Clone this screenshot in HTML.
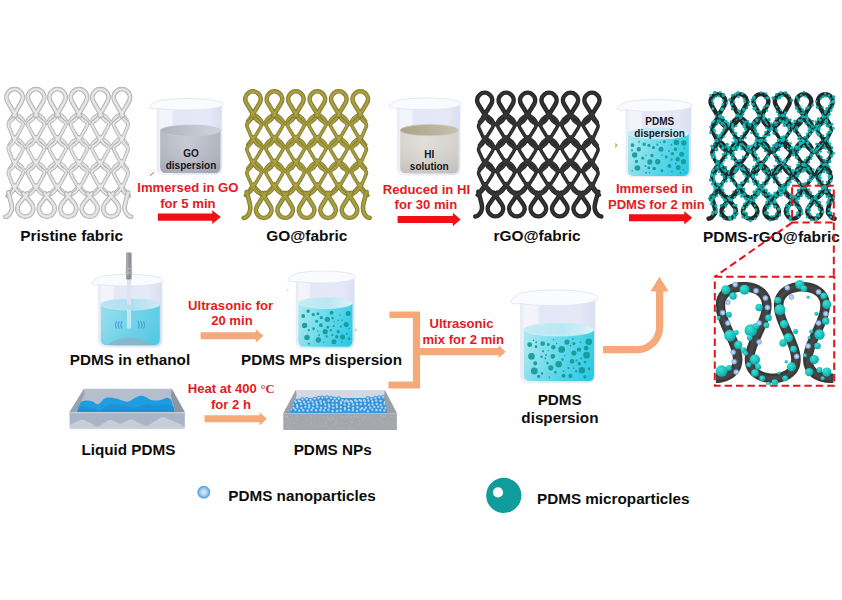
<!DOCTYPE html>
<html><head><meta charset="utf-8"><title>PDMS-rGO@fabric preparation</title>
<style>
html,body{margin:0;padding:0;background:#fff;}
body{width:842px;height:600px;overflow:hidden;font-family:"Liberation Sans",sans-serif;}
svg{display:block}
</style></head><body>
<svg width="842" height="600" viewBox="0 0 842 600">
<defs>
<linearGradient id="gl1" x1="0" x2="1" y1="0" y2="0"><stop offset="0" stop-color="#e6e9f6"/><stop offset="0.06" stop-color="#f4f5fb"/><stop offset="0.22" stop-color="#f3f4fb"/><stop offset="0.26" stop-color="#e3e7f6"/><stop offset="0.8" stop-color="#e4e8f7"/><stop offset="1" stop-color="#d9def2"/></linearGradient>
<linearGradient id="lq1" x1="0" x2="1" y1="0" y2="0"><stop offset="0" stop-color="#b4b8c2"/><stop offset="0.45" stop-color="#c6c9d3"/><stop offset="1" stop-color="#afb3be"/></linearGradient>
<linearGradient id="ls1" x1="0" x2="1" y1="0" y2="0"><stop offset="0" stop-color="#aeb2ba"/><stop offset="0.6" stop-color="#c4c7cf"/><stop offset="1" stop-color="#cfd2da"/></linearGradient>
<linearGradient id="lh1" x1="0" x2="0" y1="0" y2="1"><stop offset="0" stop-color="#ffffff" stop-opacity="0"/><stop offset="1" stop-color="#6c707c" stop-opacity="0.28"/></linearGradient>
<linearGradient id="gl2" x1="0" x2="1" y1="0" y2="0"><stop offset="0" stop-color="#e6e9f6"/><stop offset="0.06" stop-color="#f4f5fb"/><stop offset="0.22" stop-color="#f3f4fb"/><stop offset="0.26" stop-color="#e3e7f6"/><stop offset="0.8" stop-color="#e4e8f7"/><stop offset="1" stop-color="#d9def2"/></linearGradient>
<linearGradient id="lq2" x1="0" x2="1" y1="0" y2="0"><stop offset="0" stop-color="#d6d4cd"/><stop offset="0.4" stop-color="#e1dfd9"/><stop offset="1" stop-color="#d3d1ca"/></linearGradient>
<linearGradient id="ls2" x1="0" x2="1" y1="0" y2="0"><stop offset="0" stop-color="#a9a389"/><stop offset="0.5" stop-color="#b7b199"/><stop offset="1" stop-color="#c6c1ad"/></linearGradient>
<linearGradient id="lh2" x1="0" x2="0" y1="0" y2="1"><stop offset="0" stop-color="#ffffff" stop-opacity="0"/><stop offset="1" stop-color="#77766e" stop-opacity="0.22"/></linearGradient>
<linearGradient id="gl3" x1="0" x2="1" y1="0" y2="0"><stop offset="0" stop-color="#e6e9f6"/><stop offset="0.06" stop-color="#f4f5fb"/><stop offset="0.22" stop-color="#f3f4fb"/><stop offset="0.26" stop-color="#e3e7f6"/><stop offset="0.8" stop-color="#e4e8f7"/><stop offset="1" stop-color="#d9def2"/></linearGradient>
<linearGradient id="lq3" x1="0" x2="1" y1="0" y2="0"><stop offset="0" stop-color="#a6e8f2"/><stop offset="0.45" stop-color="#66daea"/><stop offset="1" stop-color="#27cbe7"/></linearGradient>
<linearGradient id="ls3" x1="0" x2="1" y1="0" y2="0"><stop offset="0" stop-color="#c6ecf6"/><stop offset="0.55" stop-color="#bae7f3"/><stop offset="1" stop-color="#dcf2f9"/></linearGradient>
<linearGradient id="lh3" x1="0" x2="0" y1="0" y2="1"><stop offset="0" stop-color="#ffffff" stop-opacity="0.1"/><stop offset="1" stop-color="#12b2da" stop-opacity="0.16"/></linearGradient>
<linearGradient id="gl4" x1="0" x2="1" y1="0" y2="0"><stop offset="0" stop-color="#e6e9f6"/><stop offset="0.06" stop-color="#f4f5fb"/><stop offset="0.22" stop-color="#f3f4fb"/><stop offset="0.26" stop-color="#e3e7f6"/><stop offset="0.8" stop-color="#e4e8f7"/><stop offset="1" stop-color="#d9def2"/></linearGradient>
<linearGradient id="lq4" x1="0" x2="1" y1="0" y2="0"><stop offset="0" stop-color="#8fdcec"/><stop offset="0.5" stop-color="#6fd4e8"/><stop offset="1" stop-color="#55cbe6"/></linearGradient>
<linearGradient id="ls4" x1="0" x2="1" y1="0" y2="0"><stop offset="0" stop-color="#b9e5f2"/><stop offset="0.55" stop-color="#b0e1f0"/><stop offset="1" stop-color="#cdeaf6"/></linearGradient>
<linearGradient id="lh4" x1="0" x2="0" y1="0" y2="1"><stop offset="0" stop-color="#ffffff" stop-opacity="0.05"/><stop offset="1" stop-color="#2aa6d2" stop-opacity="0.18"/></linearGradient>
<linearGradient id="gl5" x1="0" x2="1" y1="0" y2="0"><stop offset="0" stop-color="#e6e9f6"/><stop offset="0.06" stop-color="#f4f5fb"/><stop offset="0.22" stop-color="#f3f4fb"/><stop offset="0.26" stop-color="#e3e7f6"/><stop offset="0.8" stop-color="#e4e8f7"/><stop offset="1" stop-color="#d9def2"/></linearGradient>
<linearGradient id="lq5" x1="0" x2="1" y1="0" y2="0"><stop offset="0" stop-color="#a6e8f2"/><stop offset="0.45" stop-color="#66daea"/><stop offset="1" stop-color="#27cbe7"/></linearGradient>
<linearGradient id="ls5" x1="0" x2="1" y1="0" y2="0"><stop offset="0" stop-color="#c6ecf6"/><stop offset="0.55" stop-color="#bae7f3"/><stop offset="1" stop-color="#dcf2f9"/></linearGradient>
<linearGradient id="lh5" x1="0" x2="0" y1="0" y2="1"><stop offset="0" stop-color="#ffffff" stop-opacity="0.1"/><stop offset="1" stop-color="#12b2da" stop-opacity="0.16"/></linearGradient>
<linearGradient id="gl6" x1="0" x2="1" y1="0" y2="0"><stop offset="0" stop-color="#e6e9f6"/><stop offset="0.06" stop-color="#f4f5fb"/><stop offset="0.22" stop-color="#f3f4fb"/><stop offset="0.26" stop-color="#e3e7f6"/><stop offset="0.8" stop-color="#e4e8f7"/><stop offset="1" stop-color="#d9def2"/></linearGradient>
<linearGradient id="lq6" x1="0" x2="1" y1="0" y2="0"><stop offset="0" stop-color="#a6e8f2"/><stop offset="0.45" stop-color="#66daea"/><stop offset="1" stop-color="#27cbe7"/></linearGradient>
<linearGradient id="ls6" x1="0" x2="1" y1="0" y2="0"><stop offset="0" stop-color="#c6ecf6"/><stop offset="0.55" stop-color="#bae7f3"/><stop offset="1" stop-color="#dcf2f9"/></linearGradient>
<linearGradient id="lh6" x1="0" x2="0" y1="0" y2="1"><stop offset="0" stop-color="#ffffff" stop-opacity="0.1"/><stop offset="1" stop-color="#12b2da" stop-opacity="0.16"/></linearGradient>
<radialGradient id="leg1" cx="0.5" cy="0.5" r="0.5"><stop offset="0" stop-color="#d9ecfa"/><stop offset="0.45" stop-color="#b4d6f2"/><stop offset="0.8" stop-color="#6fb0e4"/><stop offset="1" stop-color="#4b9ad8"/></radialGradient>
<radialGradient id="tealg" cx="0.38" cy="0.32" r="0.75"><stop offset="0" stop-color="#3fe0d6"/><stop offset="0.55" stop-color="#19c2bc"/><stop offset="1" stop-color="#0fa09c"/></radialGradient>
<radialGradient id="npg" cx="0.5" cy="0.5" r="0.5"><stop offset="0" stop-color="#d4e6fa"/><stop offset="0.5" stop-color="#a9c8f0"/><stop offset="1" stop-color="#7ea8e4"/></radialGradient>
</defs>
<rect width="842" height="600" fill="#ffffff"/>
<!-- fabrics -->
<g fill="none" stroke-linecap="round" stroke-linejoin="round">
<path d="M9.31 120.52L15.2 113M14 113L18.62 115.66Q21.22 117.15 22.7 119.76L23.85 121.79Q25.32 124.4 26.8 121.79L27.95 119.76Q29.43 117.15 32.03 115.66L36.65 113M35.45 113L40.07 115.66Q42.67 117.15 44.15 119.76L45.3 121.79Q46.77 124.4 48.25 121.79L49.4 119.76Q50.88 117.15 53.48 115.66L58.1 113M56.9 113L61.52 115.66Q64.12 117.15 65.6 119.76L66.75 121.79Q68.22 124.4 69.7 121.79L70.85 119.76Q72.33 117.15 74.93 115.66L79.55 113M78.35 113L82.97 115.66Q85.57 117.15 87.05 119.76L88.2 121.79Q89.67 124.4 91.15 121.79L92.3 119.76Q93.78 117.15 96.38 115.66L101 113M99.8 113L104.42 115.66Q107.02 117.15 108.5 119.76L109.65 121.79Q111.12 124.4 112.6 121.79L113.75 119.76Q115.23 117.15 117.83 115.66L122.45 113M121.25 113L127.14 120.52M9.31 144.72L15.2 137.2M14 137.2L18.62 139.86Q21.22 141.35 22.7 143.96L23.85 145.99Q25.32 148.6 26.8 145.99L27.95 143.96Q29.43 141.35 32.03 139.86L36.65 137.2M35.45 137.2L40.07 139.86Q42.67 141.35 44.15 143.96L45.3 145.99Q46.77 148.6 48.25 145.99L49.4 143.96Q50.88 141.35 53.48 139.86L58.1 137.2M56.9 137.2L61.52 139.86Q64.12 141.35 65.6 143.96L66.75 145.99Q68.22 148.6 69.7 145.99L70.85 143.96Q72.33 141.35 74.93 139.86L79.55 137.2M78.35 137.2L82.97 139.86Q85.57 141.35 87.05 143.96L88.2 145.99Q89.67 148.6 91.15 145.99L92.3 143.96Q93.78 141.35 96.38 139.86L101 137.2M99.8 137.2L104.42 139.86Q107.02 141.35 108.5 143.96L109.65 145.99Q111.12 148.6 112.6 145.99L113.75 143.96Q115.23 141.35 117.83 139.86L122.45 137.2M121.25 137.2L127.14 144.72M9.31 168.92L15.2 161.4M14 161.4L18.62 164.06Q21.22 165.55 22.7 168.16L23.85 170.19Q25.32 172.8 26.8 170.19L27.95 168.16Q29.43 165.55 32.03 164.06L36.65 161.4M35.45 161.4L40.07 164.06Q42.67 165.55 44.15 168.16L45.3 170.19Q46.77 172.8 48.25 170.19L49.4 168.16Q50.88 165.55 53.48 164.06L58.1 161.4M56.9 161.4L61.52 164.06Q64.12 165.55 65.6 168.16L66.75 170.19Q68.22 172.8 69.7 170.19L70.85 168.16Q72.33 165.55 74.93 164.06L79.55 161.4M78.35 161.4L82.97 164.06Q85.57 165.55 87.05 168.16L88.2 170.19Q89.67 172.8 91.15 170.19L92.3 168.16Q93.78 165.55 96.38 164.06L101 161.4M99.8 161.4L104.42 164.06Q107.02 165.55 108.5 168.16L109.65 170.19Q111.12 172.8 112.6 170.19L113.75 168.16Q115.23 165.55 117.83 164.06L122.45 161.4M121.25 161.4L127.14 168.92M15.3 185.5L7.18 195.8M13.9 185.5L24.43 195.8M36.75 185.5L26.22 195.8M35.35 185.5L45.88 195.8M58.2 185.5L47.67 195.8M56.8 185.5L67.32 195.8M79.65 185.5L69.12 195.8M78.25 185.5L88.77 195.8M101.1 185.5L90.58 195.8M99.7 185.5L110.22 195.8M122.55 185.5L112.02 195.8M121.15 185.5L129.27 195.8" stroke="#adadad" stroke-width="3.7"/>
<path d="M9.31 120.52L15.2 113M14 113L18.62 115.66Q21.22 117.15 22.7 119.76L23.85 121.79Q25.32 124.4 26.8 121.79L27.95 119.76Q29.43 117.15 32.03 115.66L36.65 113M35.45 113L40.07 115.66Q42.67 117.15 44.15 119.76L45.3 121.79Q46.77 124.4 48.25 121.79L49.4 119.76Q50.88 117.15 53.48 115.66L58.1 113M56.9 113L61.52 115.66Q64.12 117.15 65.6 119.76L66.75 121.79Q68.22 124.4 69.7 121.79L70.85 119.76Q72.33 117.15 74.93 115.66L79.55 113M78.35 113L82.97 115.66Q85.57 117.15 87.05 119.76L88.2 121.79Q89.67 124.4 91.15 121.79L92.3 119.76Q93.78 117.15 96.38 115.66L101 113M99.8 113L104.42 115.66Q107.02 117.15 108.5 119.76L109.65 121.79Q111.12 124.4 112.6 121.79L113.75 119.76Q115.23 117.15 117.83 115.66L122.45 113M121.25 113L127.14 120.52M9.31 144.72L15.2 137.2M14 137.2L18.62 139.86Q21.22 141.35 22.7 143.96L23.85 145.99Q25.32 148.6 26.8 145.99L27.95 143.96Q29.43 141.35 32.03 139.86L36.65 137.2M35.45 137.2L40.07 139.86Q42.67 141.35 44.15 143.96L45.3 145.99Q46.77 148.6 48.25 145.99L49.4 143.96Q50.88 141.35 53.48 139.86L58.1 137.2M56.9 137.2L61.52 139.86Q64.12 141.35 65.6 143.96L66.75 145.99Q68.22 148.6 69.7 145.99L70.85 143.96Q72.33 141.35 74.93 139.86L79.55 137.2M78.35 137.2L82.97 139.86Q85.57 141.35 87.05 143.96L88.2 145.99Q89.67 148.6 91.15 145.99L92.3 143.96Q93.78 141.35 96.38 139.86L101 137.2M99.8 137.2L104.42 139.86Q107.02 141.35 108.5 143.96L109.65 145.99Q111.12 148.6 112.6 145.99L113.75 143.96Q115.23 141.35 117.83 139.86L122.45 137.2M121.25 137.2L127.14 144.72M9.31 168.92L15.2 161.4M14 161.4L18.62 164.06Q21.22 165.55 22.7 168.16L23.85 170.19Q25.32 172.8 26.8 170.19L27.95 168.16Q29.43 165.55 32.03 164.06L36.65 161.4M35.45 161.4L40.07 164.06Q42.67 165.55 44.15 168.16L45.3 170.19Q46.77 172.8 48.25 170.19L49.4 168.16Q50.88 165.55 53.48 164.06L58.1 161.4M56.9 161.4L61.52 164.06Q64.12 165.55 65.6 168.16L66.75 170.19Q68.22 172.8 69.7 170.19L70.85 168.16Q72.33 165.55 74.93 164.06L79.55 161.4M78.35 161.4L82.97 164.06Q85.57 165.55 87.05 168.16L88.2 170.19Q89.67 172.8 91.15 170.19L92.3 168.16Q93.78 165.55 96.38 164.06L101 161.4M99.8 161.4L104.42 164.06Q107.02 165.55 108.5 168.16L109.65 170.19Q111.12 172.8 112.6 170.19L113.75 168.16Q115.23 165.55 117.83 164.06L122.45 161.4M121.25 161.4L127.14 168.92M15.3 185.5L7.18 195.8M13.9 185.5L24.43 195.8M36.75 185.5L26.22 195.8M35.35 185.5L45.88 195.8M58.2 185.5L47.67 195.8M56.8 185.5L67.32 195.8M79.65 185.5L69.12 195.8M78.25 185.5L88.77 195.8M101.1 185.5L90.58 195.8M99.7 185.5L110.22 195.8M122.55 185.5L112.02 195.8M121.15 185.5L129.27 195.8" stroke="#d3d3d3" stroke-width="2.5"/>
<path d="M9.31 120.52L15.2 113M14 113L18.62 115.66Q21.22 117.15 22.7 119.76L23.85 121.79Q25.32 124.4 26.8 121.79L27.95 119.76Q29.43 117.15 32.03 115.66L36.65 113M35.45 113L40.07 115.66Q42.67 117.15 44.15 119.76L45.3 121.79Q46.77 124.4 48.25 121.79L49.4 119.76Q50.88 117.15 53.48 115.66L58.1 113M56.9 113L61.52 115.66Q64.12 117.15 65.6 119.76L66.75 121.79Q68.22 124.4 69.7 121.79L70.85 119.76Q72.33 117.15 74.93 115.66L79.55 113M78.35 113L82.97 115.66Q85.57 117.15 87.05 119.76L88.2 121.79Q89.67 124.4 91.15 121.79L92.3 119.76Q93.78 117.15 96.38 115.66L101 113M99.8 113L104.42 115.66Q107.02 117.15 108.5 119.76L109.65 121.79Q111.12 124.4 112.6 121.79L113.75 119.76Q115.23 117.15 117.83 115.66L122.45 113M121.25 113L127.14 120.52M9.31 144.72L15.2 137.2M14 137.2L18.62 139.86Q21.22 141.35 22.7 143.96L23.85 145.99Q25.32 148.6 26.8 145.99L27.95 143.96Q29.43 141.35 32.03 139.86L36.65 137.2M35.45 137.2L40.07 139.86Q42.67 141.35 44.15 143.96L45.3 145.99Q46.77 148.6 48.25 145.99L49.4 143.96Q50.88 141.35 53.48 139.86L58.1 137.2M56.9 137.2L61.52 139.86Q64.12 141.35 65.6 143.96L66.75 145.99Q68.22 148.6 69.7 145.99L70.85 143.96Q72.33 141.35 74.93 139.86L79.55 137.2M78.35 137.2L82.97 139.86Q85.57 141.35 87.05 143.96L88.2 145.99Q89.67 148.6 91.15 145.99L92.3 143.96Q93.78 141.35 96.38 139.86L101 137.2M99.8 137.2L104.42 139.86Q107.02 141.35 108.5 143.96L109.65 145.99Q111.12 148.6 112.6 145.99L113.75 143.96Q115.23 141.35 117.83 139.86L122.45 137.2M121.25 137.2L127.14 144.72M9.31 168.92L15.2 161.4M14 161.4L18.62 164.06Q21.22 165.55 22.7 168.16L23.85 170.19Q25.32 172.8 26.8 170.19L27.95 168.16Q29.43 165.55 32.03 164.06L36.65 161.4M35.45 161.4L40.07 164.06Q42.67 165.55 44.15 168.16L45.3 170.19Q46.77 172.8 48.25 170.19L49.4 168.16Q50.88 165.55 53.48 164.06L58.1 161.4M56.9 161.4L61.52 164.06Q64.12 165.55 65.6 168.16L66.75 170.19Q68.22 172.8 69.7 170.19L70.85 168.16Q72.33 165.55 74.93 164.06L79.55 161.4M78.35 161.4L82.97 164.06Q85.57 165.55 87.05 168.16L88.2 170.19Q89.67 172.8 91.15 170.19L92.3 168.16Q93.78 165.55 96.38 164.06L101 161.4M99.8 161.4L104.42 164.06Q107.02 165.55 108.5 168.16L109.65 170.19Q111.12 172.8 112.6 170.19L113.75 168.16Q115.23 165.55 117.83 164.06L122.45 161.4M121.25 161.4L127.14 168.92M15.3 185.5L7.18 195.8M13.9 185.5L24.43 195.8M36.75 185.5L26.22 195.8M35.35 185.5L45.88 195.8M58.2 185.5L47.67 195.8M56.8 185.5L67.32 195.8M79.65 185.5L69.12 195.8M78.25 185.5L88.77 195.8M101.1 185.5L90.58 195.8M99.7 185.5L110.22 195.8M122.55 185.5L112.02 195.8M121.15 185.5L129.27 195.8" stroke="#e8e8e8" stroke-width="1.2"/>
<path d="M15.4 112.8L14.29 116.07Q13.19 119.33 10.33 121.27L10.33 121.27Q7.48 123.2 8.76 126.4L13.8 139M13.8 112.8L15.71 116.37Q17.4 119.55 20.57 121.27L20.96 121.48Q24.12 123.2 22.38 126.35L15.4 139M36.85 112.8L34.94 116.37Q33.25 119.55 30.08 121.27L29.69 121.48Q26.52 123.2 28.27 126.35L35.25 139M35.25 112.8L37.16 116.37Q38.85 119.55 42.02 121.27L42.41 121.48Q45.57 123.2 43.83 126.35L36.85 139M58.3 112.8L56.39 116.37Q54.7 119.55 51.53 121.27L51.14 121.48Q47.98 123.2 49.72 126.35L56.7 139M56.7 112.8L58.61 116.37Q60.3 119.55 63.47 121.27L63.86 121.48Q67.02 123.2 65.28 126.35L58.3 139M79.75 112.8L77.84 116.37Q76.15 119.55 72.98 121.27L72.59 121.48Q69.42 123.2 71.17 126.35L78.15 139M78.15 112.8L80.06 116.37Q81.75 119.55 84.92 121.27L85.31 121.48Q88.47 123.2 86.73 126.35L79.75 139M101.2 112.8L99.29 116.37Q97.6 119.55 94.43 121.27L94.04 121.48Q90.88 123.2 92.62 126.35L99.6 139M99.6 112.8L101.51 116.37Q103.2 119.55 106.37 121.27L106.76 121.48Q109.92 123.2 108.18 126.35L101.2 139M122.65 112.8L120.74 116.37Q119.05 119.55 115.88 121.27L115.49 121.48Q112.32 123.2 114.07 126.35L121.05 139M121.05 112.8L122.16 116.07Q123.26 119.33 126.12 121.27L126.12 121.27Q128.97 123.2 127.69 126.4L122.65 139M15.4 137L14.29 140.27Q13.19 143.53 10.33 145.47L10.33 145.47Q7.48 147.4 8.76 150.6L13.8 163.2M13.8 137L15.71 140.57Q17.4 143.75 20.57 145.47L20.96 145.68Q24.12 147.4 22.38 150.55L15.4 163.2M36.85 137L34.94 140.57Q33.25 143.75 30.08 145.47L29.69 145.68Q26.52 147.4 28.27 150.55L35.25 163.2M35.25 137L37.16 140.57Q38.85 143.75 42.02 145.47L42.41 145.68Q45.57 147.4 43.83 150.55L36.85 163.2M58.3 137L56.39 140.57Q54.7 143.75 51.53 145.47L51.14 145.68Q47.98 147.4 49.72 150.55L56.7 163.2M56.7 137L58.61 140.57Q60.3 143.75 63.47 145.47L63.86 145.68Q67.02 147.4 65.28 150.55L58.3 163.2M79.75 137L77.84 140.57Q76.15 143.75 72.98 145.47L72.59 145.68Q69.42 147.4 71.17 150.55L78.15 163.2M78.15 137L80.06 140.57Q81.75 143.75 84.92 145.47L85.31 145.68Q88.47 147.4 86.73 150.55L79.75 163.2M101.2 137L99.29 140.57Q97.6 143.75 94.43 145.47L94.04 145.68Q90.88 147.4 92.62 150.55L99.6 163.2M99.6 137L101.51 140.57Q103.2 143.75 106.37 145.47L106.76 145.68Q109.92 147.4 108.18 150.55L101.2 163.2M122.65 137L120.74 140.57Q119.05 143.75 115.88 145.47L115.49 145.68Q112.32 147.4 114.07 150.55L121.05 163.2M121.05 137L122.16 140.27Q123.26 143.53 126.12 145.47L126.12 145.47Q128.97 147.4 127.69 150.6L122.65 163.2M15.4 161.2L14.29 164.47Q13.19 167.73 10.33 169.67L10.33 169.67Q7.48 171.6 8.76 174.8L13.8 187.4M13.8 161.2L15.71 164.77Q17.4 167.95 20.57 169.67L20.96 169.88Q24.12 171.6 22.38 174.75L15.4 187.4M36.85 161.2L34.94 164.77Q33.25 167.95 30.08 169.67L29.69 169.88Q26.52 171.6 28.27 174.75L35.25 187.4M35.25 161.2L37.16 164.77Q38.85 167.95 42.02 169.67L42.41 169.88Q45.57 171.6 43.83 174.75L36.85 187.4M58.3 161.2L56.39 164.77Q54.7 167.95 51.53 169.67L51.14 169.88Q47.98 171.6 49.72 174.75L56.7 187.4M56.7 161.2L58.61 164.77Q60.3 167.95 63.47 169.67L63.86 169.88Q67.02 171.6 65.28 174.75L58.3 187.4M79.75 161.2L77.84 164.77Q76.15 167.95 72.98 169.67L72.59 169.88Q69.42 171.6 71.17 174.75L78.15 187.4M78.15 161.2L80.06 164.77Q81.75 167.95 84.92 169.67L85.31 169.88Q88.47 171.6 86.73 174.75L79.75 187.4M101.2 161.2L99.29 164.77Q97.6 167.95 94.43 169.67L94.04 169.88Q90.88 171.6 92.62 174.75L99.6 187.4M99.6 161.2L101.51 164.77Q103.2 167.95 106.37 169.67L106.76 169.88Q109.92 171.6 108.18 174.75L101.2 187.4M122.65 161.2L120.74 164.77Q119.05 167.95 115.88 169.67L115.49 169.88Q112.32 171.6 114.07 174.75L121.05 187.4M121.05 161.2L122.16 164.47Q123.26 167.73 126.12 169.67L126.12 169.67Q128.97 171.6 127.69 174.8L122.65 187.4M15.4 185.4L14.29 188.67Q13.19 191.93 10.33 193.87L7.48 195.8M13.8 185.4L15.71 188.97Q17.4 192.15 20.57 193.87L24.12 195.8M36.85 185.4L34.94 188.97Q33.25 192.15 30.08 193.87L26.52 195.8M35.25 185.4L37.16 188.97Q38.85 192.15 42.02 193.87L45.57 195.8M58.3 185.4L56.39 188.97Q54.7 192.15 51.53 193.87L47.98 195.8M56.7 185.4L58.61 188.97Q60.3 192.15 63.47 193.87L67.02 195.8M79.75 185.4L77.84 188.97Q76.15 192.15 72.98 193.87L69.42 195.8M78.15 185.4L80.06 188.97Q81.75 192.15 84.92 193.87L88.47 195.8M101.2 185.4L99.29 188.97Q97.6 192.15 94.43 193.87L90.88 195.8M99.6 185.4L101.51 188.97Q103.2 192.15 106.37 193.87L109.92 195.8M122.65 185.4L120.74 188.97Q119.05 192.15 115.88 193.87L112.32 195.8M121.05 185.4L122.16 188.67Q123.26 191.93 126.12 193.87L128.97 195.8" stroke="#adadad" stroke-width="3.7"/>
<path d="M15.4 112.8L14.29 116.07Q13.19 119.33 10.33 121.27L10.33 121.27Q7.48 123.2 8.76 126.4L13.8 139M13.8 112.8L15.71 116.37Q17.4 119.55 20.57 121.27L20.96 121.48Q24.12 123.2 22.38 126.35L15.4 139M36.85 112.8L34.94 116.37Q33.25 119.55 30.08 121.27L29.69 121.48Q26.52 123.2 28.27 126.35L35.25 139M35.25 112.8L37.16 116.37Q38.85 119.55 42.02 121.27L42.41 121.48Q45.57 123.2 43.83 126.35L36.85 139M58.3 112.8L56.39 116.37Q54.7 119.55 51.53 121.27L51.14 121.48Q47.98 123.2 49.72 126.35L56.7 139M56.7 112.8L58.61 116.37Q60.3 119.55 63.47 121.27L63.86 121.48Q67.02 123.2 65.28 126.35L58.3 139M79.75 112.8L77.84 116.37Q76.15 119.55 72.98 121.27L72.59 121.48Q69.42 123.2 71.17 126.35L78.15 139M78.15 112.8L80.06 116.37Q81.75 119.55 84.92 121.27L85.31 121.48Q88.47 123.2 86.73 126.35L79.75 139M101.2 112.8L99.29 116.37Q97.6 119.55 94.43 121.27L94.04 121.48Q90.88 123.2 92.62 126.35L99.6 139M99.6 112.8L101.51 116.37Q103.2 119.55 106.37 121.27L106.76 121.48Q109.92 123.2 108.18 126.35L101.2 139M122.65 112.8L120.74 116.37Q119.05 119.55 115.88 121.27L115.49 121.48Q112.32 123.2 114.07 126.35L121.05 139M121.05 112.8L122.16 116.07Q123.26 119.33 126.12 121.27L126.12 121.27Q128.97 123.2 127.69 126.4L122.65 139M15.4 137L14.29 140.27Q13.19 143.53 10.33 145.47L10.33 145.47Q7.48 147.4 8.76 150.6L13.8 163.2M13.8 137L15.71 140.57Q17.4 143.75 20.57 145.47L20.96 145.68Q24.12 147.4 22.38 150.55L15.4 163.2M36.85 137L34.94 140.57Q33.25 143.75 30.08 145.47L29.69 145.68Q26.52 147.4 28.27 150.55L35.25 163.2M35.25 137L37.16 140.57Q38.85 143.75 42.02 145.47L42.41 145.68Q45.57 147.4 43.83 150.55L36.85 163.2M58.3 137L56.39 140.57Q54.7 143.75 51.53 145.47L51.14 145.68Q47.98 147.4 49.72 150.55L56.7 163.2M56.7 137L58.61 140.57Q60.3 143.75 63.47 145.47L63.86 145.68Q67.02 147.4 65.28 150.55L58.3 163.2M79.75 137L77.84 140.57Q76.15 143.75 72.98 145.47L72.59 145.68Q69.42 147.4 71.17 150.55L78.15 163.2M78.15 137L80.06 140.57Q81.75 143.75 84.92 145.47L85.31 145.68Q88.47 147.4 86.73 150.55L79.75 163.2M101.2 137L99.29 140.57Q97.6 143.75 94.43 145.47L94.04 145.68Q90.88 147.4 92.62 150.55L99.6 163.2M99.6 137L101.51 140.57Q103.2 143.75 106.37 145.47L106.76 145.68Q109.92 147.4 108.18 150.55L101.2 163.2M122.65 137L120.74 140.57Q119.05 143.75 115.88 145.47L115.49 145.68Q112.32 147.4 114.07 150.55L121.05 163.2M121.05 137L122.16 140.27Q123.26 143.53 126.12 145.47L126.12 145.47Q128.97 147.4 127.69 150.6L122.65 163.2M15.4 161.2L14.29 164.47Q13.19 167.73 10.33 169.67L10.33 169.67Q7.48 171.6 8.76 174.8L13.8 187.4M13.8 161.2L15.71 164.77Q17.4 167.95 20.57 169.67L20.96 169.88Q24.12 171.6 22.38 174.75L15.4 187.4M36.85 161.2L34.94 164.77Q33.25 167.95 30.08 169.67L29.69 169.88Q26.52 171.6 28.27 174.75L35.25 187.4M35.25 161.2L37.16 164.77Q38.85 167.95 42.02 169.67L42.41 169.88Q45.57 171.6 43.83 174.75L36.85 187.4M58.3 161.2L56.39 164.77Q54.7 167.95 51.53 169.67L51.14 169.88Q47.98 171.6 49.72 174.75L56.7 187.4M56.7 161.2L58.61 164.77Q60.3 167.95 63.47 169.67L63.86 169.88Q67.02 171.6 65.28 174.75L58.3 187.4M79.75 161.2L77.84 164.77Q76.15 167.95 72.98 169.67L72.59 169.88Q69.42 171.6 71.17 174.75L78.15 187.4M78.15 161.2L80.06 164.77Q81.75 167.95 84.92 169.67L85.31 169.88Q88.47 171.6 86.73 174.75L79.75 187.4M101.2 161.2L99.29 164.77Q97.6 167.95 94.43 169.67L94.04 169.88Q90.88 171.6 92.62 174.75L99.6 187.4M99.6 161.2L101.51 164.77Q103.2 167.95 106.37 169.67L106.76 169.88Q109.92 171.6 108.18 174.75L101.2 187.4M122.65 161.2L120.74 164.77Q119.05 167.95 115.88 169.67L115.49 169.88Q112.32 171.6 114.07 174.75L121.05 187.4M121.05 161.2L122.16 164.47Q123.26 167.73 126.12 169.67L126.12 169.67Q128.97 171.6 127.69 174.8L122.65 187.4M15.4 185.4L14.29 188.67Q13.19 191.93 10.33 193.87L7.48 195.8M13.8 185.4L15.71 188.97Q17.4 192.15 20.57 193.87L24.12 195.8M36.85 185.4L34.94 188.97Q33.25 192.15 30.08 193.87L26.52 195.8M35.25 185.4L37.16 188.97Q38.85 192.15 42.02 193.87L45.57 195.8M58.3 185.4L56.39 188.97Q54.7 192.15 51.53 193.87L47.98 195.8M56.7 185.4L58.61 188.97Q60.3 192.15 63.47 193.87L67.02 195.8M79.75 185.4L77.84 188.97Q76.15 192.15 72.98 193.87L69.42 195.8M78.15 185.4L80.06 188.97Q81.75 192.15 84.92 193.87L88.47 195.8M101.2 185.4L99.29 188.97Q97.6 192.15 94.43 193.87L90.88 195.8M99.6 185.4L101.51 188.97Q103.2 192.15 106.37 193.87L109.92 195.8M122.65 185.4L120.74 188.97Q119.05 192.15 115.88 193.87L112.32 195.8M121.05 185.4L122.16 188.67Q123.26 191.93 126.12 193.87L128.97 195.8" stroke="#d3d3d3" stroke-width="2.5"/>
<path d="M15.4 112.8L14.29 116.07Q13.19 119.33 10.33 121.27L10.33 121.27Q7.48 123.2 8.76 126.4L13.8 139M13.8 112.8L15.71 116.37Q17.4 119.55 20.57 121.27L20.96 121.48Q24.12 123.2 22.38 126.35L15.4 139M36.85 112.8L34.94 116.37Q33.25 119.55 30.08 121.27L29.69 121.48Q26.52 123.2 28.27 126.35L35.25 139M35.25 112.8L37.16 116.37Q38.85 119.55 42.02 121.27L42.41 121.48Q45.57 123.2 43.83 126.35L36.85 139M58.3 112.8L56.39 116.37Q54.7 119.55 51.53 121.27L51.14 121.48Q47.98 123.2 49.72 126.35L56.7 139M56.7 112.8L58.61 116.37Q60.3 119.55 63.47 121.27L63.86 121.48Q67.02 123.2 65.28 126.35L58.3 139M79.75 112.8L77.84 116.37Q76.15 119.55 72.98 121.27L72.59 121.48Q69.42 123.2 71.17 126.35L78.15 139M78.15 112.8L80.06 116.37Q81.75 119.55 84.92 121.27L85.31 121.48Q88.47 123.2 86.73 126.35L79.75 139M101.2 112.8L99.29 116.37Q97.6 119.55 94.43 121.27L94.04 121.48Q90.88 123.2 92.62 126.35L99.6 139M99.6 112.8L101.51 116.37Q103.2 119.55 106.37 121.27L106.76 121.48Q109.92 123.2 108.18 126.35L101.2 139M122.65 112.8L120.74 116.37Q119.05 119.55 115.88 121.27L115.49 121.48Q112.32 123.2 114.07 126.35L121.05 139M121.05 112.8L122.16 116.07Q123.26 119.33 126.12 121.27L126.12 121.27Q128.97 123.2 127.69 126.4L122.65 139M15.4 137L14.29 140.27Q13.19 143.53 10.33 145.47L10.33 145.47Q7.48 147.4 8.76 150.6L13.8 163.2M13.8 137L15.71 140.57Q17.4 143.75 20.57 145.47L20.96 145.68Q24.12 147.4 22.38 150.55L15.4 163.2M36.85 137L34.94 140.57Q33.25 143.75 30.08 145.47L29.69 145.68Q26.52 147.4 28.27 150.55L35.25 163.2M35.25 137L37.16 140.57Q38.85 143.75 42.02 145.47L42.41 145.68Q45.57 147.4 43.83 150.55L36.85 163.2M58.3 137L56.39 140.57Q54.7 143.75 51.53 145.47L51.14 145.68Q47.98 147.4 49.72 150.55L56.7 163.2M56.7 137L58.61 140.57Q60.3 143.75 63.47 145.47L63.86 145.68Q67.02 147.4 65.28 150.55L58.3 163.2M79.75 137L77.84 140.57Q76.15 143.75 72.98 145.47L72.59 145.68Q69.42 147.4 71.17 150.55L78.15 163.2M78.15 137L80.06 140.57Q81.75 143.75 84.92 145.47L85.31 145.68Q88.47 147.4 86.73 150.55L79.75 163.2M101.2 137L99.29 140.57Q97.6 143.75 94.43 145.47L94.04 145.68Q90.88 147.4 92.62 150.55L99.6 163.2M99.6 137L101.51 140.57Q103.2 143.75 106.37 145.47L106.76 145.68Q109.92 147.4 108.18 150.55L101.2 163.2M122.65 137L120.74 140.57Q119.05 143.75 115.88 145.47L115.49 145.68Q112.32 147.4 114.07 150.55L121.05 163.2M121.05 137L122.16 140.27Q123.26 143.53 126.12 145.47L126.12 145.47Q128.97 147.4 127.69 150.6L122.65 163.2M15.4 161.2L14.29 164.47Q13.19 167.73 10.33 169.67L10.33 169.67Q7.48 171.6 8.76 174.8L13.8 187.4M13.8 161.2L15.71 164.77Q17.4 167.95 20.57 169.67L20.96 169.88Q24.12 171.6 22.38 174.75L15.4 187.4M36.85 161.2L34.94 164.77Q33.25 167.95 30.08 169.67L29.69 169.88Q26.52 171.6 28.27 174.75L35.25 187.4M35.25 161.2L37.16 164.77Q38.85 167.95 42.02 169.67L42.41 169.88Q45.57 171.6 43.83 174.75L36.85 187.4M58.3 161.2L56.39 164.77Q54.7 167.95 51.53 169.67L51.14 169.88Q47.98 171.6 49.72 174.75L56.7 187.4M56.7 161.2L58.61 164.77Q60.3 167.95 63.47 169.67L63.86 169.88Q67.02 171.6 65.28 174.75L58.3 187.4M79.75 161.2L77.84 164.77Q76.15 167.95 72.98 169.67L72.59 169.88Q69.42 171.6 71.17 174.75L78.15 187.4M78.15 161.2L80.06 164.77Q81.75 167.95 84.92 169.67L85.31 169.88Q88.47 171.6 86.73 174.75L79.75 187.4M101.2 161.2L99.29 164.77Q97.6 167.95 94.43 169.67L94.04 169.88Q90.88 171.6 92.62 174.75L99.6 187.4M99.6 161.2L101.51 164.77Q103.2 167.95 106.37 169.67L106.76 169.88Q109.92 171.6 108.18 174.75L101.2 187.4M122.65 161.2L120.74 164.77Q119.05 167.95 115.88 169.67L115.49 169.88Q112.32 171.6 114.07 174.75L121.05 187.4M121.05 161.2L122.16 164.47Q123.26 167.73 126.12 169.67L126.12 169.67Q128.97 171.6 127.69 174.8L122.65 187.4M15.4 185.4L14.29 188.67Q13.19 191.93 10.33 193.87L7.48 195.8M13.8 185.4L15.71 188.97Q17.4 192.15 20.57 193.87L24.12 195.8M36.85 185.4L34.94 188.97Q33.25 192.15 30.08 193.87L26.52 195.8M35.25 185.4L37.16 188.97Q38.85 192.15 42.02 193.87L45.57 195.8M58.3 185.4L56.39 188.97Q54.7 192.15 51.53 193.87L47.98 195.8M56.7 185.4L58.61 188.97Q60.3 192.15 63.47 193.87L67.02 195.8M79.75 185.4L77.84 188.97Q76.15 192.15 72.98 193.87L69.42 195.8M78.15 185.4L80.06 188.97Q81.75 192.15 84.92 193.87L88.47 195.8M101.2 185.4L99.29 188.97Q97.6 192.15 94.43 193.87L90.88 195.8M99.6 185.4L101.51 188.97Q103.2 192.15 106.37 193.87L109.92 195.8M122.65 185.4L120.74 188.97Q119.05 192.15 115.88 193.87L112.32 195.8M121.05 185.4L122.16 188.67Q123.26 191.93 126.12 193.87L128.97 195.8" stroke="#e8e8e8" stroke-width="1.2"/>
<path d="M13.7 115.36L21.7 101.5A8.2 8.2 0 1 0 7.5 101.5L15.5 115.36M35.15 115.36L43.15 101.5A8.2 8.2 0 1 0 28.95 101.5L36.95 115.36M56.6 115.36L64.6 101.5A8.2 8.2 0 1 0 50.4 101.5L58.4 115.36M78.05 115.36L86.05 101.5A8.2 8.2 0 1 0 71.85 101.5L79.85 115.36M99.5 115.36L107.5 101.5A8.2 8.2 0 1 0 93.3 101.5L101.3 115.36M120.95 115.36L128.95 101.5A8.2 8.2 0 1 0 114.75 101.5L122.75 115.36M23.29 193.53L31.51 203.52A8 8 0 1 1 19.14 203.52L27.36 193.53M44.74 193.53L52.96 203.52A8 8 0 1 1 40.59 203.52L48.81 193.53M66.19 193.53L74.41 203.52A8 8 0 1 1 62.04 203.52L70.26 193.53M87.64 193.53L95.86 203.52A8 8 0 1 1 83.49 203.52L91.71 193.53M109.09 193.53L117.31 203.52A8 8 0 1 1 104.94 203.52L113.16 193.53M8.28 192.5C8.57 193.58 9.52 196.92 10.07 199C10.62 201.08 11.27 203.33 11.57 205C11.88 206.67 12.03 207.77 11.88 209C11.72 210.23 11.34 211.27 10.68 212.4C10.01 213.53 8.78 215.08 7.88 215.8C6.97 216.52 5.71 216.55 5.28 216.7M128.17 192.5C127.87 193.58 126.92 196.92 126.37 199C125.82 201.08 125.17 203.33 124.87 205C124.57 206.67 124.42 207.77 124.57 209C124.72 210.23 125.11 211.27 125.77 212.4C126.44 213.53 127.67 215.08 128.57 215.8C129.47 216.52 130.74 216.55 131.17 216.7" stroke="#adadad" stroke-width="4.7"/>
<path d="M13.7 115.36L21.7 101.5A8.2 8.2 0 1 0 7.5 101.5L15.5 115.36M35.15 115.36L43.15 101.5A8.2 8.2 0 1 0 28.95 101.5L36.95 115.36M56.6 115.36L64.6 101.5A8.2 8.2 0 1 0 50.4 101.5L58.4 115.36M78.05 115.36L86.05 101.5A8.2 8.2 0 1 0 71.85 101.5L79.85 115.36M99.5 115.36L107.5 101.5A8.2 8.2 0 1 0 93.3 101.5L101.3 115.36M120.95 115.36L128.95 101.5A8.2 8.2 0 1 0 114.75 101.5L122.75 115.36M23.29 193.53L31.51 203.52A8 8 0 1 1 19.14 203.52L27.36 193.53M44.74 193.53L52.96 203.52A8 8 0 1 1 40.59 203.52L48.81 193.53M66.19 193.53L74.41 203.52A8 8 0 1 1 62.04 203.52L70.26 193.53M87.64 193.53L95.86 203.52A8 8 0 1 1 83.49 203.52L91.71 193.53M109.09 193.53L117.31 203.52A8 8 0 1 1 104.94 203.52L113.16 193.53M8.28 192.5C8.57 193.58 9.52 196.92 10.07 199C10.62 201.08 11.27 203.33 11.57 205C11.88 206.67 12.03 207.77 11.88 209C11.72 210.23 11.34 211.27 10.68 212.4C10.01 213.53 8.78 215.08 7.88 215.8C6.97 216.52 5.71 216.55 5.28 216.7M128.17 192.5C127.87 193.58 126.92 196.92 126.37 199C125.82 201.08 125.17 203.33 124.87 205C124.57 206.67 124.42 207.77 124.57 209C124.72 210.23 125.11 211.27 125.77 212.4C126.44 213.53 127.67 215.08 128.57 215.8C129.47 216.52 130.74 216.55 131.17 216.7" stroke="#d3d3d3" stroke-width="3.3"/>
<path d="M13.7 115.36L21.7 101.5A8.2 8.2 0 1 0 7.5 101.5L15.5 115.36M35.15 115.36L43.15 101.5A8.2 8.2 0 1 0 28.95 101.5L36.95 115.36M56.6 115.36L64.6 101.5A8.2 8.2 0 1 0 50.4 101.5L58.4 115.36M78.05 115.36L86.05 101.5A8.2 8.2 0 1 0 71.85 101.5L79.85 115.36M99.5 115.36L107.5 101.5A8.2 8.2 0 1 0 93.3 101.5L101.3 115.36M120.95 115.36L128.95 101.5A8.2 8.2 0 1 0 114.75 101.5L122.75 115.36M23.29 193.53L31.51 203.52A8 8 0 1 1 19.14 203.52L27.36 193.53M44.74 193.53L52.96 203.52A8 8 0 1 1 40.59 203.52L48.81 193.53M66.19 193.53L74.41 203.52A8 8 0 1 1 62.04 203.52L70.26 193.53M87.64 193.53L95.86 203.52A8 8 0 1 1 83.49 203.52L91.71 193.53M109.09 193.53L117.31 203.52A8 8 0 1 1 104.94 203.52L113.16 193.53M8.28 192.5C8.57 193.58 9.52 196.92 10.07 199C10.62 201.08 11.27 203.33 11.57 205C11.88 206.67 12.03 207.77 11.88 209C11.72 210.23 11.34 211.27 10.68 212.4C10.01 213.53 8.78 215.08 7.88 215.8C6.97 216.52 5.71 216.55 5.28 216.7M128.17 192.5C127.87 193.58 126.92 196.92 126.37 199C125.82 201.08 125.17 203.33 124.87 205C124.57 206.67 124.42 207.77 124.57 209C124.72 210.23 125.11 211.27 125.77 212.4C126.44 213.53 127.67 215.08 128.57 215.8C129.47 216.52 130.74 216.55 131.17 216.7" stroke="#e8e8e8" stroke-width="1.6"/>
</g>
<g fill="none" stroke-linecap="round" stroke-linejoin="round">
<path d="M247.71 121.19L253.6 113.2M252.4 113.2L257.13 116.16Q259.67 117.75 261.09 120.39L262.31 122.66Q263.73 125.3 265.14 122.66L266.36 120.39Q267.78 117.75 270.32 116.16L275.05 113.2M273.85 113.2L278.58 116.16Q281.12 117.75 282.54 120.39L283.76 122.66Q285.18 125.3 286.59 122.66L287.81 120.39Q289.23 117.75 291.77 116.16L296.5 113.2M295.3 113.2L300.03 116.16Q302.57 117.75 303.99 120.39L305.21 122.66Q306.62 125.3 308.04 122.66L309.26 120.39Q310.68 117.75 313.22 116.16L317.95 113.2M316.75 113.2L321.48 116.16Q324.02 117.75 325.44 120.39L326.66 122.66Q328.07 125.3 329.49 122.66L330.71 120.39Q332.13 117.75 334.67 116.16L339.4 113.2M338.2 113.2L342.93 116.16Q345.47 117.75 346.89 120.39L348.11 122.66Q349.52 125.3 350.94 122.66L352.16 120.39Q353.58 117.75 356.12 116.16L360.85 113.2M359.65 113.2L365.54 121.19M247.71 144.94L253.6 136.95M252.4 136.95L257.13 139.91Q259.67 141.5 261.09 144.14L262.31 146.41Q263.73 149.05 265.14 146.41L266.36 144.14Q267.78 141.5 270.32 139.91L275.05 136.95M273.85 136.95L278.58 139.91Q281.12 141.5 282.54 144.14L283.76 146.41Q285.18 149.05 286.59 146.41L287.81 144.14Q289.23 141.5 291.77 139.91L296.5 136.95M295.3 136.95L300.03 139.91Q302.57 141.5 303.99 144.14L305.21 146.41Q306.62 149.05 308.04 146.41L309.26 144.14Q310.68 141.5 313.22 139.91L317.95 136.95M316.75 136.95L321.48 139.91Q324.02 141.5 325.44 144.14L326.66 146.41Q328.07 149.05 329.49 146.41L330.71 144.14Q332.13 141.5 334.67 139.91L339.4 136.95M338.2 136.95L342.93 139.91Q345.47 141.5 346.89 144.14L348.11 146.41Q349.52 149.05 350.94 146.41L352.16 144.14Q353.58 141.5 356.12 139.91L360.85 136.95M359.65 136.95L365.54 144.94M247.71 168.69L253.6 160.7M252.4 160.7L257.13 163.66Q259.67 165.25 261.09 167.89L262.31 170.16Q263.73 172.8 265.14 170.16L266.36 167.89Q267.78 165.25 270.32 163.66L275.05 160.7M273.85 160.7L278.58 163.66Q281.12 165.25 282.54 167.89L283.76 170.16Q285.18 172.8 286.59 170.16L287.81 167.89Q289.23 165.25 291.77 163.66L296.5 160.7M295.3 160.7L300.03 163.66Q302.57 165.25 303.99 167.89L305.21 170.16Q306.62 172.8 308.04 170.16L309.26 167.89Q310.68 165.25 313.22 163.66L317.95 160.7M316.75 160.7L321.48 163.66Q324.02 165.25 325.44 167.89L326.66 170.16Q328.07 172.8 329.49 170.16L330.71 167.89Q332.13 165.25 334.67 163.66L339.4 160.7M338.2 160.7L342.93 163.66Q345.47 165.25 346.89 167.89L348.11 170.16Q349.52 172.8 350.94 170.16L352.16 167.89Q353.58 165.25 356.12 163.66L360.85 160.7M359.65 160.7L365.54 168.69M253.7 184.35L245.58 195.35M252.3 184.35L262.83 195.35M275.15 184.35L264.62 195.35M273.75 184.35L284.28 195.35M296.6 184.35L286.07 195.35M295.2 184.35L305.73 195.35M318.05 184.35L307.52 195.35M316.65 184.35L327.18 195.35M339.5 184.35L328.97 195.35M338.1 184.35L348.62 195.35M360.95 184.35L350.42 195.35M359.55 184.35L367.68 195.35" stroke="#827c2e" stroke-width="3.6"/>
<path d="M247.71 121.19L253.6 113.2M252.4 113.2L257.13 116.16Q259.67 117.75 261.09 120.39L262.31 122.66Q263.73 125.3 265.14 122.66L266.36 120.39Q267.78 117.75 270.32 116.16L275.05 113.2M273.85 113.2L278.58 116.16Q281.12 117.75 282.54 120.39L283.76 122.66Q285.18 125.3 286.59 122.66L287.81 120.39Q289.23 117.75 291.77 116.16L296.5 113.2M295.3 113.2L300.03 116.16Q302.57 117.75 303.99 120.39L305.21 122.66Q306.62 125.3 308.04 122.66L309.26 120.39Q310.68 117.75 313.22 116.16L317.95 113.2M316.75 113.2L321.48 116.16Q324.02 117.75 325.44 120.39L326.66 122.66Q328.07 125.3 329.49 122.66L330.71 120.39Q332.13 117.75 334.67 116.16L339.4 113.2M338.2 113.2L342.93 116.16Q345.47 117.75 346.89 120.39L348.11 122.66Q349.52 125.3 350.94 122.66L352.16 120.39Q353.58 117.75 356.12 116.16L360.85 113.2M359.65 113.2L365.54 121.19M247.71 144.94L253.6 136.95M252.4 136.95L257.13 139.91Q259.67 141.5 261.09 144.14L262.31 146.41Q263.73 149.05 265.14 146.41L266.36 144.14Q267.78 141.5 270.32 139.91L275.05 136.95M273.85 136.95L278.58 139.91Q281.12 141.5 282.54 144.14L283.76 146.41Q285.18 149.05 286.59 146.41L287.81 144.14Q289.23 141.5 291.77 139.91L296.5 136.95M295.3 136.95L300.03 139.91Q302.57 141.5 303.99 144.14L305.21 146.41Q306.62 149.05 308.04 146.41L309.26 144.14Q310.68 141.5 313.22 139.91L317.95 136.95M316.75 136.95L321.48 139.91Q324.02 141.5 325.44 144.14L326.66 146.41Q328.07 149.05 329.49 146.41L330.71 144.14Q332.13 141.5 334.67 139.91L339.4 136.95M338.2 136.95L342.93 139.91Q345.47 141.5 346.89 144.14L348.11 146.41Q349.52 149.05 350.94 146.41L352.16 144.14Q353.58 141.5 356.12 139.91L360.85 136.95M359.65 136.95L365.54 144.94M247.71 168.69L253.6 160.7M252.4 160.7L257.13 163.66Q259.67 165.25 261.09 167.89L262.31 170.16Q263.73 172.8 265.14 170.16L266.36 167.89Q267.78 165.25 270.32 163.66L275.05 160.7M273.85 160.7L278.58 163.66Q281.12 165.25 282.54 167.89L283.76 170.16Q285.18 172.8 286.59 170.16L287.81 167.89Q289.23 165.25 291.77 163.66L296.5 160.7M295.3 160.7L300.03 163.66Q302.57 165.25 303.99 167.89L305.21 170.16Q306.62 172.8 308.04 170.16L309.26 167.89Q310.68 165.25 313.22 163.66L317.95 160.7M316.75 160.7L321.48 163.66Q324.02 165.25 325.44 167.89L326.66 170.16Q328.07 172.8 329.49 170.16L330.71 167.89Q332.13 165.25 334.67 163.66L339.4 160.7M338.2 160.7L342.93 163.66Q345.47 165.25 346.89 167.89L348.11 170.16Q349.52 172.8 350.94 170.16L352.16 167.89Q353.58 165.25 356.12 163.66L360.85 160.7M359.65 160.7L365.54 168.69M253.7 184.35L245.58 195.35M252.3 184.35L262.83 195.35M275.15 184.35L264.62 195.35M273.75 184.35L284.28 195.35M296.6 184.35L286.07 195.35M295.2 184.35L305.73 195.35M318.05 184.35L307.52 195.35M316.65 184.35L327.18 195.35M339.5 184.35L328.97 195.35M338.1 184.35L348.62 195.35M360.95 184.35L350.42 195.35M359.55 184.35L367.68 195.35" stroke="#9c9239" stroke-width="2.4"/>
<path d="M247.71 121.19L253.6 113.2M252.4 113.2L257.13 116.16Q259.67 117.75 261.09 120.39L262.31 122.66Q263.73 125.3 265.14 122.66L266.36 120.39Q267.78 117.75 270.32 116.16L275.05 113.2M273.85 113.2L278.58 116.16Q281.12 117.75 282.54 120.39L283.76 122.66Q285.18 125.3 286.59 122.66L287.81 120.39Q289.23 117.75 291.77 116.16L296.5 113.2M295.3 113.2L300.03 116.16Q302.57 117.75 303.99 120.39L305.21 122.66Q306.62 125.3 308.04 122.66L309.26 120.39Q310.68 117.75 313.22 116.16L317.95 113.2M316.75 113.2L321.48 116.16Q324.02 117.75 325.44 120.39L326.66 122.66Q328.07 125.3 329.49 122.66L330.71 120.39Q332.13 117.75 334.67 116.16L339.4 113.2M338.2 113.2L342.93 116.16Q345.47 117.75 346.89 120.39L348.11 122.66Q349.52 125.3 350.94 122.66L352.16 120.39Q353.58 117.75 356.12 116.16L360.85 113.2M359.65 113.2L365.54 121.19M247.71 144.94L253.6 136.95M252.4 136.95L257.13 139.91Q259.67 141.5 261.09 144.14L262.31 146.41Q263.73 149.05 265.14 146.41L266.36 144.14Q267.78 141.5 270.32 139.91L275.05 136.95M273.85 136.95L278.58 139.91Q281.12 141.5 282.54 144.14L283.76 146.41Q285.18 149.05 286.59 146.41L287.81 144.14Q289.23 141.5 291.77 139.91L296.5 136.95M295.3 136.95L300.03 139.91Q302.57 141.5 303.99 144.14L305.21 146.41Q306.62 149.05 308.04 146.41L309.26 144.14Q310.68 141.5 313.22 139.91L317.95 136.95M316.75 136.95L321.48 139.91Q324.02 141.5 325.44 144.14L326.66 146.41Q328.07 149.05 329.49 146.41L330.71 144.14Q332.13 141.5 334.67 139.91L339.4 136.95M338.2 136.95L342.93 139.91Q345.47 141.5 346.89 144.14L348.11 146.41Q349.52 149.05 350.94 146.41L352.16 144.14Q353.58 141.5 356.12 139.91L360.85 136.95M359.65 136.95L365.54 144.94M247.71 168.69L253.6 160.7M252.4 160.7L257.13 163.66Q259.67 165.25 261.09 167.89L262.31 170.16Q263.73 172.8 265.14 170.16L266.36 167.89Q267.78 165.25 270.32 163.66L275.05 160.7M273.85 160.7L278.58 163.66Q281.12 165.25 282.54 167.89L283.76 170.16Q285.18 172.8 286.59 170.16L287.81 167.89Q289.23 165.25 291.77 163.66L296.5 160.7M295.3 160.7L300.03 163.66Q302.57 165.25 303.99 167.89L305.21 170.16Q306.62 172.8 308.04 170.16L309.26 167.89Q310.68 165.25 313.22 163.66L317.95 160.7M316.75 160.7L321.48 163.66Q324.02 165.25 325.44 167.89L326.66 170.16Q328.07 172.8 329.49 170.16L330.71 167.89Q332.13 165.25 334.67 163.66L339.4 160.7M338.2 160.7L342.93 163.66Q345.47 165.25 346.89 167.89L348.11 170.16Q349.52 172.8 350.94 170.16L352.16 167.89Q353.58 165.25 356.12 163.66L360.85 160.7M359.65 160.7L365.54 168.69M253.7 184.35L245.58 195.35M252.3 184.35L262.83 195.35M275.15 184.35L264.62 195.35M273.75 184.35L284.28 195.35M296.6 184.35L286.07 195.35M295.2 184.35L305.73 195.35M318.05 184.35L307.52 195.35M316.65 184.35L327.18 195.35M339.5 184.35L328.97 195.35M338.1 184.35L348.62 195.35M360.95 184.35L350.42 195.35M359.55 184.35L367.68 195.35" stroke="#aca143" stroke-width="1.1"/>
<path d="M253.8 113L252.71 116.41Q251.63 119.83 248.75 121.96L248.75 121.96Q245.88 124.1 247.3 127.39L252.2 138.75M252.2 113L254.13 116.83Q255.75 120.05 258.84 121.9L259.44 122.25Q262.53 124.1 260.68 127.19L253.8 138.75M275.25 113L273.32 116.83Q271.7 120.05 268.61 121.9L268.01 122.25Q264.93 124.1 266.77 127.19L273.65 138.75M273.65 113L275.58 116.83Q277.2 120.05 280.29 121.9L280.89 122.25Q283.98 124.1 282.13 127.19L275.25 138.75M296.7 113L294.77 116.83Q293.15 120.05 290.06 121.9L289.46 122.25Q286.38 124.1 288.22 127.19L295.1 138.75M295.1 113L297.03 116.83Q298.65 120.05 301.74 121.9L302.34 122.25Q305.43 124.1 303.58 127.19L296.7 138.75M318.15 113L316.22 116.83Q314.6 120.05 311.51 121.9L310.91 122.25Q307.82 124.1 309.67 127.19L316.55 138.75M316.55 113L318.48 116.83Q320.1 120.05 323.19 121.9L323.79 122.25Q326.88 124.1 325.03 127.19L318.15 138.75M339.6 113L337.67 116.83Q336.05 120.05 332.96 121.9L332.36 122.25Q329.27 124.1 331.12 127.19L338 138.75M338 113L339.93 116.83Q341.55 120.05 344.64 121.9L345.24 122.25Q348.32 124.1 346.48 127.19L339.6 138.75M361.05 113L359.12 116.83Q357.5 120.05 354.41 121.9L353.81 122.25Q350.72 124.1 352.57 127.19L359.45 138.75M359.45 113L360.54 116.41Q361.62 119.83 364.5 121.96L364.5 121.96Q367.38 124.1 365.95 127.39L361.05 138.75M253.8 136.75L252.71 140.16Q251.63 143.58 248.75 145.71L248.75 145.71Q245.88 147.85 247.3 151.14L252.2 162.5M252.2 136.75L254.13 140.58Q255.75 143.8 258.84 145.65L259.44 146Q262.53 147.85 260.68 150.94L253.8 162.5M275.25 136.75L273.32 140.58Q271.7 143.8 268.61 145.65L268.01 146Q264.93 147.85 266.77 150.94L273.65 162.5M273.65 136.75L275.58 140.58Q277.2 143.8 280.29 145.65L280.89 146Q283.98 147.85 282.13 150.94L275.25 162.5M296.7 136.75L294.77 140.58Q293.15 143.8 290.06 145.65L289.46 146Q286.38 147.85 288.22 150.94L295.1 162.5M295.1 136.75L297.03 140.58Q298.65 143.8 301.74 145.65L302.34 146Q305.43 147.85 303.58 150.94L296.7 162.5M318.15 136.75L316.22 140.58Q314.6 143.8 311.51 145.65L310.91 146Q307.82 147.85 309.67 150.94L316.55 162.5M316.55 136.75L318.48 140.58Q320.1 143.8 323.19 145.65L323.79 146Q326.88 147.85 325.03 150.94L318.15 162.5M339.6 136.75L337.67 140.58Q336.05 143.8 332.96 145.65L332.36 146Q329.27 147.85 331.12 150.94L338 162.5M338 136.75L339.93 140.58Q341.55 143.8 344.64 145.65L345.24 146Q348.32 147.85 346.48 150.94L339.6 162.5M361.05 136.75L359.12 140.58Q357.5 143.8 354.41 145.65L353.81 146Q350.72 147.85 352.57 150.94L359.45 162.5M359.45 136.75L360.54 140.16Q361.62 143.58 364.5 145.71L364.5 145.71Q367.38 147.85 365.95 151.14L361.05 162.5M253.8 160.5L252.71 163.91Q251.63 167.33 248.75 169.46L248.75 169.46Q245.88 171.6 247.3 174.89L252.2 186.25M252.2 160.5L254.13 164.33Q255.75 167.55 258.84 169.4L259.44 169.75Q262.53 171.6 260.68 174.69L253.8 186.25M275.25 160.5L273.32 164.33Q271.7 167.55 268.61 169.4L268.01 169.75Q264.93 171.6 266.77 174.69L273.65 186.25M273.65 160.5L275.58 164.33Q277.2 167.55 280.29 169.4L280.89 169.75Q283.98 171.6 282.13 174.69L275.25 186.25M296.7 160.5L294.77 164.33Q293.15 167.55 290.06 169.4L289.46 169.75Q286.38 171.6 288.22 174.69L295.1 186.25M295.1 160.5L297.03 164.33Q298.65 167.55 301.74 169.4L302.34 169.75Q305.43 171.6 303.58 174.69L296.7 186.25M318.15 160.5L316.22 164.33Q314.6 167.55 311.51 169.4L310.91 169.75Q307.82 171.6 309.67 174.69L316.55 186.25M316.55 160.5L318.48 164.33Q320.1 167.55 323.19 169.4L323.79 169.75Q326.88 171.6 325.03 174.69L318.15 186.25M339.6 160.5L337.67 164.33Q336.05 167.55 332.96 169.4L332.36 169.75Q329.27 171.6 331.12 174.69L338 186.25M338 160.5L339.93 164.33Q341.55 167.55 344.64 169.4L345.24 169.75Q348.32 171.6 346.48 174.69L339.6 186.25M361.05 160.5L359.12 164.33Q357.5 167.55 354.41 169.4L353.81 169.75Q350.72 171.6 352.57 174.69L359.45 186.25M359.45 160.5L360.54 163.91Q361.62 167.33 364.5 169.46L364.5 169.46Q367.38 171.6 365.95 174.89L361.05 186.25M253.8 184.25L252.71 187.66Q251.63 191.08 248.75 193.21L245.88 195.35M252.2 184.25L254.13 188.08Q255.75 191.3 258.84 193.15L262.53 195.35M275.25 184.25L273.32 188.08Q271.7 191.3 268.61 193.15L264.93 195.35M273.65 184.25L275.58 188.08Q277.2 191.3 280.29 193.15L283.98 195.35M296.7 184.25L294.77 188.08Q293.15 191.3 290.06 193.15L286.38 195.35M295.1 184.25L297.03 188.08Q298.65 191.3 301.74 193.15L305.43 195.35M318.15 184.25L316.22 188.08Q314.6 191.3 311.51 193.15L307.82 195.35M316.55 184.25L318.48 188.08Q320.1 191.3 323.19 193.15L326.88 195.35M339.6 184.25L337.67 188.08Q336.05 191.3 332.96 193.15L329.27 195.35M338 184.25L339.93 188.08Q341.55 191.3 344.64 193.15L348.32 195.35M361.05 184.25L359.12 188.08Q357.5 191.3 354.41 193.15L350.72 195.35M359.45 184.25L360.54 187.66Q361.62 191.08 364.5 193.21L367.38 195.35" stroke="#827c2e" stroke-width="3.6"/>
<path d="M253.8 113L252.71 116.41Q251.63 119.83 248.75 121.96L248.75 121.96Q245.88 124.1 247.3 127.39L252.2 138.75M252.2 113L254.13 116.83Q255.75 120.05 258.84 121.9L259.44 122.25Q262.53 124.1 260.68 127.19L253.8 138.75M275.25 113L273.32 116.83Q271.7 120.05 268.61 121.9L268.01 122.25Q264.93 124.1 266.77 127.19L273.65 138.75M273.65 113L275.58 116.83Q277.2 120.05 280.29 121.9L280.89 122.25Q283.98 124.1 282.13 127.19L275.25 138.75M296.7 113L294.77 116.83Q293.15 120.05 290.06 121.9L289.46 122.25Q286.38 124.1 288.22 127.19L295.1 138.75M295.1 113L297.03 116.83Q298.65 120.05 301.74 121.9L302.34 122.25Q305.43 124.1 303.58 127.19L296.7 138.75M318.15 113L316.22 116.83Q314.6 120.05 311.51 121.9L310.91 122.25Q307.82 124.1 309.67 127.19L316.55 138.75M316.55 113L318.48 116.83Q320.1 120.05 323.19 121.9L323.79 122.25Q326.88 124.1 325.03 127.19L318.15 138.75M339.6 113L337.67 116.83Q336.05 120.05 332.96 121.9L332.36 122.25Q329.27 124.1 331.12 127.19L338 138.75M338 113L339.93 116.83Q341.55 120.05 344.64 121.9L345.24 122.25Q348.32 124.1 346.48 127.19L339.6 138.75M361.05 113L359.12 116.83Q357.5 120.05 354.41 121.9L353.81 122.25Q350.72 124.1 352.57 127.19L359.45 138.75M359.45 113L360.54 116.41Q361.62 119.83 364.5 121.96L364.5 121.96Q367.38 124.1 365.95 127.39L361.05 138.75M253.8 136.75L252.71 140.16Q251.63 143.58 248.75 145.71L248.75 145.71Q245.88 147.85 247.3 151.14L252.2 162.5M252.2 136.75L254.13 140.58Q255.75 143.8 258.84 145.65L259.44 146Q262.53 147.85 260.68 150.94L253.8 162.5M275.25 136.75L273.32 140.58Q271.7 143.8 268.61 145.65L268.01 146Q264.93 147.85 266.77 150.94L273.65 162.5M273.65 136.75L275.58 140.58Q277.2 143.8 280.29 145.65L280.89 146Q283.98 147.85 282.13 150.94L275.25 162.5M296.7 136.75L294.77 140.58Q293.15 143.8 290.06 145.65L289.46 146Q286.38 147.85 288.22 150.94L295.1 162.5M295.1 136.75L297.03 140.58Q298.65 143.8 301.74 145.65L302.34 146Q305.43 147.85 303.58 150.94L296.7 162.5M318.15 136.75L316.22 140.58Q314.6 143.8 311.51 145.65L310.91 146Q307.82 147.85 309.67 150.94L316.55 162.5M316.55 136.75L318.48 140.58Q320.1 143.8 323.19 145.65L323.79 146Q326.88 147.85 325.03 150.94L318.15 162.5M339.6 136.75L337.67 140.58Q336.05 143.8 332.96 145.65L332.36 146Q329.27 147.85 331.12 150.94L338 162.5M338 136.75L339.93 140.58Q341.55 143.8 344.64 145.65L345.24 146Q348.32 147.85 346.48 150.94L339.6 162.5M361.05 136.75L359.12 140.58Q357.5 143.8 354.41 145.65L353.81 146Q350.72 147.85 352.57 150.94L359.45 162.5M359.45 136.75L360.54 140.16Q361.62 143.58 364.5 145.71L364.5 145.71Q367.38 147.85 365.95 151.14L361.05 162.5M253.8 160.5L252.71 163.91Q251.63 167.33 248.75 169.46L248.75 169.46Q245.88 171.6 247.3 174.89L252.2 186.25M252.2 160.5L254.13 164.33Q255.75 167.55 258.84 169.4L259.44 169.75Q262.53 171.6 260.68 174.69L253.8 186.25M275.25 160.5L273.32 164.33Q271.7 167.55 268.61 169.4L268.01 169.75Q264.93 171.6 266.77 174.69L273.65 186.25M273.65 160.5L275.58 164.33Q277.2 167.55 280.29 169.4L280.89 169.75Q283.98 171.6 282.13 174.69L275.25 186.25M296.7 160.5L294.77 164.33Q293.15 167.55 290.06 169.4L289.46 169.75Q286.38 171.6 288.22 174.69L295.1 186.25M295.1 160.5L297.03 164.33Q298.65 167.55 301.74 169.4L302.34 169.75Q305.43 171.6 303.58 174.69L296.7 186.25M318.15 160.5L316.22 164.33Q314.6 167.55 311.51 169.4L310.91 169.75Q307.82 171.6 309.67 174.69L316.55 186.25M316.55 160.5L318.48 164.33Q320.1 167.55 323.19 169.4L323.79 169.75Q326.88 171.6 325.03 174.69L318.15 186.25M339.6 160.5L337.67 164.33Q336.05 167.55 332.96 169.4L332.36 169.75Q329.27 171.6 331.12 174.69L338 186.25M338 160.5L339.93 164.33Q341.55 167.55 344.64 169.4L345.24 169.75Q348.32 171.6 346.48 174.69L339.6 186.25M361.05 160.5L359.12 164.33Q357.5 167.55 354.41 169.4L353.81 169.75Q350.72 171.6 352.57 174.69L359.45 186.25M359.45 160.5L360.54 163.91Q361.62 167.33 364.5 169.46L364.5 169.46Q367.38 171.6 365.95 174.89L361.05 186.25M253.8 184.25L252.71 187.66Q251.63 191.08 248.75 193.21L245.88 195.35M252.2 184.25L254.13 188.08Q255.75 191.3 258.84 193.15L262.53 195.35M275.25 184.25L273.32 188.08Q271.7 191.3 268.61 193.15L264.93 195.35M273.65 184.25L275.58 188.08Q277.2 191.3 280.29 193.15L283.98 195.35M296.7 184.25L294.77 188.08Q293.15 191.3 290.06 193.15L286.38 195.35M295.1 184.25L297.03 188.08Q298.65 191.3 301.74 193.15L305.43 195.35M318.15 184.25L316.22 188.08Q314.6 191.3 311.51 193.15L307.82 195.35M316.55 184.25L318.48 188.08Q320.1 191.3 323.19 193.15L326.88 195.35M339.6 184.25L337.67 188.08Q336.05 191.3 332.96 193.15L329.27 195.35M338 184.25L339.93 188.08Q341.55 191.3 344.64 193.15L348.32 195.35M361.05 184.25L359.12 188.08Q357.5 191.3 354.41 193.15L350.72 195.35M359.45 184.25L360.54 187.66Q361.62 191.08 364.5 193.21L367.38 195.35" stroke="#9c9239" stroke-width="2.4"/>
<path d="M253.8 113L252.71 116.41Q251.63 119.83 248.75 121.96L248.75 121.96Q245.88 124.1 247.3 127.39L252.2 138.75M252.2 113L254.13 116.83Q255.75 120.05 258.84 121.9L259.44 122.25Q262.53 124.1 260.68 127.19L253.8 138.75M275.25 113L273.32 116.83Q271.7 120.05 268.61 121.9L268.01 122.25Q264.93 124.1 266.77 127.19L273.65 138.75M273.65 113L275.58 116.83Q277.2 120.05 280.29 121.9L280.89 122.25Q283.98 124.1 282.13 127.19L275.25 138.75M296.7 113L294.77 116.83Q293.15 120.05 290.06 121.9L289.46 122.25Q286.38 124.1 288.22 127.19L295.1 138.75M295.1 113L297.03 116.83Q298.65 120.05 301.74 121.9L302.34 122.25Q305.43 124.1 303.58 127.19L296.7 138.75M318.15 113L316.22 116.83Q314.6 120.05 311.51 121.9L310.91 122.25Q307.82 124.1 309.67 127.19L316.55 138.75M316.55 113L318.48 116.83Q320.1 120.05 323.19 121.9L323.79 122.25Q326.88 124.1 325.03 127.19L318.15 138.75M339.6 113L337.67 116.83Q336.05 120.05 332.96 121.9L332.36 122.25Q329.27 124.1 331.12 127.19L338 138.75M338 113L339.93 116.83Q341.55 120.05 344.64 121.9L345.24 122.25Q348.32 124.1 346.48 127.19L339.6 138.75M361.05 113L359.12 116.83Q357.5 120.05 354.41 121.9L353.81 122.25Q350.72 124.1 352.57 127.19L359.45 138.75M359.45 113L360.54 116.41Q361.62 119.83 364.5 121.96L364.5 121.96Q367.38 124.1 365.95 127.39L361.05 138.75M253.8 136.75L252.71 140.16Q251.63 143.58 248.75 145.71L248.75 145.71Q245.88 147.85 247.3 151.14L252.2 162.5M252.2 136.75L254.13 140.58Q255.75 143.8 258.84 145.65L259.44 146Q262.53 147.85 260.68 150.94L253.8 162.5M275.25 136.75L273.32 140.58Q271.7 143.8 268.61 145.65L268.01 146Q264.93 147.85 266.77 150.94L273.65 162.5M273.65 136.75L275.58 140.58Q277.2 143.8 280.29 145.65L280.89 146Q283.98 147.85 282.13 150.94L275.25 162.5M296.7 136.75L294.77 140.58Q293.15 143.8 290.06 145.65L289.46 146Q286.38 147.85 288.22 150.94L295.1 162.5M295.1 136.75L297.03 140.58Q298.65 143.8 301.74 145.65L302.34 146Q305.43 147.85 303.58 150.94L296.7 162.5M318.15 136.75L316.22 140.58Q314.6 143.8 311.51 145.65L310.91 146Q307.82 147.85 309.67 150.94L316.55 162.5M316.55 136.75L318.48 140.58Q320.1 143.8 323.19 145.65L323.79 146Q326.88 147.85 325.03 150.94L318.15 162.5M339.6 136.75L337.67 140.58Q336.05 143.8 332.96 145.65L332.36 146Q329.27 147.85 331.12 150.94L338 162.5M338 136.75L339.93 140.58Q341.55 143.8 344.64 145.65L345.24 146Q348.32 147.85 346.48 150.94L339.6 162.5M361.05 136.75L359.12 140.58Q357.5 143.8 354.41 145.65L353.81 146Q350.72 147.85 352.57 150.94L359.45 162.5M359.45 136.75L360.54 140.16Q361.62 143.58 364.5 145.71L364.5 145.71Q367.38 147.85 365.95 151.14L361.05 162.5M253.8 160.5L252.71 163.91Q251.63 167.33 248.75 169.46L248.75 169.46Q245.88 171.6 247.3 174.89L252.2 186.25M252.2 160.5L254.13 164.33Q255.75 167.55 258.84 169.4L259.44 169.75Q262.53 171.6 260.68 174.69L253.8 186.25M275.25 160.5L273.32 164.33Q271.7 167.55 268.61 169.4L268.01 169.75Q264.93 171.6 266.77 174.69L273.65 186.25M273.65 160.5L275.58 164.33Q277.2 167.55 280.29 169.4L280.89 169.75Q283.98 171.6 282.13 174.69L275.25 186.25M296.7 160.5L294.77 164.33Q293.15 167.55 290.06 169.4L289.46 169.75Q286.38 171.6 288.22 174.69L295.1 186.25M295.1 160.5L297.03 164.33Q298.65 167.55 301.74 169.4L302.34 169.75Q305.43 171.6 303.58 174.69L296.7 186.25M318.15 160.5L316.22 164.33Q314.6 167.55 311.51 169.4L310.91 169.75Q307.82 171.6 309.67 174.69L316.55 186.25M316.55 160.5L318.48 164.33Q320.1 167.55 323.19 169.4L323.79 169.75Q326.88 171.6 325.03 174.69L318.15 186.25M339.6 160.5L337.67 164.33Q336.05 167.55 332.96 169.4L332.36 169.75Q329.27 171.6 331.12 174.69L338 186.25M338 160.5L339.93 164.33Q341.55 167.55 344.64 169.4L345.24 169.75Q348.32 171.6 346.48 174.69L339.6 186.25M361.05 160.5L359.12 164.33Q357.5 167.55 354.41 169.4L353.81 169.75Q350.72 171.6 352.57 174.69L359.45 186.25M359.45 160.5L360.54 163.91Q361.62 167.33 364.5 169.46L364.5 169.46Q367.38 171.6 365.95 174.89L361.05 186.25M253.8 184.25L252.71 187.66Q251.63 191.08 248.75 193.21L245.88 195.35M252.2 184.25L254.13 188.08Q255.75 191.3 258.84 193.15L262.53 195.35M275.25 184.25L273.32 188.08Q271.7 191.3 268.61 193.15L264.93 195.35M273.65 184.25L275.58 188.08Q277.2 191.3 280.29 193.15L283.98 195.35M296.7 184.25L294.77 188.08Q293.15 191.3 290.06 193.15L286.38 195.35M295.1 184.25L297.03 188.08Q298.65 191.3 301.74 193.15L305.43 195.35M318.15 184.25L316.22 188.08Q314.6 191.3 311.51 193.15L307.82 195.35M316.55 184.25L318.48 188.08Q320.1 191.3 323.19 193.15L326.88 195.35M339.6 184.25L337.67 188.08Q336.05 191.3 332.96 193.15L329.27 195.35M338 184.25L339.93 188.08Q341.55 191.3 344.64 193.15L348.32 195.35M361.05 184.25L359.12 188.08Q357.5 191.3 354.41 193.15L350.72 195.35M359.45 184.25L360.54 187.66Q361.62 191.08 364.5 193.21L367.38 195.35" stroke="#aca143" stroke-width="1.1"/>
<path d="M252.07 115.54L259.59 103.08A7.7 7.7 0 1 0 246.41 103.08L253.93 115.54M273.52 115.54L281.04 103.08A7.7 7.7 0 1 0 267.86 103.08L275.38 115.54M294.97 115.54L302.49 103.08A7.7 7.7 0 1 0 289.31 103.08L296.83 115.54M316.42 115.54L323.94 103.08A7.7 7.7 0 1 0 310.76 103.08L318.28 115.54M337.87 115.54L345.39 103.08A7.7 7.7 0 1 0 332.21 103.08L339.73 115.54M359.32 115.54L366.84 103.08A7.7 7.7 0 1 0 353.66 103.08L361.18 115.54M262.03 192.84L270.25 205.96A7.7 7.7 0 1 1 257.2 205.96L265.42 192.84M283.48 192.84L291.7 205.96A7.7 7.7 0 1 1 278.65 205.96L286.87 192.84M304.93 192.84L313.15 205.96A7.7 7.7 0 1 1 300.1 205.96L308.32 192.84M326.38 192.84L334.6 205.96A7.7 7.7 0 1 1 321.55 205.96L329.77 192.84M347.83 192.84L356.05 205.96A7.7 7.7 0 1 1 343 205.96L351.22 192.84M246.68 192.05C246.98 193.13 247.93 196.47 248.48 198.55C249.03 200.63 249.68 202.88 249.98 204.55C250.28 206.22 250.43 207.05 250.28 208.55C250.12 210.05 249.74 212.15 249.08 213.55C248.41 214.95 247.18 216.23 246.28 216.95C245.38 217.67 244.11 217.7 243.68 217.85M366.58 192.05C366.28 193.13 365.33 196.47 364.78 198.55C364.23 200.63 363.58 202.88 363.28 204.55C362.98 206.22 362.83 207.05 362.98 208.55C363.12 210.05 363.51 212.15 364.18 213.55C364.84 214.95 366.08 216.23 366.98 216.95C367.88 217.67 369.14 217.7 369.58 217.85" stroke="#827c2e" stroke-width="4.6"/>
<path d="M252.07 115.54L259.59 103.08A7.7 7.7 0 1 0 246.41 103.08L253.93 115.54M273.52 115.54L281.04 103.08A7.7 7.7 0 1 0 267.86 103.08L275.38 115.54M294.97 115.54L302.49 103.08A7.7 7.7 0 1 0 289.31 103.08L296.83 115.54M316.42 115.54L323.94 103.08A7.7 7.7 0 1 0 310.76 103.08L318.28 115.54M337.87 115.54L345.39 103.08A7.7 7.7 0 1 0 332.21 103.08L339.73 115.54M359.32 115.54L366.84 103.08A7.7 7.7 0 1 0 353.66 103.08L361.18 115.54M262.03 192.84L270.25 205.96A7.7 7.7 0 1 1 257.2 205.96L265.42 192.84M283.48 192.84L291.7 205.96A7.7 7.7 0 1 1 278.65 205.96L286.87 192.84M304.93 192.84L313.15 205.96A7.7 7.7 0 1 1 300.1 205.96L308.32 192.84M326.38 192.84L334.6 205.96A7.7 7.7 0 1 1 321.55 205.96L329.77 192.84M347.83 192.84L356.05 205.96A7.7 7.7 0 1 1 343 205.96L351.22 192.84M246.68 192.05C246.98 193.13 247.93 196.47 248.48 198.55C249.03 200.63 249.68 202.88 249.98 204.55C250.28 206.22 250.43 207.05 250.28 208.55C250.12 210.05 249.74 212.15 249.08 213.55C248.41 214.95 247.18 216.23 246.28 216.95C245.38 217.67 244.11 217.7 243.68 217.85M366.58 192.05C366.28 193.13 365.33 196.47 364.78 198.55C364.23 200.63 363.58 202.88 363.28 204.55C362.98 206.22 362.83 207.05 362.98 208.55C363.12 210.05 363.51 212.15 364.18 213.55C364.84 214.95 366.08 216.23 366.98 216.95C367.88 217.67 369.14 217.7 369.58 217.85" stroke="#9c9239" stroke-width="3.2"/>
<path d="M252.07 115.54L259.59 103.08A7.7 7.7 0 1 0 246.41 103.08L253.93 115.54M273.52 115.54L281.04 103.08A7.7 7.7 0 1 0 267.86 103.08L275.38 115.54M294.97 115.54L302.49 103.08A7.7 7.7 0 1 0 289.31 103.08L296.83 115.54M316.42 115.54L323.94 103.08A7.7 7.7 0 1 0 310.76 103.08L318.28 115.54M337.87 115.54L345.39 103.08A7.7 7.7 0 1 0 332.21 103.08L339.73 115.54M359.32 115.54L366.84 103.08A7.7 7.7 0 1 0 353.66 103.08L361.18 115.54M262.03 192.84L270.25 205.96A7.7 7.7 0 1 1 257.2 205.96L265.42 192.84M283.48 192.84L291.7 205.96A7.7 7.7 0 1 1 278.65 205.96L286.87 192.84M304.93 192.84L313.15 205.96A7.7 7.7 0 1 1 300.1 205.96L308.32 192.84M326.38 192.84L334.6 205.96A7.7 7.7 0 1 1 321.55 205.96L329.77 192.84M347.83 192.84L356.05 205.96A7.7 7.7 0 1 1 343 205.96L351.22 192.84M246.68 192.05C246.98 193.13 247.93 196.47 248.48 198.55C249.03 200.63 249.68 202.88 249.98 204.55C250.28 206.22 250.43 207.05 250.28 208.55C250.12 210.05 249.74 212.15 249.08 213.55C248.41 214.95 247.18 216.23 246.28 216.95C245.38 217.67 244.11 217.7 243.68 217.85M366.58 192.05C366.28 193.13 365.33 196.47 364.78 198.55C364.23 200.63 363.58 202.88 363.28 204.55C362.98 206.22 362.83 207.05 362.98 208.55C363.12 210.05 363.51 212.15 364.18 213.55C364.84 214.95 366.08 216.23 366.98 216.95C367.88 217.67 369.14 217.7 369.58 217.85" stroke="#aca143" stroke-width="1.5"/>
</g>
<g fill="none" stroke-linecap="round" stroke-linejoin="round">
<path d="M479.41 121.98L485.3 113.8M484.1 113.8L488.87 116.89Q491.39 118.52 492.78 121.17L494.03 123.54Q495.43 126.2 496.82 123.54L498.07 121.17Q499.46 118.52 501.98 116.89L506.75 113.8M505.55 113.8L510.32 116.89Q512.84 118.52 514.23 121.17L515.48 123.54Q516.88 126.2 518.27 123.54L519.52 121.17Q520.91 118.52 523.43 116.89L528.2 113.8M527 113.8L531.77 116.89Q534.29 118.52 535.68 121.17L536.93 123.54Q538.33 126.2 539.72 123.54L540.97 121.17Q542.36 118.52 544.88 116.89L549.65 113.8M548.45 113.8L553.22 116.89Q555.74 118.52 557.13 121.17L558.38 123.54Q559.77 126.2 561.17 123.54L562.42 121.17Q563.81 118.52 566.33 116.89L571.1 113.8M569.9 113.8L574.67 116.89Q577.19 118.52 578.58 121.17L579.83 123.54Q581.23 126.2 582.62 123.54L583.87 121.17Q585.26 118.52 587.78 116.89L592.55 113.8M591.35 113.8L597.24 121.98M479.41 145.33L485.3 137.15M484.1 137.15L488.87 140.24Q491.39 141.87 492.78 144.52L494.03 146.89Q495.43 149.55 496.82 146.89L498.07 144.52Q499.46 141.87 501.98 140.24L506.75 137.15M505.55 137.15L510.32 140.24Q512.84 141.87 514.23 144.52L515.48 146.89Q516.88 149.55 518.27 146.89L519.52 144.52Q520.91 141.87 523.43 140.24L528.2 137.15M527 137.15L531.77 140.24Q534.29 141.87 535.68 144.52L536.93 146.89Q538.33 149.55 539.72 146.89L540.97 144.52Q542.36 141.87 544.88 140.24L549.65 137.15M548.45 137.15L553.22 140.24Q555.74 141.87 557.13 144.52L558.38 146.89Q559.77 149.55 561.17 146.89L562.42 144.52Q563.81 141.87 566.33 140.24L571.1 137.15M569.9 137.15L574.67 140.24Q577.19 141.87 578.58 144.52L579.83 146.89Q581.23 149.55 582.62 146.89L583.87 144.52Q585.26 141.87 587.78 140.24L592.55 137.15M591.35 137.15L597.24 145.33M479.41 168.68L485.3 160.5M484.1 160.5L488.87 163.59Q491.39 165.22 492.78 167.87L494.03 170.24Q495.43 172.9 496.82 170.24L498.07 167.87Q499.46 165.22 501.98 163.59L506.75 160.5M505.55 160.5L510.32 163.59Q512.84 165.22 514.23 167.87L515.48 170.24Q516.88 172.9 518.27 170.24L519.52 167.87Q520.91 165.22 523.43 163.59L528.2 160.5M527 160.5L531.77 163.59Q534.29 165.22 535.68 167.87L536.93 170.24Q538.33 172.9 539.72 170.24L540.97 167.87Q542.36 165.22 544.88 163.59L549.65 160.5M548.45 160.5L553.22 163.59Q555.74 165.22 557.13 167.87L558.38 170.24Q559.77 172.9 561.17 170.24L562.42 167.87Q563.81 165.22 566.33 163.59L571.1 160.5M569.9 160.5L574.67 163.59Q577.19 165.22 578.58 167.87L579.83 170.24Q581.23 172.9 582.62 170.24L583.87 167.87Q585.26 165.22 587.78 163.59L592.55 160.5M591.35 160.5L597.24 168.68M485.4 183.75L477.27 195.05M484 183.75L494.53 195.05M506.85 183.75L496.32 195.05M505.45 183.75L515.98 195.05M528.3 183.75L517.77 195.05M526.9 183.75L537.43 195.05M549.75 183.75L539.23 195.05M548.35 183.75L558.88 195.05M571.2 183.75L560.67 195.05M569.8 183.75L580.33 195.05M592.65 183.75L582.12 195.05M591.25 183.75L599.38 195.05M485.5 113.6L484.41 117.12Q483.34 120.56 480.49 122.75L480.43 122.8Q477.57 125 479.06 128.28L483.9 138.95M483.9 113.6L485.84 117.55Q487.43 120.78 490.49 122.68L491.17 123.1Q494.23 125 492.32 128.05L485.5 138.95M506.95 113.6L505.01 117.55Q503.42 120.78 500.36 122.68L499.68 123.1Q496.62 125 498.53 128.05L505.35 138.95M505.35 113.6L507.29 117.55Q508.88 120.78 511.94 122.68L512.62 123.1Q515.67 125 513.77 128.05L506.95 138.95M528.4 113.6L526.46 117.55Q524.87 120.78 521.81 122.68L521.13 123.1Q518.08 125 519.98 128.05L526.8 138.95M526.8 113.6L528.74 117.55Q530.33 120.78 533.39 122.68L534.07 123.1Q537.12 125 535.22 128.05L528.4 138.95M549.85 113.6L547.91 117.55Q546.32 120.78 543.26 122.68L542.58 123.1Q539.53 125 541.43 128.05L548.25 138.95M548.25 113.6L550.19 117.55Q551.78 120.78 554.84 122.68L555.52 123.1Q558.57 125 556.67 128.05L549.85 138.95M571.3 113.6L569.36 117.55Q567.77 120.78 564.71 122.68L564.03 123.1Q560.98 125 562.88 128.05L569.7 138.95M569.7 113.6L571.64 117.55Q573.23 120.78 576.29 122.68L576.97 123.1Q580.02 125 578.12 128.05L571.3 138.95M592.75 113.6L590.81 117.55Q589.22 120.78 586.16 122.68L585.48 123.1Q582.43 125 584.33 128.05L591.15 138.95M591.15 113.6L592.24 117.12Q593.31 120.56 596.16 122.75L596.22 122.8Q599.07 125 597.59 128.28L592.75 138.95M485.5 136.95L484.41 140.47Q483.34 143.91 480.49 146.1L480.43 146.15Q477.57 148.35 479.06 151.63L483.9 162.3M483.9 136.95L485.84 140.9Q487.43 144.13 490.49 146.03L491.17 146.45Q494.23 148.35 492.32 151.4L485.5 162.3M506.95 136.95L505.01 140.9Q503.42 144.13 500.36 146.03L499.68 146.45Q496.62 148.35 498.53 151.4L505.35 162.3M505.35 136.95L507.29 140.9Q508.88 144.13 511.94 146.03L512.62 146.45Q515.67 148.35 513.77 151.4L506.95 162.3M528.4 136.95L526.46 140.9Q524.87 144.13 521.81 146.03L521.13 146.45Q518.08 148.35 519.98 151.4L526.8 162.3M526.8 136.95L528.74 140.9Q530.33 144.13 533.39 146.03L534.07 146.45Q537.12 148.35 535.22 151.4L528.4 162.3M549.85 136.95L547.91 140.9Q546.32 144.13 543.26 146.03L542.58 146.45Q539.53 148.35 541.43 151.4L548.25 162.3M548.25 136.95L550.19 140.9Q551.78 144.13 554.84 146.03L555.52 146.45Q558.57 148.35 556.67 151.4L549.85 162.3M571.3 136.95L569.36 140.9Q567.77 144.13 564.71 146.03L564.03 146.45Q560.98 148.35 562.88 151.4L569.7 162.3M569.7 136.95L571.64 140.9Q573.23 144.13 576.29 146.03L576.97 146.45Q580.02 148.35 578.12 151.4L571.3 162.3M592.75 136.95L590.81 140.9Q589.22 144.13 586.16 146.03L585.48 146.45Q582.43 148.35 584.33 151.4L591.15 162.3M591.15 136.95L592.24 140.47Q593.31 143.91 596.16 146.1L596.22 146.15Q599.07 148.35 597.59 151.63L592.75 162.3M485.5 160.3L484.41 163.82Q483.34 167.26 480.49 169.45L480.43 169.5Q477.57 171.7 479.06 174.98L483.9 185.65M483.9 160.3L485.84 164.25Q487.43 167.48 490.49 169.38L491.17 169.8Q494.23 171.7 492.32 174.75L485.5 185.65M506.95 160.3L505.01 164.25Q503.42 167.48 500.36 169.38L499.68 169.8Q496.62 171.7 498.53 174.75L505.35 185.65M505.35 160.3L507.29 164.25Q508.88 167.48 511.94 169.38L512.62 169.8Q515.67 171.7 513.77 174.75L506.95 185.65M528.4 160.3L526.46 164.25Q524.87 167.48 521.81 169.38L521.13 169.8Q518.08 171.7 519.98 174.75L526.8 185.65M526.8 160.3L528.74 164.25Q530.33 167.48 533.39 169.38L534.07 169.8Q537.12 171.7 535.22 174.75L528.4 185.65M549.85 160.3L547.91 164.25Q546.32 167.48 543.26 169.38L542.58 169.8Q539.53 171.7 541.43 174.75L548.25 185.65M548.25 160.3L550.19 164.25Q551.78 167.48 554.84 169.38L555.52 169.8Q558.57 171.7 556.67 174.75L549.85 185.65M571.3 160.3L569.36 164.25Q567.77 167.48 564.71 169.38L564.03 169.8Q560.98 171.7 562.88 174.75L569.7 185.65M569.7 160.3L571.64 164.25Q573.23 167.48 576.29 169.38L576.97 169.8Q580.02 171.7 578.12 174.75L571.3 185.65M592.75 160.3L590.81 164.25Q589.22 167.48 586.16 169.38L585.48 169.8Q582.43 171.7 584.33 174.75L591.15 185.65M591.15 160.3L592.24 163.82Q593.31 167.26 596.16 169.45L596.22 169.5Q599.07 171.7 597.59 174.98L592.75 185.65M485.5 183.65L484.41 187.17Q483.34 190.61 480.49 192.8L477.57 195.05M483.9 183.65L485.84 187.6Q487.43 190.83 490.49 192.73L494.23 195.05M506.95 183.65L505.01 187.6Q503.42 190.83 500.36 192.73L496.62 195.05M505.35 183.65L507.29 187.6Q508.88 190.83 511.94 192.73L515.67 195.05M528.4 183.65L526.46 187.6Q524.87 190.83 521.81 192.73L518.08 195.05M526.8 183.65L528.74 187.6Q530.33 190.83 533.39 192.73L537.12 195.05M549.85 183.65L547.91 187.6Q546.32 190.83 543.26 192.73L539.53 195.05M548.25 183.65L550.19 187.6Q551.78 190.83 554.84 192.73L558.57 195.05M571.3 183.65L569.36 187.6Q567.77 190.83 564.71 192.73L560.98 195.05M569.7 183.65L571.64 187.6Q573.23 190.83 576.29 192.73L580.02 195.05M592.75 183.65L590.81 187.6Q589.22 190.83 586.16 192.73L582.43 195.05M591.15 183.65L592.24 187.17Q593.31 190.61 596.16 192.8L599.07 195.05" stroke="#272727" stroke-width="3.5"/>
<path d="M483.76 116.13L491.09 104.23A7.5 7.5 0 1 0 478.31 104.23L485.64 116.13M505.21 116.13L512.54 104.23A7.5 7.5 0 1 0 499.76 104.23L507.09 116.13M526.66 116.13L533.99 104.23A7.5 7.5 0 1 0 521.21 104.23L528.54 116.13M548.11 116.13L555.44 104.23A7.5 7.5 0 1 0 542.66 104.23L549.99 116.13M569.56 116.13L576.89 104.23A7.5 7.5 0 1 0 564.11 104.23L571.44 116.13M591.01 116.13L598.34 104.23A7.5 7.5 0 1 0 585.56 104.23L592.89 116.13M493.59 192.63L501.73 204.23A7.7 7.7 0 1 1 489.12 204.23L497.26 192.63M515.04 192.63L523.18 204.23A7.7 7.7 0 1 1 510.57 204.23L518.71 192.63M536.49 192.63L544.63 204.23A7.7 7.7 0 1 1 532.02 204.23L540.16 192.63M557.94 192.63L566.08 204.23A7.7 7.7 0 1 1 553.47 204.23L561.61 192.63M579.39 192.63L587.53 204.23A7.7 7.7 0 1 1 574.92 204.23L583.06 192.63M478.37 191.75C478.67 192.83 479.62 196.17 480.17 198.25C480.72 200.33 481.37 202.58 481.67 204.25C481.97 205.92 482.12 206.93 481.97 208.25C481.82 209.57 481.44 210.93 480.77 212.15C480.11 213.37 478.87 214.83 477.97 215.55C477.07 216.27 475.81 216.3 475.37 216.45M598.27 191.75C597.98 192.83 597.02 196.17 596.48 198.25C595.93 200.33 595.28 202.58 594.98 204.25C594.67 205.92 594.52 206.93 594.67 208.25C594.82 209.57 595.21 210.93 595.88 212.15C596.54 213.37 597.77 214.83 598.67 215.55C599.57 216.27 600.84 216.3 601.27 216.45" stroke="#272727" stroke-width="4.5"/>
<path d="M479.41 121.98L485.3 113.8M484.1 113.8L488.87 116.89Q491.39 118.52 492.78 121.17L494.03 123.54Q495.43 126.2 496.82 123.54L498.07 121.17Q499.46 118.52 501.98 116.89L506.75 113.8M505.55 113.8L510.32 116.89Q512.84 118.52 514.23 121.17L515.48 123.54Q516.88 126.2 518.27 123.54L519.52 121.17Q520.91 118.52 523.43 116.89L528.2 113.8M527 113.8L531.77 116.89Q534.29 118.52 535.68 121.17L536.93 123.54Q538.33 126.2 539.72 123.54L540.97 121.17Q542.36 118.52 544.88 116.89L549.65 113.8M548.45 113.8L553.22 116.89Q555.74 118.52 557.13 121.17L558.38 123.54Q559.77 126.2 561.17 123.54L562.42 121.17Q563.81 118.52 566.33 116.89L571.1 113.8M569.9 113.8L574.67 116.89Q577.19 118.52 578.58 121.17L579.83 123.54Q581.23 126.2 582.62 123.54L583.87 121.17Q585.26 118.52 587.78 116.89L592.55 113.8M591.35 113.8L597.24 121.98M479.41 145.33L485.3 137.15M484.1 137.15L488.87 140.24Q491.39 141.87 492.78 144.52L494.03 146.89Q495.43 149.55 496.82 146.89L498.07 144.52Q499.46 141.87 501.98 140.24L506.75 137.15M505.55 137.15L510.32 140.24Q512.84 141.87 514.23 144.52L515.48 146.89Q516.88 149.55 518.27 146.89L519.52 144.52Q520.91 141.87 523.43 140.24L528.2 137.15M527 137.15L531.77 140.24Q534.29 141.87 535.68 144.52L536.93 146.89Q538.33 149.55 539.72 146.89L540.97 144.52Q542.36 141.87 544.88 140.24L549.65 137.15M548.45 137.15L553.22 140.24Q555.74 141.87 557.13 144.52L558.38 146.89Q559.77 149.55 561.17 146.89L562.42 144.52Q563.81 141.87 566.33 140.24L571.1 137.15M569.9 137.15L574.67 140.24Q577.19 141.87 578.58 144.52L579.83 146.89Q581.23 149.55 582.62 146.89L583.87 144.52Q585.26 141.87 587.78 140.24L592.55 137.15M591.35 137.15L597.24 145.33M479.41 168.68L485.3 160.5M484.1 160.5L488.87 163.59Q491.39 165.22 492.78 167.87L494.03 170.24Q495.43 172.9 496.82 170.24L498.07 167.87Q499.46 165.22 501.98 163.59L506.75 160.5M505.55 160.5L510.32 163.59Q512.84 165.22 514.23 167.87L515.48 170.24Q516.88 172.9 518.27 170.24L519.52 167.87Q520.91 165.22 523.43 163.59L528.2 160.5M527 160.5L531.77 163.59Q534.29 165.22 535.68 167.87L536.93 170.24Q538.33 172.9 539.72 170.24L540.97 167.87Q542.36 165.22 544.88 163.59L549.65 160.5M548.45 160.5L553.22 163.59Q555.74 165.22 557.13 167.87L558.38 170.24Q559.77 172.9 561.17 170.24L562.42 167.87Q563.81 165.22 566.33 163.59L571.1 160.5M569.9 160.5L574.67 163.59Q577.19 165.22 578.58 167.87L579.83 170.24Q581.23 172.9 582.62 170.24L583.87 167.87Q585.26 165.22 587.78 163.59L592.55 160.5M591.35 160.5L597.24 168.68M485.4 183.75L477.27 195.05M484 183.75L494.53 195.05M506.85 183.75L496.32 195.05M505.45 183.75L515.98 195.05M528.3 183.75L517.77 195.05M526.9 183.75L537.43 195.05M549.75 183.75L539.23 195.05M548.35 183.75L558.88 195.05M571.2 183.75L560.67 195.05M569.8 183.75L580.33 195.05M592.65 183.75L582.12 195.05M591.25 183.75L599.38 195.05M485.5 113.6L484.41 117.12Q483.34 120.56 480.49 122.75L480.43 122.8Q477.57 125 479.06 128.28L483.9 138.95M483.9 113.6L485.84 117.55Q487.43 120.78 490.49 122.68L491.17 123.1Q494.23 125 492.32 128.05L485.5 138.95M506.95 113.6L505.01 117.55Q503.42 120.78 500.36 122.68L499.68 123.1Q496.62 125 498.53 128.05L505.35 138.95M505.35 113.6L507.29 117.55Q508.88 120.78 511.94 122.68L512.62 123.1Q515.67 125 513.77 128.05L506.95 138.95M528.4 113.6L526.46 117.55Q524.87 120.78 521.81 122.68L521.13 123.1Q518.08 125 519.98 128.05L526.8 138.95M526.8 113.6L528.74 117.55Q530.33 120.78 533.39 122.68L534.07 123.1Q537.12 125 535.22 128.05L528.4 138.95M549.85 113.6L547.91 117.55Q546.32 120.78 543.26 122.68L542.58 123.1Q539.53 125 541.43 128.05L548.25 138.95M548.25 113.6L550.19 117.55Q551.78 120.78 554.84 122.68L555.52 123.1Q558.57 125 556.67 128.05L549.85 138.95M571.3 113.6L569.36 117.55Q567.77 120.78 564.71 122.68L564.03 123.1Q560.98 125 562.88 128.05L569.7 138.95M569.7 113.6L571.64 117.55Q573.23 120.78 576.29 122.68L576.97 123.1Q580.02 125 578.12 128.05L571.3 138.95M592.75 113.6L590.81 117.55Q589.22 120.78 586.16 122.68L585.48 123.1Q582.43 125 584.33 128.05L591.15 138.95M591.15 113.6L592.24 117.12Q593.31 120.56 596.16 122.75L596.22 122.8Q599.07 125 597.59 128.28L592.75 138.95M485.5 136.95L484.41 140.47Q483.34 143.91 480.49 146.1L480.43 146.15Q477.57 148.35 479.06 151.63L483.9 162.3M483.9 136.95L485.84 140.9Q487.43 144.13 490.49 146.03L491.17 146.45Q494.23 148.35 492.32 151.4L485.5 162.3M506.95 136.95L505.01 140.9Q503.42 144.13 500.36 146.03L499.68 146.45Q496.62 148.35 498.53 151.4L505.35 162.3M505.35 136.95L507.29 140.9Q508.88 144.13 511.94 146.03L512.62 146.45Q515.67 148.35 513.77 151.4L506.95 162.3M528.4 136.95L526.46 140.9Q524.87 144.13 521.81 146.03L521.13 146.45Q518.08 148.35 519.98 151.4L526.8 162.3M526.8 136.95L528.74 140.9Q530.33 144.13 533.39 146.03L534.07 146.45Q537.12 148.35 535.22 151.4L528.4 162.3M549.85 136.95L547.91 140.9Q546.32 144.13 543.26 146.03L542.58 146.45Q539.53 148.35 541.43 151.4L548.25 162.3M548.25 136.95L550.19 140.9Q551.78 144.13 554.84 146.03L555.52 146.45Q558.57 148.35 556.67 151.4L549.85 162.3M571.3 136.95L569.36 140.9Q567.77 144.13 564.71 146.03L564.03 146.45Q560.98 148.35 562.88 151.4L569.7 162.3M569.7 136.95L571.64 140.9Q573.23 144.13 576.29 146.03L576.97 146.45Q580.02 148.35 578.12 151.4L571.3 162.3M592.75 136.95L590.81 140.9Q589.22 144.13 586.16 146.03L585.48 146.45Q582.43 148.35 584.33 151.4L591.15 162.3M591.15 136.95L592.24 140.47Q593.31 143.91 596.16 146.1L596.22 146.15Q599.07 148.35 597.59 151.63L592.75 162.3M485.5 160.3L484.41 163.82Q483.34 167.26 480.49 169.45L480.43 169.5Q477.57 171.7 479.06 174.98L483.9 185.65M483.9 160.3L485.84 164.25Q487.43 167.48 490.49 169.38L491.17 169.8Q494.23 171.7 492.32 174.75L485.5 185.65M506.95 160.3L505.01 164.25Q503.42 167.48 500.36 169.38L499.68 169.8Q496.62 171.7 498.53 174.75L505.35 185.65M505.35 160.3L507.29 164.25Q508.88 167.48 511.94 169.38L512.62 169.8Q515.67 171.7 513.77 174.75L506.95 185.65M528.4 160.3L526.46 164.25Q524.87 167.48 521.81 169.38L521.13 169.8Q518.08 171.7 519.98 174.75L526.8 185.65M526.8 160.3L528.74 164.25Q530.33 167.48 533.39 169.38L534.07 169.8Q537.12 171.7 535.22 174.75L528.4 185.65M549.85 160.3L547.91 164.25Q546.32 167.48 543.26 169.38L542.58 169.8Q539.53 171.7 541.43 174.75L548.25 185.65M548.25 160.3L550.19 164.25Q551.78 167.48 554.84 169.38L555.52 169.8Q558.57 171.7 556.67 174.75L549.85 185.65M571.3 160.3L569.36 164.25Q567.77 167.48 564.71 169.38L564.03 169.8Q560.98 171.7 562.88 174.75L569.7 185.65M569.7 160.3L571.64 164.25Q573.23 167.48 576.29 169.38L576.97 169.8Q580.02 171.7 578.12 174.75L571.3 185.65M592.75 160.3L590.81 164.25Q589.22 167.48 586.16 169.38L585.48 169.8Q582.43 171.7 584.33 174.75L591.15 185.65M591.15 160.3L592.24 163.82Q593.31 167.26 596.16 169.45L596.22 169.5Q599.07 171.7 597.59 174.98L592.75 185.65M485.5 183.65L484.41 187.17Q483.34 190.61 480.49 192.8L477.57 195.05M483.9 183.65L485.84 187.6Q487.43 190.83 490.49 192.73L494.23 195.05M506.95 183.65L505.01 187.6Q503.42 190.83 500.36 192.73L496.62 195.05M505.35 183.65L507.29 187.6Q508.88 190.83 511.94 192.73L515.67 195.05M528.4 183.65L526.46 187.6Q524.87 190.83 521.81 192.73L518.08 195.05M526.8 183.65L528.74 187.6Q530.33 190.83 533.39 192.73L537.12 195.05M549.85 183.65L547.91 187.6Q546.32 190.83 543.26 192.73L539.53 195.05M548.25 183.65L550.19 187.6Q551.78 190.83 554.84 192.73L558.57 195.05M571.3 183.65L569.36 187.6Q567.77 190.83 564.71 192.73L560.98 195.05M569.7 183.65L571.64 187.6Q573.23 190.83 576.29 192.73L580.02 195.05M592.75 183.65L590.81 187.6Q589.22 190.83 586.16 192.73L582.43 195.05M591.15 183.65L592.24 187.17Q593.31 190.61 596.16 192.8L599.07 195.05M483.76 116.13L491.09 104.23A7.5 7.5 0 1 0 478.31 104.23L485.64 116.13M505.21 116.13L512.54 104.23A7.5 7.5 0 1 0 499.76 104.23L507.09 116.13M526.66 116.13L533.99 104.23A7.5 7.5 0 1 0 521.21 104.23L528.54 116.13M548.11 116.13L555.44 104.23A7.5 7.5 0 1 0 542.66 104.23L549.99 116.13M569.56 116.13L576.89 104.23A7.5 7.5 0 1 0 564.11 104.23L571.44 116.13M591.01 116.13L598.34 104.23A7.5 7.5 0 1 0 585.56 104.23L592.89 116.13M493.59 192.63L501.73 204.23A7.7 7.7 0 1 1 489.12 204.23L497.26 192.63M515.04 192.63L523.18 204.23A7.7 7.7 0 1 1 510.57 204.23L518.71 192.63M536.49 192.63L544.63 204.23A7.7 7.7 0 1 1 532.02 204.23L540.16 192.63M557.94 192.63L566.08 204.23A7.7 7.7 0 1 1 553.47 204.23L561.61 192.63M579.39 192.63L587.53 204.23A7.7 7.7 0 1 1 574.92 204.23L583.06 192.63M478.37 191.75C478.67 192.83 479.62 196.17 480.17 198.25C480.72 200.33 481.37 202.58 481.67 204.25C481.97 205.92 482.12 206.93 481.97 208.25C481.82 209.57 481.44 210.93 480.77 212.15C480.11 213.37 478.87 214.83 477.97 215.55C477.07 216.27 475.81 216.3 475.37 216.45M598.27 191.75C597.98 192.83 597.02 196.17 596.48 198.25C595.93 200.33 595.28 202.58 594.98 204.25C594.67 205.92 594.52 206.93 594.67 208.25C594.82 209.57 595.21 210.93 595.88 212.15C596.54 213.37 597.77 214.83 598.67 215.55C599.57 216.27 600.84 216.3 601.27 216.45" stroke="#353535" stroke-width="1.8"/>
</g>
<g fill="none" stroke-linecap="round" stroke-linejoin="round">
<path d="M712.71 125L718.6 115.5M717.4 115.5L722.44 119.48Q724.79 121.34 726.04 124.07L727.47 127.17Q728.73 129.9 729.98 127.17L731.41 124.07Q732.66 121.34 735.01 119.48L740.05 115.5M738.85 115.5L743.89 119.48Q746.24 121.34 747.49 124.07L748.92 127.17Q750.17 129.9 751.43 127.17L752.86 124.07Q754.11 121.34 756.46 119.48L761.5 115.5M760.3 115.5L765.34 119.48Q767.69 121.34 768.94 124.07L770.37 127.17Q771.62 129.9 772.88 127.17L774.31 124.07Q775.56 121.34 777.91 119.48L782.95 115.5M781.75 115.5L786.79 119.48Q789.14 121.34 790.39 124.07L791.82 127.17Q793.08 129.9 794.33 127.17L795.76 124.07Q797.01 121.34 799.36 119.48L804.4 115.5M803.2 115.5L808.24 119.48Q810.59 121.34 811.84 124.07L813.27 127.17Q814.52 129.9 815.78 127.17L817.21 124.07Q818.46 121.34 820.81 119.48L825.85 115.5M824.65 115.5L830.54 125M712.71 148.6L718.6 139.1M717.4 139.1L722.44 143.08Q724.79 144.94 726.04 147.67L727.47 150.77Q728.73 153.5 729.98 150.77L731.41 147.67Q732.66 144.94 735.01 143.08L740.05 139.1M738.85 139.1L743.89 143.08Q746.24 144.94 747.49 147.67L748.92 150.77Q750.17 153.5 751.43 150.77L752.86 147.67Q754.11 144.94 756.46 143.08L761.5 139.1M760.3 139.1L765.34 143.08Q767.69 144.94 768.94 147.67L770.37 150.77Q771.62 153.5 772.88 150.77L774.31 147.67Q775.56 144.94 777.91 143.08L782.95 139.1M781.75 139.1L786.79 143.08Q789.14 144.94 790.39 147.67L791.82 150.77Q793.08 153.5 794.33 150.77L795.76 147.67Q797.01 144.94 799.36 143.08L804.4 139.1M803.2 139.1L808.24 143.08Q810.59 144.94 811.84 147.67L813.27 150.77Q814.52 153.5 815.78 150.77L817.21 147.67Q818.46 144.94 820.81 143.08L825.85 139.1M824.65 139.1L830.54 148.6M712.71 172.2L718.6 162.7M717.4 162.7L722.44 166.68Q724.79 168.54 726.04 171.27L727.47 174.37Q728.73 177.1 729.98 174.37L731.41 171.27Q732.66 168.54 735.01 166.68L740.05 162.7M738.85 162.7L743.89 166.68Q746.24 168.54 747.49 171.27L748.92 174.37Q750.17 177.1 751.43 174.37L752.86 171.27Q754.11 168.54 756.46 166.68L761.5 162.7M760.3 162.7L765.34 166.68Q767.69 168.54 768.94 171.27L770.37 174.37Q771.62 177.1 772.88 174.37L774.31 171.27Q775.56 168.54 777.91 166.68L782.95 162.7M781.75 162.7L786.79 166.68Q789.14 168.54 790.39 171.27L791.82 174.37Q793.08 177.1 794.33 174.37L795.76 171.27Q797.01 168.54 799.36 166.68L804.4 162.7M803.2 162.7L808.24 166.68Q810.59 168.54 811.84 171.27L813.27 174.37Q814.52 177.1 815.78 174.37L817.21 171.27Q818.46 168.54 820.81 166.68L825.85 162.7M824.65 162.7L830.54 172.2M718.7 186.2L710.57 199.5M717.3 186.2L727.83 199.5M740.15 186.2L729.62 199.5M738.75 186.2L749.27 199.5M761.6 186.2L751.07 199.5M760.2 186.2L770.73 199.5M783.05 186.2L772.52 199.5M781.65 186.2L792.18 199.5M804.5 186.2L793.98 199.5M803.1 186.2L813.62 199.5M825.95 186.2L815.42 199.5M824.55 186.2L832.68 199.5M718.8 115.3L717.65 119.64Q716.73 123.12 714.12 125.6L713.48 126.22Q710.88 128.7 712.53 131.9L717.2 140.9M717.2 115.3L719.21 120.03Q720.62 123.34 723.46 125.55L724.68 126.49Q727.52 128.7 725.43 131.63L718.8 140.9M740.25 115.3L738.24 120.03Q736.83 123.34 733.99 125.55L732.77 126.49Q729.93 128.7 732.02 131.63L738.65 140.9M738.65 115.3L740.66 120.03Q742.07 123.34 744.91 125.55L746.13 126.49Q748.97 128.7 746.88 131.63L740.25 140.9M761.7 115.3L759.69 120.03Q758.28 123.34 755.44 125.55L754.22 126.49Q751.38 128.7 753.47 131.63L760.1 140.9M760.1 115.3L762.11 120.03Q763.52 123.34 766.36 125.55L767.58 126.49Q770.42 128.7 768.33 131.63L761.7 140.9M783.15 115.3L781.14 120.03Q779.73 123.34 776.89 125.55L775.67 126.49Q772.83 128.7 774.92 131.63L781.55 140.9M781.55 115.3L783.56 120.03Q784.97 123.34 787.81 125.55L789.03 126.49Q791.88 128.7 789.78 131.63L783.15 140.9M804.6 115.3L802.59 120.03Q801.18 123.34 798.34 125.55L797.12 126.49Q794.28 128.7 796.37 131.63L803 140.9M803 115.3L805.01 120.03Q806.42 123.34 809.26 125.55L810.48 126.49Q813.32 128.7 811.23 131.63L804.6 140.9M826.05 115.3L824.04 120.03Q822.63 123.34 819.79 125.55L818.57 126.49Q815.73 128.7 817.82 131.63L824.45 140.9M824.45 115.3L825.6 119.64Q826.52 123.12 829.13 125.6L829.77 126.22Q832.38 128.7 830.72 131.9L826.05 140.9M718.8 138.9L717.65 143.24Q716.73 146.72 714.12 149.2L713.48 149.82Q710.88 152.3 712.53 155.5L717.2 164.5M717.2 138.9L719.21 143.63Q720.62 146.94 723.46 149.15L724.68 150.09Q727.52 152.3 725.43 155.23L718.8 164.5M740.25 138.9L738.24 143.63Q736.83 146.94 733.99 149.15L732.77 150.09Q729.93 152.3 732.02 155.23L738.65 164.5M738.65 138.9L740.66 143.63Q742.07 146.94 744.91 149.15L746.13 150.09Q748.97 152.3 746.88 155.23L740.25 164.5M761.7 138.9L759.69 143.63Q758.28 146.94 755.44 149.15L754.22 150.09Q751.38 152.3 753.47 155.23L760.1 164.5M760.1 138.9L762.11 143.63Q763.52 146.94 766.36 149.15L767.58 150.09Q770.42 152.3 768.33 155.23L761.7 164.5M783.15 138.9L781.14 143.63Q779.73 146.94 776.89 149.15L775.67 150.09Q772.83 152.3 774.92 155.23L781.55 164.5M781.55 138.9L783.56 143.63Q784.97 146.94 787.81 149.15L789.03 150.09Q791.88 152.3 789.78 155.23L783.15 164.5M804.6 138.9L802.59 143.63Q801.18 146.94 798.34 149.15L797.12 150.09Q794.28 152.3 796.37 155.23L803 164.5M803 138.9L805.01 143.63Q806.42 146.94 809.26 149.15L810.48 150.09Q813.32 152.3 811.23 155.23L804.6 164.5M826.05 138.9L824.04 143.63Q822.63 146.94 819.79 149.15L818.57 150.09Q815.73 152.3 817.82 155.23L824.45 164.5M824.45 138.9L825.6 143.24Q826.52 146.72 829.13 149.2L829.77 149.82Q832.38 152.3 830.72 155.5L826.05 164.5M718.8 162.5L717.65 166.84Q716.73 170.32 714.12 172.8L713.48 173.42Q710.88 175.9 712.53 179.1L717.2 188.1M717.2 162.5L719.21 167.23Q720.62 170.54 723.46 172.75L724.68 173.69Q727.52 175.9 725.43 178.83L718.8 188.1M740.25 162.5L738.24 167.23Q736.83 170.54 733.99 172.75L732.77 173.69Q729.93 175.9 732.02 178.83L738.65 188.1M738.65 162.5L740.66 167.23Q742.07 170.54 744.91 172.75L746.13 173.69Q748.97 175.9 746.88 178.83L740.25 188.1M761.7 162.5L759.69 167.23Q758.28 170.54 755.44 172.75L754.22 173.69Q751.38 175.9 753.47 178.83L760.1 188.1M760.1 162.5L762.11 167.23Q763.52 170.54 766.36 172.75L767.58 173.69Q770.42 175.9 768.33 178.83L761.7 188.1M783.15 162.5L781.14 167.23Q779.73 170.54 776.89 172.75L775.67 173.69Q772.83 175.9 774.92 178.83L781.55 188.1M781.55 162.5L783.56 167.23Q784.97 170.54 787.81 172.75L789.03 173.69Q791.88 175.9 789.78 178.83L783.15 188.1M804.6 162.5L802.59 167.23Q801.18 170.54 798.34 172.75L797.12 173.69Q794.28 175.9 796.37 178.83L803 188.1M803 162.5L805.01 167.23Q806.42 170.54 809.26 172.75L810.48 173.69Q813.32 175.9 811.23 178.83L804.6 188.1M826.05 162.5L824.04 167.23Q822.63 170.54 819.79 172.75L818.57 173.69Q815.73 175.9 817.82 178.83L824.45 188.1M824.45 162.5L825.6 166.84Q826.52 170.32 829.13 172.8L829.77 173.42Q832.38 175.9 830.72 179.1L826.05 188.1M718.8 186.1L717.65 190.44Q716.73 193.92 714.12 196.4L710.88 199.5M717.2 186.1L719.21 190.83Q720.62 194.14 723.46 196.35L727.52 199.5M740.25 186.1L738.24 190.83Q736.83 194.14 733.99 196.35L729.93 199.5M738.65 186.1L740.66 190.83Q742.07 194.14 744.91 196.35L748.97 199.5M761.7 186.1L759.69 190.83Q758.28 194.14 755.44 196.35L751.38 199.5M760.1 186.1L762.11 190.83Q763.52 194.14 766.36 196.35L770.42 199.5M783.15 186.1L781.14 190.83Q779.73 194.14 776.89 196.35L772.83 199.5M781.55 186.1L783.56 190.83Q784.97 194.14 787.81 196.35L791.88 199.5M804.6 186.1L802.59 190.83Q801.18 194.14 798.34 196.35L794.28 199.5M803 186.1L805.01 190.83Q806.42 194.14 809.26 196.35L813.32 199.5M826.05 186.1L824.04 190.83Q822.63 194.14 819.79 196.35L815.73 199.5M824.45 186.1L825.6 190.44Q826.52 193.92 829.13 196.4L832.38 199.5" stroke="#232727" stroke-width="3.5"/>
<path d="M717.09 117.86L724.39 105.33A7.4 7.4 0 1 0 711.61 105.33L718.91 117.86M738.54 117.86L745.84 105.33A7.4 7.4 0 1 0 733.06 105.33L740.36 117.86M759.99 117.86L767.29 105.33A7.4 7.4 0 1 0 754.51 105.33L761.81 117.86M781.44 117.86L788.74 105.33A7.4 7.4 0 1 0 775.96 105.33L783.26 117.86M802.89 117.86L810.19 105.33A7.4 7.4 0 1 0 797.41 105.33L804.71 117.86M824.34 117.86L831.64 105.33A7.4 7.4 0 1 0 818.86 105.33L826.16 117.86M726.74 197.19L734.37 206.83A7.2 7.2 0 1 1 723.08 206.83L730.71 197.19M748.19 197.19L755.82 206.83A7.2 7.2 0 1 1 744.53 206.83L752.16 197.19M769.64 197.19L777.27 206.83A7.2 7.2 0 1 1 765.98 206.83L773.61 197.19M791.09 197.19L798.72 206.83A7.2 7.2 0 1 1 787.43 206.83L795.06 197.19M812.54 197.19L820.17 206.83A7.2 7.2 0 1 1 808.88 206.83L816.51 197.19M711.67 196.2C711.97 197.28 712.92 200.62 713.47 202.7C714.02 204.78 714.67 207.03 714.97 208.7C715.27 210.37 715.42 211.77 715.27 212.7C715.12 213.63 714.74 213.47 714.07 214.3C713.41 215.13 712.17 216.98 711.27 217.7C710.38 218.42 709.11 218.45 708.67 218.6M831.58 196.2C831.28 197.28 830.33 200.62 829.78 202.7C829.23 204.78 828.58 207.03 828.28 208.7C827.98 210.37 827.83 211.77 827.98 212.7C828.12 213.63 828.51 213.47 829.18 214.3C829.84 215.13 831.08 216.98 831.98 217.7C832.88 218.42 834.14 218.45 834.58 218.6" stroke="#232727" stroke-width="4.5"/>
<path d="M712.71 125L718.6 115.5M717.4 115.5L722.44 119.48Q724.79 121.34 726.04 124.07L727.47 127.17Q728.73 129.9 729.98 127.17L731.41 124.07Q732.66 121.34 735.01 119.48L740.05 115.5M738.85 115.5L743.89 119.48Q746.24 121.34 747.49 124.07L748.92 127.17Q750.17 129.9 751.43 127.17L752.86 124.07Q754.11 121.34 756.46 119.48L761.5 115.5M760.3 115.5L765.34 119.48Q767.69 121.34 768.94 124.07L770.37 127.17Q771.62 129.9 772.88 127.17L774.31 124.07Q775.56 121.34 777.91 119.48L782.95 115.5M781.75 115.5L786.79 119.48Q789.14 121.34 790.39 124.07L791.82 127.17Q793.08 129.9 794.33 127.17L795.76 124.07Q797.01 121.34 799.36 119.48L804.4 115.5M803.2 115.5L808.24 119.48Q810.59 121.34 811.84 124.07L813.27 127.17Q814.52 129.9 815.78 127.17L817.21 124.07Q818.46 121.34 820.81 119.48L825.85 115.5M824.65 115.5L830.54 125M712.71 148.6L718.6 139.1M717.4 139.1L722.44 143.08Q724.79 144.94 726.04 147.67L727.47 150.77Q728.73 153.5 729.98 150.77L731.41 147.67Q732.66 144.94 735.01 143.08L740.05 139.1M738.85 139.1L743.89 143.08Q746.24 144.94 747.49 147.67L748.92 150.77Q750.17 153.5 751.43 150.77L752.86 147.67Q754.11 144.94 756.46 143.08L761.5 139.1M760.3 139.1L765.34 143.08Q767.69 144.94 768.94 147.67L770.37 150.77Q771.62 153.5 772.88 150.77L774.31 147.67Q775.56 144.94 777.91 143.08L782.95 139.1M781.75 139.1L786.79 143.08Q789.14 144.94 790.39 147.67L791.82 150.77Q793.08 153.5 794.33 150.77L795.76 147.67Q797.01 144.94 799.36 143.08L804.4 139.1M803.2 139.1L808.24 143.08Q810.59 144.94 811.84 147.67L813.27 150.77Q814.52 153.5 815.78 150.77L817.21 147.67Q818.46 144.94 820.81 143.08L825.85 139.1M824.65 139.1L830.54 148.6M712.71 172.2L718.6 162.7M717.4 162.7L722.44 166.68Q724.79 168.54 726.04 171.27L727.47 174.37Q728.73 177.1 729.98 174.37L731.41 171.27Q732.66 168.54 735.01 166.68L740.05 162.7M738.85 162.7L743.89 166.68Q746.24 168.54 747.49 171.27L748.92 174.37Q750.17 177.1 751.43 174.37L752.86 171.27Q754.11 168.54 756.46 166.68L761.5 162.7M760.3 162.7L765.34 166.68Q767.69 168.54 768.94 171.27L770.37 174.37Q771.62 177.1 772.88 174.37L774.31 171.27Q775.56 168.54 777.91 166.68L782.95 162.7M781.75 162.7L786.79 166.68Q789.14 168.54 790.39 171.27L791.82 174.37Q793.08 177.1 794.33 174.37L795.76 171.27Q797.01 168.54 799.36 166.68L804.4 162.7M803.2 162.7L808.24 166.68Q810.59 168.54 811.84 171.27L813.27 174.37Q814.52 177.1 815.78 174.37L817.21 171.27Q818.46 168.54 820.81 166.68L825.85 162.7M824.65 162.7L830.54 172.2M718.7 186.2L710.57 199.5M717.3 186.2L727.83 199.5M740.15 186.2L729.62 199.5M738.75 186.2L749.27 199.5M761.6 186.2L751.07 199.5M760.2 186.2L770.73 199.5M783.05 186.2L772.52 199.5M781.65 186.2L792.18 199.5M804.5 186.2L793.98 199.5M803.1 186.2L813.62 199.5M825.95 186.2L815.42 199.5M824.55 186.2L832.68 199.5M718.8 115.3L717.65 119.64Q716.73 123.12 714.12 125.6L713.48 126.22Q710.88 128.7 712.53 131.9L717.2 140.9M717.2 115.3L719.21 120.03Q720.62 123.34 723.46 125.55L724.68 126.49Q727.52 128.7 725.43 131.63L718.8 140.9M740.25 115.3L738.24 120.03Q736.83 123.34 733.99 125.55L732.77 126.49Q729.93 128.7 732.02 131.63L738.65 140.9M738.65 115.3L740.66 120.03Q742.07 123.34 744.91 125.55L746.13 126.49Q748.97 128.7 746.88 131.63L740.25 140.9M761.7 115.3L759.69 120.03Q758.28 123.34 755.44 125.55L754.22 126.49Q751.38 128.7 753.47 131.63L760.1 140.9M760.1 115.3L762.11 120.03Q763.52 123.34 766.36 125.55L767.58 126.49Q770.42 128.7 768.33 131.63L761.7 140.9M783.15 115.3L781.14 120.03Q779.73 123.34 776.89 125.55L775.67 126.49Q772.83 128.7 774.92 131.63L781.55 140.9M781.55 115.3L783.56 120.03Q784.97 123.34 787.81 125.55L789.03 126.49Q791.88 128.7 789.78 131.63L783.15 140.9M804.6 115.3L802.59 120.03Q801.18 123.34 798.34 125.55L797.12 126.49Q794.28 128.7 796.37 131.63L803 140.9M803 115.3L805.01 120.03Q806.42 123.34 809.26 125.55L810.48 126.49Q813.32 128.7 811.23 131.63L804.6 140.9M826.05 115.3L824.04 120.03Q822.63 123.34 819.79 125.55L818.57 126.49Q815.73 128.7 817.82 131.63L824.45 140.9M824.45 115.3L825.6 119.64Q826.52 123.12 829.13 125.6L829.77 126.22Q832.38 128.7 830.72 131.9L826.05 140.9M718.8 138.9L717.65 143.24Q716.73 146.72 714.12 149.2L713.48 149.82Q710.88 152.3 712.53 155.5L717.2 164.5M717.2 138.9L719.21 143.63Q720.62 146.94 723.46 149.15L724.68 150.09Q727.52 152.3 725.43 155.23L718.8 164.5M740.25 138.9L738.24 143.63Q736.83 146.94 733.99 149.15L732.77 150.09Q729.93 152.3 732.02 155.23L738.65 164.5M738.65 138.9L740.66 143.63Q742.07 146.94 744.91 149.15L746.13 150.09Q748.97 152.3 746.88 155.23L740.25 164.5M761.7 138.9L759.69 143.63Q758.28 146.94 755.44 149.15L754.22 150.09Q751.38 152.3 753.47 155.23L760.1 164.5M760.1 138.9L762.11 143.63Q763.52 146.94 766.36 149.15L767.58 150.09Q770.42 152.3 768.33 155.23L761.7 164.5M783.15 138.9L781.14 143.63Q779.73 146.94 776.89 149.15L775.67 150.09Q772.83 152.3 774.92 155.23L781.55 164.5M781.55 138.9L783.56 143.63Q784.97 146.94 787.81 149.15L789.03 150.09Q791.88 152.3 789.78 155.23L783.15 164.5M804.6 138.9L802.59 143.63Q801.18 146.94 798.34 149.15L797.12 150.09Q794.28 152.3 796.37 155.23L803 164.5M803 138.9L805.01 143.63Q806.42 146.94 809.26 149.15L810.48 150.09Q813.32 152.3 811.23 155.23L804.6 164.5M826.05 138.9L824.04 143.63Q822.63 146.94 819.79 149.15L818.57 150.09Q815.73 152.3 817.82 155.23L824.45 164.5M824.45 138.9L825.6 143.24Q826.52 146.72 829.13 149.2L829.77 149.82Q832.38 152.3 830.72 155.5L826.05 164.5M718.8 162.5L717.65 166.84Q716.73 170.32 714.12 172.8L713.48 173.42Q710.88 175.9 712.53 179.1L717.2 188.1M717.2 162.5L719.21 167.23Q720.62 170.54 723.46 172.75L724.68 173.69Q727.52 175.9 725.43 178.83L718.8 188.1M740.25 162.5L738.24 167.23Q736.83 170.54 733.99 172.75L732.77 173.69Q729.93 175.9 732.02 178.83L738.65 188.1M738.65 162.5L740.66 167.23Q742.07 170.54 744.91 172.75L746.13 173.69Q748.97 175.9 746.88 178.83L740.25 188.1M761.7 162.5L759.69 167.23Q758.28 170.54 755.44 172.75L754.22 173.69Q751.38 175.9 753.47 178.83L760.1 188.1M760.1 162.5L762.11 167.23Q763.52 170.54 766.36 172.75L767.58 173.69Q770.42 175.9 768.33 178.83L761.7 188.1M783.15 162.5L781.14 167.23Q779.73 170.54 776.89 172.75L775.67 173.69Q772.83 175.9 774.92 178.83L781.55 188.1M781.55 162.5L783.56 167.23Q784.97 170.54 787.81 172.75L789.03 173.69Q791.88 175.9 789.78 178.83L783.15 188.1M804.6 162.5L802.59 167.23Q801.18 170.54 798.34 172.75L797.12 173.69Q794.28 175.9 796.37 178.83L803 188.1M803 162.5L805.01 167.23Q806.42 170.54 809.26 172.75L810.48 173.69Q813.32 175.9 811.23 178.83L804.6 188.1M826.05 162.5L824.04 167.23Q822.63 170.54 819.79 172.75L818.57 173.69Q815.73 175.9 817.82 178.83L824.45 188.1M824.45 162.5L825.6 166.84Q826.52 170.32 829.13 172.8L829.77 173.42Q832.38 175.9 830.72 179.1L826.05 188.1M718.8 186.1L717.65 190.44Q716.73 193.92 714.12 196.4L710.88 199.5M717.2 186.1L719.21 190.83Q720.62 194.14 723.46 196.35L727.52 199.5M740.25 186.1L738.24 190.83Q736.83 194.14 733.99 196.35L729.93 199.5M738.65 186.1L740.66 190.83Q742.07 194.14 744.91 196.35L748.97 199.5M761.7 186.1L759.69 190.83Q758.28 194.14 755.44 196.35L751.38 199.5M760.1 186.1L762.11 190.83Q763.52 194.14 766.36 196.35L770.42 199.5M783.15 186.1L781.14 190.83Q779.73 194.14 776.89 196.35L772.83 199.5M781.55 186.1L783.56 190.83Q784.97 194.14 787.81 196.35L791.88 199.5M804.6 186.1L802.59 190.83Q801.18 194.14 798.34 196.35L794.28 199.5M803 186.1L805.01 190.83Q806.42 194.14 809.26 196.35L813.32 199.5M826.05 186.1L824.04 190.83Q822.63 194.14 819.79 196.35L815.73 199.5M824.45 186.1L825.6 190.44Q826.52 193.92 829.13 196.4L832.38 199.5M717.09 117.86L724.39 105.33A7.4 7.4 0 1 0 711.61 105.33L718.91 117.86M738.54 117.86L745.84 105.33A7.4 7.4 0 1 0 733.06 105.33L740.36 117.86M759.99 117.86L767.29 105.33A7.4 7.4 0 1 0 754.51 105.33L761.81 117.86M781.44 117.86L788.74 105.33A7.4 7.4 0 1 0 775.96 105.33L783.26 117.86M802.89 117.86L810.19 105.33A7.4 7.4 0 1 0 797.41 105.33L804.71 117.86M824.34 117.86L831.64 105.33A7.4 7.4 0 1 0 818.86 105.33L826.16 117.86M726.74 197.19L734.37 206.83A7.2 7.2 0 1 1 723.08 206.83L730.71 197.19M748.19 197.19L755.82 206.83A7.2 7.2 0 1 1 744.53 206.83L752.16 197.19M769.64 197.19L777.27 206.83A7.2 7.2 0 1 1 765.98 206.83L773.61 197.19M791.09 197.19L798.72 206.83A7.2 7.2 0 1 1 787.43 206.83L795.06 197.19M812.54 197.19L820.17 206.83A7.2 7.2 0 1 1 808.88 206.83L816.51 197.19M711.67 196.2C711.97 197.28 712.92 200.62 713.47 202.7C714.02 204.78 714.67 207.03 714.97 208.7C715.27 210.37 715.42 211.77 715.27 212.7C715.12 213.63 714.74 213.47 714.07 214.3C713.41 215.13 712.17 216.98 711.27 217.7C710.38 218.42 709.11 218.45 708.67 218.6M831.58 196.2C831.28 197.28 830.33 200.62 829.78 202.7C829.23 204.78 828.58 207.03 828.28 208.7C827.98 210.37 827.83 211.77 827.98 212.7C828.12 213.63 828.51 213.47 829.18 214.3C829.84 215.13 831.08 216.98 831.98 217.7C832.88 218.42 834.14 218.45 834.58 218.6" stroke="#2e3333" stroke-width="1.8"/>
</g>
<path d="M710.92 123.01a1.41 1.41 0 1 0 2.81 0a1.41 1.41 0 1 0 -2.81 0M714.9 116.58a1.19 1.19 0 1 0 2.38 0a1.19 1.19 0 1 0 -2.38 0M716.41 120.36a1.53 1.53 0 1 0 3.07 0a1.53 1.53 0 1 0 -3.07 0M719.13 115.14a1.32 1.32 0 1 0 2.64 0a1.32 1.32 0 1 0 -2.64 0M721.41 117.78a1.58 1.58 0 1 0 3.15 0a1.58 1.58 0 1 0 -3.15 0M729.88 121.45a1.27 1.27 0 1 0 2.54 0a1.27 1.27 0 1 0 -2.54 0M746.73 121.33a1.26 1.26 0 1 0 2.53 0a1.26 1.26 0 1 0 -2.53 0M747.51 123.92a1.79 1.79 0 1 0 3.58 0a1.79 1.79 0 1 0 -3.58 0M761.64 115.12a1.73 1.73 0 1 0 3.46 0a1.73 1.73 0 1 0 -3.46 0M769.73 123.76a1.38 1.38 0 1 0 2.76 0a1.38 1.38 0 1 0 -2.76 0M768.56 128.47a1.68 1.68 0 1 0 3.36 0a1.68 1.68 0 1 0 -3.36 0M782.48 115.22a1.34 1.34 0 1 0 2.68 0a1.34 1.34 0 1 0 -2.68 0M785.4 117.55a1.2 1.2 0 1 0 2.39 0a1.2 1.2 0 1 0 -2.39 0M792 126.58a1.35 1.35 0 1 0 2.71 0a1.35 1.35 0 1 0 -2.71 0M793.88 128.99a1.18 1.18 0 1 0 2.35 0a1.18 1.18 0 1 0 -2.35 0M791.72 125.32a1.8 1.8 0 1 0 3.61 0a1.8 1.8 0 1 0 -3.61 0M793.1 121.15a1.77 1.77 0 1 0 3.54 0a1.77 1.77 0 1 0 -3.54 0M793.18 129.79a1.38 1.38 0 1 0 2.76 0a1.38 1.38 0 1 0 -2.76 0M811.56 121.12a1.25 1.25 0 1 0 2.5 0a1.25 1.25 0 1 0 -2.5 0M808.35 123.99a1.69 1.69 0 1 0 3.37 0a1.69 1.69 0 1 0 -3.37 0M810.92 130.21a1.2 1.2 0 1 0 2.4 0a1.2 1.2 0 1 0 -2.4 0M821.52 117.33a1.59 1.59 0 1 0 3.18 0a1.59 1.59 0 1 0 -3.18 0M714.16 140.76a1.45 1.45 0 1 0 2.9 0a1.45 1.45 0 1 0 -2.9 0M717.04 142.65a1.63 1.63 0 1 0 3.26 0a1.63 1.63 0 1 0 -3.26 0M725.47 144.62a1.76 1.76 0 1 0 3.52 0a1.76 1.76 0 1 0 -3.52 0M733.41 144.66a1.8 1.8 0 1 0 3.59 0a1.8 1.8 0 1 0 -3.59 0M754.5 140.71a1.81 1.81 0 1 0 3.63 0a1.81 1.81 0 1 0 -3.63 0M740.4 144.35a1.69 1.69 0 1 0 3.38 0a1.69 1.69 0 1 0 -3.38 0M742.99 145.91a1.57 1.57 0 1 0 3.13 0a1.57 1.57 0 1 0 -3.13 0M772.03 145.62a1.53 1.53 0 1 0 3.07 0a1.53 1.53 0 1 0 -3.07 0M765.87 148.41a1.21 1.21 0 1 0 2.42 0a1.21 1.21 0 1 0 -2.42 0M788.93 143.38a1.44 1.44 0 1 0 2.89 0a1.44 1.44 0 1 0 -2.89 0M790.93 147.52a1.28 1.28 0 1 0 2.55 0a1.28 1.28 0 1 0 -2.55 0M794.95 150.38a1.76 1.76 0 1 0 3.52 0a1.76 1.76 0 1 0 -3.52 0M798.22 145.92a1.4 1.4 0 1 0 2.8 0a1.4 1.4 0 1 0 -2.8 0M826.47 140.56a1.48 1.48 0 1 0 2.96 0a1.48 1.48 0 1 0 -2.96 0M830.92 147.58a1.27 1.27 0 1 0 2.54 0a1.27 1.27 0 1 0 -2.54 0M747.56 175.03a1.59 1.59 0 1 0 3.18 0a1.59 1.59 0 1 0 -3.18 0M752.28 166.94a1.49 1.49 0 1 0 2.98 0a1.49 1.49 0 1 0 -2.98 0M744.94 173.93a1.73 1.73 0 1 0 3.46 0a1.73 1.73 0 1 0 -3.46 0M746.96 177.19a1.28 1.28 0 1 0 2.56 0a1.28 1.28 0 1 0 -2.56 0M771.17 175.12a1.28 1.28 0 1 0 2.56 0a1.28 1.28 0 1 0 -2.56 0M758.4 164.35a1.52 1.52 0 1 0 3.05 0a1.52 1.52 0 1 0 -3.05 0M765.51 172.72a1.77 1.77 0 1 0 3.54 0a1.77 1.77 0 1 0 -3.54 0M777.16 167.92a1.6 1.6 0 1 0 3.21 0a1.6 1.6 0 1 0 -3.21 0M781.42 165.42a1.84 1.84 0 1 0 3.67 0a1.84 1.84 0 1 0 -3.67 0M788.25 166.83a1.33 1.33 0 1 0 2.65 0a1.33 1.33 0 1 0 -2.65 0M790.52 174.31a1.7 1.7 0 1 0 3.4 0a1.7 1.7 0 1 0 -3.4 0M792.48 171.1a1.43 1.43 0 1 0 2.86 0a1.43 1.43 0 1 0 -2.86 0M796.24 165.16a1.79 1.79 0 1 0 3.57 0a1.79 1.79 0 1 0 -3.57 0M788.91 175.93a1.5 1.5 0 1 0 3 0a1.5 1.5 0 1 0 -3 0M804.08 163.83a1.21 1.21 0 1 0 2.42 0a1.21 1.21 0 1 0 -2.42 0M803.46 161.92a1.28 1.28 0 1 0 2.56 0a1.28 1.28 0 1 0 -2.56 0M821.47 162.36a1.34 1.34 0 1 0 2.68 0a1.34 1.34 0 1 0 -2.68 0M801.52 165.18a1.57 1.57 0 1 0 3.14 0a1.57 1.57 0 1 0 -3.14 0M808.38 172.13a1.35 1.35 0 1 0 2.7 0a1.35 1.35 0 1 0 -2.7 0M810.59 175.74a1.68 1.68 0 1 0 3.37 0a1.68 1.68 0 1 0 -3.37 0M816.26 173.1a1.71 1.71 0 1 0 3.42 0a1.71 1.71 0 1 0 -3.42 0M827.76 166.93a1.37 1.37 0 1 0 2.75 0a1.37 1.37 0 1 0 -2.75 0M822.17 164.23a1.43 1.43 0 1 0 2.86 0a1.43 1.43 0 1 0 -2.86 0M825.58 170.86a1.47 1.47 0 1 0 2.95 0a1.47 1.47 0 1 0 -2.95 0M712.23 129.93a1.74 1.74 0 1 0 3.48 0a1.74 1.74 0 1 0 -3.48 0M715.42 117.85a1.33 1.33 0 1 0 2.66 0a1.33 1.33 0 1 0 -2.66 0M718.8 135.18a1.79 1.79 0 1 0 3.58 0a1.79 1.79 0 1 0 -3.58 0M717.15 137.29a1.5 1.5 0 1 0 2.99 0a1.5 1.5 0 1 0 -2.99 0M734.29 125.73a1.55 1.55 0 1 0 3.1 0a1.55 1.55 0 1 0 -3.1 0M731.95 130.09a1.35 1.35 0 1 0 2.71 0a1.35 1.35 0 1 0 -2.71 0M734.08 133.44a1.53 1.53 0 1 0 3.05 0a1.53 1.53 0 1 0 -3.05 0M732.41 138.2a1.44 1.44 0 1 0 2.89 0a1.44 1.44 0 1 0 -2.89 0M744.33 137.66a1.18 1.18 0 1 0 2.37 0a1.18 1.18 0 1 0 -2.37 0M741.45 140.09a1.34 1.34 0 1 0 2.68 0a1.34 1.34 0 1 0 -2.68 0M739.68 136.47a1.72 1.72 0 1 0 3.45 0a1.72 1.72 0 1 0 -3.45 0M759.86 120.65a1.3 1.3 0 1 0 2.6 0a1.3 1.3 0 1 0 -2.6 0M753.8 131.02a1.74 1.74 0 1 0 3.49 0a1.74 1.74 0 1 0 -3.49 0M757.63 136.59a1.15 1.15 0 1 0 2.31 0a1.15 1.15 0 1 0 -2.31 0M754.82 138.38a1.46 1.46 0 1 0 2.91 0a1.46 1.46 0 1 0 -2.91 0M764.76 122.68a1.39 1.39 0 1 0 2.78 0a1.39 1.39 0 1 0 -2.78 0M761.89 141.3a1.6 1.6 0 1 0 3.19 0a1.6 1.6 0 1 0 -3.19 0M758.77 120.93a1.22 1.22 0 1 0 2.44 0a1.22 1.22 0 1 0 -2.44 0M764.14 132.3a1.45 1.45 0 1 0 2.9 0a1.45 1.45 0 1 0 -2.9 0M780.26 123.01a1.32 1.32 0 1 0 2.65 0a1.32 1.32 0 1 0 -2.65 0M774.78 130.74a1.65 1.65 0 1 0 3.3 0a1.65 1.65 0 1 0 -3.3 0M779.76 137.71a1.35 1.35 0 1 0 2.71 0a1.35 1.35 0 1 0 -2.71 0M781.78 139.59a1.61 1.61 0 1 0 3.21 0a1.61 1.61 0 1 0 -3.21 0M782.49 115.81a1.61 1.61 0 1 0 3.22 0a1.61 1.61 0 1 0 -3.22 0M782.71 125.27a1.8 1.8 0 1 0 3.61 0a1.8 1.8 0 1 0 -3.61 0M782.15 136.77a1.35 1.35 0 1 0 2.69 0a1.35 1.35 0 1 0 -2.69 0M798.71 120.33a1.73 1.73 0 1 0 3.46 0a1.73 1.73 0 1 0 -3.46 0M799.01 141a1.4 1.4 0 1 0 2.8 0a1.4 1.4 0 1 0 -2.8 0M805.02 120.48a1.82 1.82 0 1 0 3.65 0a1.82 1.82 0 1 0 -3.65 0M807.48 130.44a1.72 1.72 0 1 0 3.44 0a1.72 1.72 0 1 0 -3.44 0M803.16 137.63a1.77 1.77 0 1 0 3.54 0a1.77 1.77 0 1 0 -3.54 0M817.39 128.64a1.66 1.66 0 1 0 3.33 0a1.66 1.66 0 1 0 -3.33 0M817.97 130.06a1.24 1.24 0 1 0 2.49 0a1.24 1.24 0 1 0 -2.49 0M826.57 141.85a1.31 1.31 0 1 0 2.62 0a1.31 1.31 0 1 0 -2.62 0M825.43 125.57a1.84 1.84 0 1 0 3.68 0a1.84 1.84 0 1 0 -3.68 0M717.6 144.88a1.32 1.32 0 1 0 2.64 0a1.32 1.32 0 1 0 -2.64 0M713.83 157.4a1.33 1.33 0 1 0 2.65 0a1.33 1.33 0 1 0 -2.65 0M715.79 161.16a1.56 1.56 0 1 0 3.12 0a1.56 1.56 0 1 0 -3.12 0M717.99 139.57a1.39 1.39 0 1 0 2.77 0a1.39 1.39 0 1 0 -2.77 0M719.29 144.1a1.69 1.69 0 1 0 3.39 0a1.69 1.69 0 1 0 -3.39 0M721.04 163.56a1.34 1.34 0 1 0 2.69 0a1.34 1.34 0 1 0 -2.69 0M730.49 158.56a1.78 1.78 0 1 0 3.55 0a1.78 1.78 0 1 0 -3.55 0M735.94 164.71a1.2 1.2 0 1 0 2.39 0a1.2 1.2 0 1 0 -2.39 0M744.9 148.5a1.5 1.5 0 1 0 2.99 0a1.5 1.5 0 1 0 -2.99 0M741.8 156.96a1.37 1.37 0 1 0 2.74 0a1.37 1.37 0 1 0 -2.74 0M759.8 145.66a1.39 1.39 0 1 0 2.79 0a1.39 1.39 0 1 0 -2.79 0M754.15 155.22a1.78 1.78 0 1 0 3.55 0a1.78 1.78 0 1 0 -3.55 0M764.37 146.42a1.6 1.6 0 1 0 3.2 0a1.6 1.6 0 1 0 -3.2 0M766.28 152.92a1.51 1.51 0 1 0 3.03 0a1.51 1.51 0 1 0 -3.03 0M780.27 162.48a1.65 1.65 0 1 0 3.3 0a1.65 1.65 0 1 0 -3.3 0M774.81 160.12a1.85 1.85 0 1 0 3.69 0a1.85 1.85 0 1 0 -3.69 0M776.61 162.58a1.5 1.5 0 1 0 3 0a1.5 1.5 0 1 0 -3 0M798.15 144.83a1.83 1.83 0 1 0 3.66 0a1.83 1.83 0 1 0 -3.66 0M794.11 148.42a1.71 1.71 0 1 0 3.42 0a1.71 1.71 0 1 0 -3.42 0M806.28 144.83a1.36 1.36 0 1 0 2.72 0a1.36 1.36 0 1 0 -2.72 0M800.73 142.28a1.82 1.82 0 1 0 3.64 0a1.82 1.82 0 1 0 -3.64 0M802.75 146.84a1.42 1.42 0 1 0 2.85 0a1.42 1.42 0 1 0 -2.85 0M819.32 151.5a1.32 1.32 0 1 0 2.64 0a1.32 1.32 0 1 0 -2.64 0M822.14 145.01a1.78 1.78 0 1 0 3.56 0a1.78 1.78 0 1 0 -3.56 0M827.12 152.18a1.69 1.69 0 1 0 3.38 0a1.69 1.69 0 1 0 -3.38 0M826.12 158.72a1.38 1.38 0 1 0 2.76 0a1.38 1.38 0 1 0 -2.76 0M823.63 161.75a1.83 1.83 0 1 0 3.67 0a1.83 1.83 0 1 0 -3.67 0M712.31 178.59a1.45 1.45 0 1 0 2.89 0a1.45 1.45 0 1 0 -2.89 0M708.74 179.98a1.65 1.65 0 1 0 3.31 0a1.65 1.65 0 1 0 -3.31 0M710.89 183.98a1.67 1.67 0 1 0 3.35 0a1.67 1.67 0 1 0 -3.35 0M725.95 176.97a1.65 1.65 0 1 0 3.29 0a1.65 1.65 0 1 0 -3.29 0M720.12 185.98a1.83 1.83 0 1 0 3.66 0a1.83 1.83 0 1 0 -3.66 0M722.61 178.09a1.57 1.57 0 1 0 3.14 0a1.57 1.57 0 1 0 -3.14 0M740.66 164.77a1.18 1.18 0 1 0 2.36 0a1.18 1.18 0 1 0 -2.36 0M732.36 176.12a1.15 1.15 0 1 0 2.3 0a1.15 1.15 0 1 0 -2.3 0M731.46 176.93a1.57 1.57 0 1 0 3.13 0a1.57 1.57 0 1 0 -3.13 0M729.51 180.3a1.68 1.68 0 1 0 3.35 0a1.68 1.68 0 1 0 -3.35 0M739.1 163.96a1.74 1.74 0 1 0 3.48 0a1.74 1.74 0 1 0 -3.48 0M737.13 167.17a1.8 1.8 0 1 0 3.6 0a1.8 1.8 0 1 0 -3.6 0M742.41 173.84a1.58 1.58 0 1 0 3.15 0a1.58 1.58 0 1 0 -3.15 0M737.79 186.32a1.19 1.19 0 1 0 2.39 0a1.19 1.19 0 1 0 -2.39 0M755.1 174.32a1.66 1.66 0 1 0 3.32 0a1.66 1.66 0 1 0 -3.32 0M751.9 181.4a1.65 1.65 0 1 0 3.3 0a1.65 1.65 0 1 0 -3.3 0M753.04 184.23a1.45 1.45 0 1 0 2.9 0a1.45 1.45 0 1 0 -2.9 0M761.47 162.91a1.41 1.41 0 1 0 2.83 0a1.41 1.41 0 1 0 -2.83 0M765.26 183.08a1.67 1.67 0 1 0 3.34 0a1.67 1.67 0 1 0 -3.34 0M761.72 182.92a1.32 1.32 0 1 0 2.63 0a1.32 1.32 0 1 0 -2.63 0M776.05 178.05a1.19 1.19 0 1 0 2.37 0a1.19 1.19 0 1 0 -2.37 0M781.35 186.22a1.61 1.61 0 1 0 3.21 0a1.61 1.61 0 1 0 -3.21 0M779.15 163.79a1.41 1.41 0 1 0 2.82 0a1.41 1.41 0 1 0 -2.82 0M773.06 172.44a1.64 1.64 0 1 0 3.28 0a1.64 1.64 0 1 0 -3.28 0M783.59 167.69a1.77 1.77 0 1 0 3.54 0a1.77 1.77 0 1 0 -3.54 0M784.23 187.5a1.76 1.76 0 1 0 3.53 0a1.76 1.76 0 1 0 -3.53 0M779.05 163.86a1.17 1.17 0 1 0 2.34 0a1.17 1.17 0 1 0 -2.34 0M782.62 184.24a1.25 1.25 0 1 0 2.5 0a1.25 1.25 0 1 0 -2.5 0M800.57 171.3a1.72 1.72 0 1 0 3.44 0a1.72 1.72 0 1 0 -3.44 0M801.68 169.29a1.76 1.76 0 1 0 3.51 0a1.76 1.76 0 1 0 -3.51 0M808.64 177.26a1.19 1.19 0 1 0 2.38 0a1.19 1.19 0 1 0 -2.38 0M806.93 180.38a1.57 1.57 0 1 0 3.15 0a1.57 1.57 0 1 0 -3.15 0M818.28 178.09a1.79 1.79 0 1 0 3.58 0a1.79 1.79 0 1 0 -3.58 0M813.88 175.66a1.73 1.73 0 1 0 3.46 0a1.73 1.73 0 1 0 -3.46 0M817.15 183.67a1.24 1.24 0 1 0 2.47 0a1.24 1.24 0 1 0 -2.47 0M819.48 186.24a1.45 1.45 0 1 0 2.9 0a1.45 1.45 0 1 0 -2.9 0M827.85 178.38a1.15 1.15 0 1 0 2.3 0a1.15 1.15 0 1 0 -2.3 0M715.47 195.46a1.46 1.46 0 1 0 2.92 0a1.46 1.46 0 1 0 -2.92 0M715.45 187.17a1.55 1.55 0 1 0 3.1 0a1.55 1.55 0 1 0 -3.1 0M722.69 199.8a1.81 1.81 0 1 0 3.63 0a1.81 1.81 0 1 0 -3.63 0M736.67 193.62a1.68 1.68 0 1 0 3.35 0a1.68 1.68 0 1 0 -3.35 0M729.2 197.07a1.63 1.63 0 1 0 3.25 0a1.63 1.63 0 1 0 -3.25 0M741.49 190.9a1.79 1.79 0 1 0 3.58 0a1.79 1.79 0 1 0 -3.58 0M739.96 196.16a1.55 1.55 0 1 0 3.1 0a1.55 1.55 0 1 0 -3.1 0M757.75 187.45a1.48 1.48 0 1 0 2.96 0a1.48 1.48 0 1 0 -2.96 0M766.31 195.58a1.58 1.58 0 1 0 3.16 0a1.58 1.58 0 1 0 -3.16 0M783.78 187.7a1.25 1.25 0 1 0 2.5 0a1.25 1.25 0 1 0 -2.5 0M773.08 200.34a1.32 1.32 0 1 0 2.64 0a1.32 1.32 0 1 0 -2.64 0M773.68 194.6a1.73 1.73 0 1 0 3.45 0a1.73 1.73 0 1 0 -3.45 0M783.24 187.88a1.64 1.64 0 1 0 3.28 0a1.64 1.64 0 1 0 -3.28 0M784.41 192.03a1.77 1.77 0 1 0 3.55 0a1.77 1.77 0 1 0 -3.55 0M780.89 192.73a1.44 1.44 0 1 0 2.88 0a1.44 1.44 0 1 0 -2.88 0M797.76 198.44a1.27 1.27 0 1 0 2.53 0a1.27 1.27 0 1 0 -2.53 0M794.42 200.72a1.72 1.72 0 1 0 3.45 0a1.72 1.72 0 1 0 -3.45 0M804.5 187.32a1.26 1.26 0 1 0 2.52 0a1.26 1.26 0 1 0 -2.52 0M806.86 192.88a1.33 1.33 0 1 0 2.65 0a1.33 1.33 0 1 0 -2.65 0M801.93 192.8a1.7 1.7 0 1 0 3.41 0a1.7 1.7 0 1 0 -3.41 0M815.55 201.26a1.54 1.54 0 1 0 3.08 0a1.54 1.54 0 1 0 -3.08 0M815.61 195.55a1.7 1.7 0 1 0 3.39 0a1.7 1.7 0 1 0 -3.39 0M721.43 104.57a1.67 1.67 0 1 0 3.33 0a1.67 1.67 0 1 0 -3.33 0M721.97 100.51a1.28 1.28 0 1 0 2.56 0a1.28 1.28 0 1 0 -2.56 0M710.81 100.74a1.41 1.41 0 1 0 2.83 0a1.41 1.41 0 1 0 -2.83 0M717.58 113.6a1.42 1.42 0 1 0 2.84 0a1.42 1.42 0 1 0 -2.84 0M718.45 92.4a1.35 1.35 0 1 0 2.7 0a1.35 1.35 0 1 0 -2.7 0M714.93 116.34a1.18 1.18 0 1 0 2.36 0a1.18 1.18 0 1 0 -2.36 0M738.67 112.36a1.25 1.25 0 1 0 2.49 0a1.25 1.25 0 1 0 -2.49 0M743.26 101.45a1.7 1.7 0 1 0 3.39 0a1.7 1.7 0 1 0 -3.39 0M737.03 96.67a1.34 1.34 0 1 0 2.67 0a1.34 1.34 0 1 0 -2.67 0M763.59 98.11a1.19 1.19 0 1 0 2.38 0a1.19 1.19 0 1 0 -2.38 0M764.5 93.48a1.31 1.31 0 1 0 2.62 0a1.31 1.31 0 1 0 -2.62 0M759.68 92.59a1.36 1.36 0 1 0 2.73 0a1.36 1.36 0 1 0 -2.73 0M750.58 99.86a1.24 1.24 0 1 0 2.47 0a1.24 1.24 0 1 0 -2.47 0M777.81 97.33a1.83 1.83 0 1 0 3.67 0a1.83 1.83 0 1 0 -3.67 0M776.32 99.03a1.22 1.22 0 1 0 2.44 0a1.22 1.22 0 1 0 -2.44 0M779.32 110a1.21 1.21 0 1 0 2.42 0a1.21 1.21 0 1 0 -2.42 0M775.8 111.96a1.38 1.38 0 1 0 2.77 0a1.38 1.38 0 1 0 -2.77 0M779.42 118.02a1.76 1.76 0 1 0 3.51 0a1.76 1.76 0 1 0 -3.51 0M799.08 106.76a1.26 1.26 0 1 0 2.53 0a1.26 1.26 0 1 0 -2.53 0M802.9 113.89a1.41 1.41 0 1 0 2.82 0a1.41 1.41 0 1 0 -2.82 0M805.79 115.01a1.23 1.23 0 1 0 2.45 0a1.23 1.23 0 1 0 -2.45 0M794.8 107.93a1.74 1.74 0 1 0 3.47 0a1.74 1.74 0 1 0 -3.47 0M796.67 111.21a1.44 1.44 0 1 0 2.87 0a1.44 1.44 0 1 0 -2.87 0M824.29 112.44a1.57 1.57 0 1 0 3.14 0a1.57 1.57 0 1 0 -3.14 0M825.11 108.86a1.79 1.79 0 1 0 3.58 0a1.79 1.79 0 1 0 -3.58 0M827.6 106a1.59 1.59 0 1 0 3.19 0a1.59 1.59 0 1 0 -3.19 0M824.73 96.39a1.25 1.25 0 1 0 2.5 0a1.25 1.25 0 1 0 -2.5 0M832.05 96.94a1.71 1.71 0 1 0 3.43 0a1.71 1.71 0 1 0 -3.43 0M815.14 101.5a1.29 1.29 0 1 0 2.58 0a1.29 1.29 0 1 0 -2.58 0M822.32 117.99a1.8 1.8 0 1 0 3.59 0a1.8 1.8 0 1 0 -3.59 0M734.82 205.39a1.37 1.37 0 1 0 2.73 0a1.37 1.37 0 1 0 -2.73 0M735.51 213.42a1.6 1.6 0 1 0 3.2 0a1.6 1.6 0 1 0 -3.2 0M756.74 214.94a1.25 1.25 0 1 0 2.51 0a1.25 1.25 0 1 0 -2.51 0M743.08 203.82a1.36 1.36 0 1 0 2.73 0a1.36 1.36 0 1 0 -2.73 0M747.46 204.34a1.36 1.36 0 1 0 2.72 0a1.36 1.36 0 1 0 -2.72 0M778.35 215.08a1.5 1.5 0 1 0 3 0a1.5 1.5 0 1 0 -3 0M770.05 195.82a1.83 1.83 0 1 0 3.67 0a1.83 1.83 0 1 0 -3.67 0M772.39 200.41a1.58 1.58 0 1 0 3.16 0a1.58 1.58 0 1 0 -3.16 0M792.12 197.85a1.85 1.85 0 1 0 3.7 0a1.85 1.85 0 1 0 -3.7 0M796.99 202.35a1.2 1.2 0 1 0 2.39 0a1.2 1.2 0 1 0 -2.39 0M800.11 210.21a1.58 1.58 0 1 0 3.17 0a1.58 1.58 0 1 0 -3.17 0M784.93 205.33a1.84 1.84 0 1 0 3.68 0a1.84 1.84 0 1 0 -3.68 0M795.25 206.51a1.4 1.4 0 1 0 2.8 0a1.4 1.4 0 1 0 -2.8 0M786.25 208.49a1.74 1.74 0 1 0 3.47 0a1.74 1.74 0 1 0 -3.47 0M813.55 197.21a1.43 1.43 0 1 0 2.87 0a1.43 1.43 0 1 0 -2.87 0M815.6 199.69a1.22 1.22 0 1 0 2.43 0a1.22 1.22 0 1 0 -2.43 0M809.79 219.98a1.54 1.54 0 1 0 3.08 0a1.54 1.54 0 1 0 -3.08 0M805.68 217.1a1.36 1.36 0 1 0 2.73 0a1.36 1.36 0 1 0 -2.73 0M814.66 204.93a1.71 1.71 0 1 0 3.43 0a1.71 1.71 0 1 0 -3.43 0M817.51 209.09a1.64 1.64 0 1 0 3.29 0a1.64 1.64 0 1 0 -3.29 0M808.8 214.31a1.37 1.37 0 1 0 2.73 0a1.37 1.37 0 1 0 -2.73 0M711.99 198.71a1.38 1.38 0 1 0 2.76 0a1.38 1.38 0 1 0 -2.76 0M713.28 189.65a1.56 1.56 0 1 0 3.13 0a1.56 1.56 0 1 0 -3.13 0M720.81 190.12a1.79 1.79 0 1 0 3.57 0a1.79 1.79 0 1 0 -3.57 0M737.02 191.84a1.15 1.15 0 1 0 2.3 0a1.15 1.15 0 1 0 -2.3 0M726.93 198.33a1.22 1.22 0 1 0 2.44 0a1.22 1.22 0 1 0 -2.44 0M740.86 187.15a1.24 1.24 0 1 0 2.48 0a1.24 1.24 0 1 0 -2.48 0M740.77 193.5a1.28 1.28 0 1 0 2.56 0a1.28 1.28 0 1 0 -2.56 0M760.82 188.77a1.74 1.74 0 1 0 3.48 0a1.74 1.74 0 1 0 -3.48 0M756.26 194.17a1.74 1.74 0 1 0 3.47 0a1.74 1.74 0 1 0 -3.47 0M755.23 189.78a1.78 1.78 0 1 0 3.56 0a1.78 1.78 0 1 0 -3.56 0M752.46 192.06a1.74 1.74 0 1 0 3.47 0a1.74 1.74 0 1 0 -3.47 0M764.23 190.58a1.83 1.83 0 1 0 3.65 0a1.83 1.83 0 1 0 -3.65 0M767.08 193.73a1.82 1.82 0 1 0 3.65 0a1.82 1.82 0 1 0 -3.65 0M757.26 188.15a1.62 1.62 0 1 0 3.23 0a1.62 1.62 0 1 0 -3.23 0M773.18 193.25a1.7 1.7 0 1 0 3.41 0a1.7 1.7 0 1 0 -3.41 0M788.53 199.56a1.29 1.29 0 1 0 2.57 0a1.29 1.29 0 1 0 -2.57 0M800.94 186.33a1.45 1.45 0 1 0 2.89 0a1.45 1.45 0 1 0 -2.89 0M807.44 189.73a1.45 1.45 0 1 0 2.89 0a1.45 1.45 0 1 0 -2.89 0M802.68 190.63a1.66 1.66 0 1 0 3.33 0a1.66 1.66 0 1 0 -3.33 0M822.37 186.1a1.18 1.18 0 1 0 2.36 0a1.18 1.18 0 1 0 -2.36 0M812.89 197.77a1.48 1.48 0 1 0 2.96 0a1.48 1.48 0 1 0 -2.96 0M823.77 191.52a1.58 1.58 0 1 0 3.15 0a1.58 1.58 0 1 0 -3.15 0M828.36 198.89a1.24 1.24 0 1 0 2.49 0a1.24 1.24 0 1 0 -2.49 0M709.89 200.28a1.17 1.17 0 1 0 2.35 0a1.17 1.17 0 1 0 -2.35 0M710.15 203.8a1.74 1.74 0 1 0 3.47 0a1.74 1.74 0 1 0 -3.47 0M829.99 202.41a1.32 1.32 0 1 0 2.63 0a1.32 1.32 0 1 0 -2.63 0M828.79 213.06a1.82 1.82 0 1 0 3.65 0a1.82 1.82 0 1 0 -3.65 0M827.11 200.14a1.65 1.65 0 1 0 3.3 0a1.65 1.65 0 1 0 -3.3 0" fill="#12b3ae"/>
<path d="M713.67 125.6a1.43 1.43 0 1 0 2.86 0a1.43 1.43 0 1 0 -2.86 0M735.2 115.93a1.5 1.5 0 1 0 3 0a1.5 1.5 0 1 0 -3 0M737.59 117.89a1.58 1.58 0 1 0 3.16 0a1.58 1.58 0 1 0 -3.16 0M748.72 126.68a1.51 1.51 0 1 0 3.03 0a1.51 1.51 0 1 0 -3.03 0M748.47 125.11a1.7 1.7 0 1 0 3.4 0a1.7 1.7 0 1 0 -3.4 0M751.69 128.11a1.53 1.53 0 1 0 3.07 0a1.53 1.53 0 1 0 -3.07 0M767.33 119.65a1.69 1.69 0 1 0 3.39 0a1.69 1.69 0 1 0 -3.39 0M771.18 126.37a1.19 1.19 0 1 0 2.38 0a1.19 1.19 0 1 0 -2.38 0M788.99 119.84a1.34 1.34 0 1 0 2.68 0a1.34 1.34 0 1 0 -2.68 0M791.44 123.66a1.33 1.33 0 1 0 2.67 0a1.33 1.33 0 1 0 -2.67 0M816.72 119.01a1.74 1.74 0 1 0 3.48 0a1.74 1.74 0 1 0 -3.48 0M824.39 120.02a1.47 1.47 0 1 0 2.93 0a1.47 1.47 0 1 0 -2.93 0M710.26 146.22a1.43 1.43 0 1 0 2.87 0a1.43 1.43 0 1 0 -2.87 0M729.03 146.99a1.15 1.15 0 1 0 2.3 0a1.15 1.15 0 1 0 -2.3 0M716.38 141.87a1.6 1.6 0 1 0 3.2 0a1.6 1.6 0 1 0 -3.2 0M725.97 154.14a1.37 1.37 0 1 0 2.74 0a1.37 1.37 0 1 0 -2.74 0M732.6 147.9a1.28 1.28 0 1 0 2.56 0a1.28 1.28 0 1 0 -2.56 0M739.59 141.43a1.38 1.38 0 1 0 2.76 0a1.38 1.38 0 1 0 -2.76 0M752.56 149.6a1.29 1.29 0 1 0 2.58 0a1.29 1.29 0 1 0 -2.58 0M769.66 148.25a1.25 1.25 0 1 0 2.5 0a1.25 1.25 0 1 0 -2.5 0M767.5 150.83a1.26 1.26 0 1 0 2.53 0a1.26 1.26 0 1 0 -2.53 0M815.18 144.12a1.49 1.49 0 1 0 2.99 0a1.49 1.49 0 1 0 -2.99 0M718.05 162.28a1.53 1.53 0 1 0 3.05 0a1.53 1.53 0 1 0 -3.05 0M724.11 167.52a1.49 1.49 0 1 0 2.99 0a1.49 1.49 0 1 0 -2.99 0M727.19 171.51a1.55 1.55 0 1 0 3.11 0a1.55 1.55 0 1 0 -3.11 0M747.46 169.71a1.44 1.44 0 1 0 2.89 0a1.44 1.44 0 1 0 -2.89 0M749.46 173.52a1.56 1.56 0 1 0 3.12 0a1.56 1.56 0 1 0 -3.12 0M792.32 174.49a1.23 1.23 0 1 0 2.47 0a1.23 1.23 0 1 0 -2.47 0M786.3 170.35a1.41 1.41 0 1 0 2.82 0a1.41 1.41 0 1 0 -2.82 0M709.28 127.09a1.46 1.46 0 1 0 2.92 0a1.46 1.46 0 1 0 -2.92 0M709.15 132.59a1.71 1.71 0 1 0 3.42 0a1.71 1.71 0 1 0 -3.42 0M724.97 126.21a1.49 1.49 0 1 0 2.98 0a1.49 1.49 0 1 0 -2.98 0M722.13 129.99a1.68 1.68 0 1 0 3.37 0a1.68 1.68 0 1 0 -3.37 0M720.52 132.74a1.56 1.56 0 1 0 3.12 0a1.56 1.56 0 1 0 -3.12 0M734.72 119.16a1.47 1.47 0 1 0 2.95 0a1.47 1.47 0 1 0 -2.95 0M734.12 140.52a1.39 1.39 0 1 0 2.77 0a1.39 1.39 0 1 0 -2.77 0M760.58 117.17a1.75 1.75 0 1 0 3.51 0a1.75 1.75 0 1 0 -3.51 0M765.08 127.75a1.52 1.52 0 1 0 3.04 0a1.52 1.52 0 1 0 -3.04 0M775.45 122.72a1.71 1.71 0 1 0 3.41 0a1.71 1.71 0 1 0 -3.41 0M772.56 124.84a1.82 1.82 0 1 0 3.64 0a1.82 1.82 0 1 0 -3.64 0M792.63 131.1a1.82 1.82 0 1 0 3.65 0a1.82 1.82 0 1 0 -3.65 0M811.35 125.78a1.31 1.31 0 1 0 2.62 0a1.31 1.31 0 1 0 -2.62 0M805.88 141.12a1.49 1.49 0 1 0 2.97 0a1.49 1.49 0 1 0 -2.97 0M807.38 127.43a1.39 1.39 0 1 0 2.79 0a1.39 1.39 0 1 0 -2.79 0M816.51 124.62a1.58 1.58 0 1 0 3.17 0a1.58 1.58 0 1 0 -3.17 0M712.86 152.65a1.26 1.26 0 1 0 2.51 0a1.26 1.26 0 1 0 -2.51 0M725.71 149.32a1.22 1.22 0 1 0 2.43 0a1.22 1.22 0 1 0 -2.43 0M778.29 141.59a1.8 1.8 0 1 0 3.59 0a1.8 1.8 0 1 0 -3.59 0M771.62 150.9a1.6 1.6 0 1 0 3.2 0a1.6 1.6 0 1 0 -3.2 0M778.54 165.45a1.68 1.68 0 1 0 3.36 0a1.68 1.68 0 1 0 -3.36 0M790.83 154.81a1.23 1.23 0 1 0 2.46 0a1.23 1.23 0 1 0 -2.46 0M778.3 140.45a1.49 1.49 0 1 0 2.97 0a1.49 1.49 0 1 0 -2.97 0M811.25 149.41a1.38 1.38 0 1 0 2.77 0a1.38 1.38 0 1 0 -2.77 0M807.56 162.35a1.38 1.38 0 1 0 2.77 0a1.38 1.38 0 1 0 -2.77 0M819.31 157.28a1.76 1.76 0 1 0 3.53 0a1.76 1.76 0 1 0 -3.53 0M821.12 142.96a1.34 1.34 0 1 0 2.67 0a1.34 1.34 0 1 0 -2.67 0M820.06 163.13a1.4 1.4 0 1 0 2.8 0a1.4 1.4 0 1 0 -2.8 0M827.1 145.43a1.8 1.8 0 1 0 3.6 0a1.8 1.8 0 1 0 -3.6 0M827.93 161.5a1.78 1.78 0 1 0 3.56 0a1.78 1.78 0 1 0 -3.56 0M821.77 141.48a1.7 1.7 0 1 0 3.4 0a1.7 1.7 0 1 0 -3.4 0M713.78 173.96a1.55 1.55 0 1 0 3.1 0a1.55 1.55 0 1 0 -3.1 0M711.97 171.84a1.16 1.16 0 1 0 2.32 0a1.16 1.16 0 1 0 -2.32 0M724.26 180.99a1.74 1.74 0 1 0 3.48 0a1.74 1.74 0 1 0 -3.48 0M746.24 181.33a1.69 1.69 0 1 0 3.38 0a1.69 1.69 0 1 0 -3.38 0M739.87 182.89a1.67 1.67 0 1 0 3.34 0a1.67 1.67 0 1 0 -3.34 0M756.68 181.75a1.28 1.28 0 1 0 2.55 0a1.28 1.28 0 1 0 -2.55 0M757 189.46a1.2 1.2 0 1 0 2.4 0a1.2 1.2 0 1 0 -2.4 0M765.87 176.71a1.3 1.3 0 1 0 2.6 0a1.3 1.3 0 1 0 -2.6 0M779.77 171.38a1.19 1.19 0 1 0 2.38 0a1.19 1.19 0 1 0 -2.38 0M774.32 176.13a1.31 1.31 0 1 0 2.61 0a1.31 1.31 0 1 0 -2.61 0M778.08 182.66a1.27 1.27 0 1 0 2.55 0a1.27 1.27 0 1 0 -2.55 0M782.75 163.06a1.24 1.24 0 1 0 2.48 0a1.24 1.24 0 1 0 -2.48 0M801.24 184.58a1.78 1.78 0 1 0 3.56 0a1.78 1.78 0 1 0 -3.56 0M816.82 176.58a1.74 1.74 0 1 0 3.49 0a1.74 1.74 0 1 0 -3.49 0M820.52 181.83a1.67 1.67 0 1 0 3.35 0a1.67 1.67 0 1 0 -3.35 0M816.27 180.75a1.31 1.31 0 1 0 2.62 0a1.31 1.31 0 1 0 -2.62 0M828.16 185.1a1.54 1.54 0 1 0 3.08 0a1.54 1.54 0 1 0 -3.08 0M823.15 168.44a1.31 1.31 0 1 0 2.63 0a1.31 1.31 0 1 0 -2.63 0M825.64 182.07a1.37 1.37 0 1 0 2.75 0a1.37 1.37 0 1 0 -2.75 0M823.91 186.05a1.32 1.32 0 1 0 2.64 0a1.32 1.32 0 1 0 -2.64 0M757.8 188.74a1.73 1.73 0 1 0 3.45 0a1.73 1.73 0 1 0 -3.45 0M780.23 186.18a1.23 1.23 0 1 0 2.47 0a1.23 1.23 0 1 0 -2.47 0M800.18 189.56a1.31 1.31 0 1 0 2.62 0a1.31 1.31 0 1 0 -2.62 0M798.52 193.06a1.15 1.15 0 1 0 2.3 0a1.15 1.15 0 1 0 -2.3 0M822.06 186.58a1.37 1.37 0 1 0 2.74 0a1.37 1.37 0 1 0 -2.74 0M820.42 191.17a1.56 1.56 0 1 0 3.12 0a1.56 1.56 0 1 0 -3.12 0M719.11 116.68a1.37 1.37 0 1 0 2.73 0a1.37 1.37 0 1 0 -2.73 0M736.31 110.78a1.78 1.78 0 1 0 3.57 0a1.78 1.78 0 1 0 -3.57 0M739.64 117.31a1.57 1.57 0 1 0 3.14 0a1.57 1.57 0 1 0 -3.14 0M741.03 114.02a1.73 1.73 0 1 0 3.46 0a1.73 1.73 0 1 0 -3.46 0M746.91 105.06a1.4 1.4 0 1 0 2.8 0a1.4 1.4 0 1 0 -2.8 0M747.88 101.83a1.26 1.26 0 1 0 2.52 0a1.26 1.26 0 1 0 -2.52 0M730.92 95.56a1.56 1.56 0 1 0 3.11 0a1.56 1.56 0 1 0 -3.11 0M728.27 99.75a1.71 1.71 0 1 0 3.41 0a1.71 1.71 0 1 0 -3.41 0M775.16 94.51a1.42 1.42 0 1 0 2.85 0a1.42 1.42 0 1 0 -2.85 0M771.48 98.08a1.74 1.74 0 1 0 3.47 0a1.74 1.74 0 1 0 -3.47 0M777.43 115.06a1.62 1.62 0 1 0 3.24 0a1.62 1.62 0 1 0 -3.24 0M800.89 109.72a1.57 1.57 0 1 0 3.14 0a1.57 1.57 0 1 0 -3.14 0M810.77 104.92a1.59 1.59 0 1 0 3.18 0a1.59 1.59 0 1 0 -3.18 0M802.77 92.09a1.21 1.21 0 1 0 2.42 0a1.21 1.21 0 1 0 -2.42 0M821.69 116.26a1.73 1.73 0 1 0 3.46 0a1.73 1.73 0 1 0 -3.46 0M828.7 98.53a1.64 1.64 0 1 0 3.28 0a1.64 1.64 0 1 0 -3.28 0M821.45 96.31a1.71 1.71 0 1 0 3.42 0a1.71 1.71 0 1 0 -3.42 0M825.77 117.08a1.72 1.72 0 1 0 3.43 0a1.72 1.72 0 1 0 -3.43 0M827.41 114.36a1.73 1.73 0 1 0 3.47 0a1.73 1.73 0 1 0 -3.47 0M831.07 106.86a1.41 1.41 0 1 0 2.82 0a1.41 1.41 0 1 0 -2.82 0M815.8 107.2a1.64 1.64 0 1 0 3.28 0a1.64 1.64 0 1 0 -3.28 0M821.18 114.66a1.46 1.46 0 1 0 2.92 0a1.46 1.46 0 1 0 -2.92 0M722.31 211.49a1.36 1.36 0 1 0 2.72 0a1.36 1.36 0 1 0 -2.72 0M741.37 216.66a1.82 1.82 0 1 0 3.64 0a1.82 1.82 0 1 0 -3.64 0M770.43 203.17a1.56 1.56 0 1 0 3.11 0a1.56 1.56 0 1 0 -3.11 0M770.05 216.71a1.41 1.41 0 1 0 2.81 0a1.41 1.41 0 1 0 -2.81 0M765.29 213.27a1.79 1.79 0 1 0 3.57 0a1.79 1.79 0 1 0 -3.57 0M766.38 208.02a1.42 1.42 0 1 0 2.84 0a1.42 1.42 0 1 0 -2.84 0M794.48 200.21a1.46 1.46 0 1 0 2.92 0a1.46 1.46 0 1 0 -2.92 0M790.29 201.57a1.45 1.45 0 1 0 2.9 0a1.45 1.45 0 1 0 -2.9 0M817.98 202.42a1.58 1.58 0 1 0 3.15 0a1.58 1.58 0 1 0 -3.15 0M809.38 201.7a1.69 1.69 0 1 0 3.38 0a1.69 1.69 0 1 0 -3.38 0M813.61 202.79a1.31 1.31 0 1 0 2.61 0a1.31 1.31 0 1 0 -2.61 0M715.31 191.74a1.58 1.58 0 1 0 3.16 0a1.58 1.58 0 1 0 -3.16 0M713.23 194.75a1.8 1.8 0 1 0 3.61 0a1.8 1.8 0 1 0 -3.61 0M719.59 194.76a1.71 1.71 0 1 0 3.41 0a1.71 1.71 0 1 0 -3.41 0M725.04 200.48a1.55 1.55 0 1 0 3.1 0a1.55 1.55 0 1 0 -3.1 0M776.06 196.23a1.44 1.44 0 1 0 2.89 0a1.44 1.44 0 1 0 -2.89 0M796.8 190.5a1.75 1.75 0 1 0 3.49 0a1.75 1.75 0 1 0 -3.49 0M823.35 190.67a1.42 1.42 0 1 0 2.84 0a1.42 1.42 0 1 0 -2.84 0M819.22 196.29a1.25 1.25 0 1 0 2.51 0a1.25 1.25 0 1 0 -2.51 0M828.49 190.45a1.33 1.33 0 1 0 2.66 0a1.33 1.33 0 1 0 -2.66 0M832.03 198.1a1.57 1.57 0 1 0 3.14 0a1.57 1.57 0 1 0 -3.14 0M826.56 194.16a1.27 1.27 0 1 0 2.53 0a1.27 1.27 0 1 0 -2.53 0M714.07 205.45a1.78 1.78 0 1 0 3.57 0a1.78 1.78 0 1 0 -3.57 0M711.4 212.41a1.73 1.73 0 1 0 3.45 0a1.73 1.73 0 1 0 -3.45 0" fill="#0fa5a2"/>
<path d="M717.69 117.74a1.69 1.69 0 1 0 3.39 0a1.69 1.69 0 1 0 -3.39 0M727.04 125.86a1.81 1.81 0 1 0 3.62 0a1.81 1.81 0 1 0 -3.62 0M715.83 118.13a1.34 1.34 0 1 0 2.69 0a1.34 1.34 0 1 0 -2.69 0M730.26 128.87a1.42 1.42 0 1 0 2.85 0a1.42 1.42 0 1 0 -2.85 0M740.87 121.35a1.68 1.68 0 1 0 3.35 0a1.68 1.68 0 1 0 -3.35 0M757.73 119.42a1.33 1.33 0 1 0 2.66 0a1.33 1.33 0 1 0 -2.66 0M770.12 125.17a1.63 1.63 0 1 0 3.27 0a1.63 1.63 0 1 0 -3.27 0M774.88 118.8a1.44 1.44 0 1 0 2.88 0a1.44 1.44 0 1 0 -2.88 0M764.38 122.77a1.26 1.26 0 1 0 2.53 0a1.26 1.26 0 1 0 -2.53 0M804.39 115.26a1.77 1.77 0 1 0 3.53 0a1.77 1.77 0 1 0 -3.53 0M826.58 123.18a1.24 1.24 0 1 0 2.48 0a1.24 1.24 0 1 0 -2.48 0M726.72 148a1.83 1.83 0 1 0 3.66 0a1.83 1.83 0 1 0 -3.66 0M728.18 150.56a1.75 1.75 0 1 0 3.5 0a1.75 1.75 0 1 0 -3.5 0M721.77 146.12a1.17 1.17 0 1 0 2.33 0a1.17 1.17 0 1 0 -2.33 0M748.78 150.3a1.41 1.41 0 1 0 2.82 0a1.41 1.41 0 1 0 -2.82 0M758.69 142.93a1.22 1.22 0 1 0 2.44 0a1.22 1.22 0 1 0 -2.44 0M777.77 144.7a1.29 1.29 0 1 0 2.57 0a1.29 1.29 0 1 0 -2.57 0M785.62 140.64a1.38 1.38 0 1 0 2.75 0a1.38 1.38 0 1 0 -2.75 0M791.59 150.22a1.7 1.7 0 1 0 3.39 0a1.7 1.7 0 1 0 -3.39 0M786.89 146.1a1.34 1.34 0 1 0 2.68 0a1.34 1.34 0 1 0 -2.68 0M802.14 141.92a1.6 1.6 0 1 0 3.21 0a1.6 1.6 0 1 0 -3.21 0M824.65 140.73a1.57 1.57 0 1 0 3.14 0a1.57 1.57 0 1 0 -3.14 0M721.65 169.78a1.24 1.24 0 1 0 2.48 0a1.24 1.24 0 1 0 -2.48 0M743.42 169.83a1.74 1.74 0 1 0 3.49 0a1.74 1.74 0 1 0 -3.49 0M769.62 174.42a1.37 1.37 0 1 0 2.75 0a1.37 1.37 0 1 0 -2.75 0M770.71 170.33a1.8 1.8 0 1 0 3.6 0a1.8 1.8 0 1 0 -3.6 0M767.47 176.71a1.54 1.54 0 1 0 3.08 0a1.54 1.54 0 1 0 -3.08 0M775.69 170.05a1.41 1.41 0 1 0 2.82 0a1.41 1.41 0 1 0 -2.82 0M795.53 174.77a1.16 1.16 0 1 0 2.32 0a1.16 1.16 0 1 0 -2.32 0M814.21 176.53a1.55 1.55 0 1 0 3.1 0a1.55 1.55 0 1 0 -3.1 0M808.06 170.06a1.32 1.32 0 1 0 2.64 0a1.32 1.32 0 1 0 -2.64 0M822.16 167.71a1.19 1.19 0 1 0 2.38 0a1.19 1.19 0 1 0 -2.38 0M717.74 120.05a1.45 1.45 0 1 0 2.9 0a1.45 1.45 0 1 0 -2.9 0M715.53 135.32a1.43 1.43 0 1 0 2.85 0a1.43 1.43 0 1 0 -2.85 0M739.91 116.58a1.37 1.37 0 1 0 2.75 0a1.37 1.37 0 1 0 -2.75 0M753.05 129.38a1.8 1.8 0 1 0 3.61 0a1.8 1.8 0 1 0 -3.61 0M762.59 120.28a1.77 1.77 0 1 0 3.53 0a1.77 1.77 0 1 0 -3.53 0M767.11 134.65a1.77 1.77 0 1 0 3.54 0a1.77 1.77 0 1 0 -3.54 0M782.46 118.71a1.19 1.19 0 1 0 2.38 0a1.19 1.19 0 1 0 -2.38 0M774.53 129.08a1.32 1.32 0 1 0 2.64 0a1.32 1.32 0 1 0 -2.64 0M779.6 115.98a1.39 1.39 0 1 0 2.78 0a1.39 1.39 0 1 0 -2.78 0M772.36 133.25a1.52 1.52 0 1 0 3.05 0a1.52 1.52 0 1 0 -3.05 0M790.56 128.36a1.74 1.74 0 1 0 3.48 0a1.74 1.74 0 1 0 -3.48 0M797.35 138.81a1.23 1.23 0 1 0 2.45 0a1.23 1.23 0 1 0 -2.45 0M821.81 135.74a1.28 1.28 0 1 0 2.57 0a1.28 1.28 0 1 0 -2.57 0M714.8 149.64a1.77 1.77 0 1 0 3.54 0a1.77 1.77 0 1 0 -3.54 0M716.71 161.6a1.71 1.71 0 1 0 3.42 0a1.71 1.71 0 1 0 -3.42 0M735.03 149.83a1.31 1.31 0 1 0 2.62 0a1.31 1.31 0 1 0 -2.62 0M731.99 154.44a1.38 1.38 0 1 0 2.76 0a1.38 1.38 0 1 0 -2.76 0M735.67 141.86a1.65 1.65 0 1 0 3.3 0a1.65 1.65 0 1 0 -3.3 0M738.94 160.3a1.56 1.56 0 1 0 3.13 0a1.56 1.56 0 1 0 -3.13 0M737.29 162.69a1.65 1.65 0 1 0 3.3 0a1.65 1.65 0 1 0 -3.3 0M754.59 146.55a1.39 1.39 0 1 0 2.78 0a1.39 1.39 0 1 0 -2.78 0M767.55 148.25a1.46 1.46 0 1 0 2.91 0a1.46 1.46 0 1 0 -2.91 0M761.6 165.44a1.42 1.42 0 1 0 2.84 0a1.42 1.42 0 1 0 -2.84 0M763.75 150.77a1.25 1.25 0 1 0 2.5 0a1.25 1.25 0 1 0 -2.5 0M796.32 152.36a1.39 1.39 0 1 0 2.78 0a1.39 1.39 0 1 0 -2.78 0M800.14 139.32a1.7 1.7 0 1 0 3.41 0a1.7 1.7 0 1 0 -3.41 0M797.7 161.93a1.54 1.54 0 1 0 3.09 0a1.54 1.54 0 1 0 -3.09 0M822 147.53a1.51 1.51 0 1 0 3.01 0a1.51 1.51 0 1 0 -3.01 0M822.48 160.41a1.56 1.56 0 1 0 3.12 0a1.56 1.56 0 1 0 -3.12 0M816.28 148.13a1.74 1.74 0 1 0 3.49 0a1.74 1.74 0 1 0 -3.49 0M829.45 148.37a1.69 1.69 0 1 0 3.38 0a1.69 1.69 0 1 0 -3.38 0M721.23 168.89a1.71 1.71 0 1 0 3.41 0a1.71 1.71 0 1 0 -3.41 0M724.12 171.46a1.33 1.33 0 1 0 2.65 0a1.33 1.33 0 1 0 -2.65 0M720.43 174.38a1.65 1.65 0 1 0 3.31 0a1.65 1.65 0 1 0 -3.31 0M722.49 176.75a1.65 1.65 0 1 0 3.3 0a1.65 1.65 0 1 0 -3.3 0M736.86 184.95a1.29 1.29 0 1 0 2.59 0a1.29 1.29 0 1 0 -2.59 0M727.74 176.98a1.47 1.47 0 1 0 2.94 0a1.47 1.47 0 1 0 -2.94 0M759.78 168.02a1.76 1.76 0 1 0 3.53 0a1.76 1.76 0 1 0 -3.53 0M755.06 169.5a1.77 1.77 0 1 0 3.54 0a1.77 1.77 0 1 0 -3.54 0M765.18 169.65a1.24 1.24 0 1 0 2.48 0a1.24 1.24 0 1 0 -2.48 0M764.85 174.26a1.31 1.31 0 1 0 2.63 0a1.31 1.31 0 1 0 -2.63 0M759.4 185.8a1.53 1.53 0 1 0 3.07 0a1.53 1.53 0 1 0 -3.07 0M770.88 176.98a1.16 1.16 0 1 0 2.31 0a1.16 1.16 0 1 0 -2.31 0M789.52 173.03a1.64 1.64 0 1 0 3.29 0a1.64 1.64 0 1 0 -3.29 0M790.61 178.49a1.7 1.7 0 1 0 3.39 0a1.7 1.7 0 1 0 -3.39 0M718.54 188a1.59 1.59 0 1 0 3.19 0a1.59 1.59 0 1 0 -3.19 0M708.19 198.29a1.53 1.53 0 1 0 3.07 0a1.53 1.53 0 1 0 -3.07 0M721.22 197.46a1.3 1.3 0 1 0 2.61 0a1.3 1.3 0 1 0 -2.61 0M739.56 188.7a1.18 1.18 0 1 0 2.36 0a1.18 1.18 0 1 0 -2.36 0M736.68 185.98a1.4 1.4 0 1 0 2.8 0a1.4 1.4 0 1 0 -2.8 0M748.56 197.89a1.66 1.66 0 1 0 3.32 0a1.66 1.66 0 1 0 -3.32 0M751.56 196.46a1.17 1.17 0 1 0 2.35 0a1.17 1.17 0 1 0 -2.35 0M769.42 196.83a1.22 1.22 0 1 0 2.44 0a1.22 1.22 0 1 0 -2.44 0M787.28 194.8a1.85 1.85 0 1 0 3.69 0a1.85 1.85 0 1 0 -3.69 0M800.17 195.91a1.27 1.27 0 1 0 2.54 0a1.27 1.27 0 1 0 -2.54 0M807.51 198.18a1.26 1.26 0 1 0 2.53 0a1.26 1.26 0 1 0 -2.53 0M825.3 187.08a1.3 1.3 0 1 0 2.6 0a1.3 1.3 0 1 0 -2.6 0M714.79 115.45a1.77 1.77 0 1 0 3.55 0a1.77 1.77 0 1 0 -3.55 0M714.51 96a1.32 1.32 0 1 0 2.63 0a1.32 1.32 0 1 0 -2.63 0M712.3 98.05a1.23 1.23 0 1 0 2.46 0a1.23 1.23 0 1 0 -2.46 0M710.98 103.73a1.65 1.65 0 1 0 3.3 0a1.65 1.65 0 1 0 -3.3 0M722.68 94.73a1.3 1.3 0 1 0 2.59 0a1.3 1.3 0 1 0 -2.59 0M745.41 107.98a1.39 1.39 0 1 0 2.79 0a1.39 1.39 0 1 0 -2.79 0M730.91 108.78a1.62 1.62 0 1 0 3.24 0a1.62 1.62 0 1 0 -3.24 0M757.84 110.9a1.51 1.51 0 1 0 3.02 0a1.51 1.51 0 1 0 -3.02 0M760.27 113.77a1.34 1.34 0 1 0 2.68 0a1.34 1.34 0 1 0 -2.68 0M782.99 116.14a1.41 1.41 0 1 0 2.82 0a1.41 1.41 0 1 0 -2.82 0M789.53 100.19a1.8 1.8 0 1 0 3.6 0a1.8 1.8 0 1 0 -3.6 0M787.96 96.05a1.22 1.22 0 1 0 2.45 0a1.22 1.22 0 1 0 -2.45 0M783.81 93.05a1.82 1.82 0 1 0 3.64 0a1.82 1.82 0 1 0 -3.64 0M802.36 112.03a1.34 1.34 0 1 0 2.67 0a1.34 1.34 0 1 0 -2.67 0M819.2 97.99a1.52 1.52 0 1 0 3.04 0a1.52 1.52 0 1 0 -3.04 0M821.31 107.39a1.2 1.2 0 1 0 2.4 0a1.2 1.2 0 1 0 -2.4 0M823.52 111.33a1.24 1.24 0 1 0 2.47 0a1.24 1.24 0 1 0 -2.47 0M825.8 116.3a1.28 1.28 0 1 0 2.55 0a1.28 1.28 0 1 0 -2.55 0M722.97 218.65a1.3 1.3 0 1 0 2.61 0a1.3 1.3 0 1 0 -2.61 0M719.04 215.49a1.47 1.47 0 1 0 2.94 0a1.47 1.47 0 1 0 -2.94 0M719.61 205.77a1.84 1.84 0 1 0 3.68 0a1.84 1.84 0 1 0 -3.68 0M724.32 199.92a1.18 1.18 0 1 0 2.35 0a1.18 1.18 0 1 0 -2.35 0M733.05 211.88a1.26 1.26 0 1 0 2.52 0a1.26 1.26 0 1 0 -2.52 0M748.89 197.56a1.3 1.3 0 1 0 2.61 0a1.3 1.3 0 1 0 -2.61 0M752.03 201a1.25 1.25 0 1 0 2.49 0a1.25 1.25 0 1 0 -2.49 0M748.42 201.7a1.5 1.5 0 1 0 2.99 0a1.5 1.5 0 1 0 -2.99 0M744.31 214.01a1.83 1.83 0 1 0 3.65 0a1.83 1.83 0 1 0 -3.65 0M772.51 198.9a1.16 1.16 0 1 0 2.32 0a1.16 1.16 0 1 0 -2.32 0M774.77 218.47a1.5 1.5 0 1 0 2.99 0a1.5 1.5 0 1 0 -2.99 0M768.62 220.11a1.5 1.5 0 1 0 3 0a1.5 1.5 0 1 0 -3 0M768.13 199.9a1.47 1.47 0 1 0 2.95 0a1.47 1.47 0 1 0 -2.95 0M773.24 206.88a1.5 1.5 0 1 0 2.99 0a1.5 1.5 0 1 0 -2.99 0M775.04 213.81a1.4 1.4 0 1 0 2.81 0a1.4 1.4 0 1 0 -2.81 0M795.6 215.54a1.21 1.21 0 1 0 2.42 0a1.21 1.21 0 1 0 -2.42 0M786 211.53a1.78 1.78 0 1 0 3.55 0a1.78 1.78 0 1 0 -3.55 0M813.01 202.75a1.17 1.17 0 1 0 2.35 0a1.17 1.17 0 1 0 -2.35 0M808.3 210.55a1.3 1.3 0 1 0 2.6 0a1.3 1.3 0 1 0 -2.6 0M718.34 188.42a1.27 1.27 0 1 0 2.54 0a1.27 1.27 0 1 0 -2.54 0M730 200.72a1.16 1.16 0 1 0 2.33 0a1.16 1.16 0 1 0 -2.33 0M732.33 191.83a1.26 1.26 0 1 0 2.53 0a1.26 1.26 0 1 0 -2.53 0M742.87 189.16a1.25 1.25 0 1 0 2.49 0a1.25 1.25 0 1 0 -2.49 0M748.66 198.52a1.85 1.85 0 1 0 3.7 0a1.85 1.85 0 1 0 -3.7 0M758.41 191.86a1.23 1.23 0 1 0 2.45 0a1.23 1.23 0 1 0 -2.45 0M804.45 193.58a1.84 1.84 0 1 0 3.69 0a1.84 1.84 0 1 0 -3.69 0M806.71 196.33a1.81 1.81 0 1 0 3.62 0a1.81 1.81 0 1 0 -3.62 0M817.91 191.83a1.49 1.49 0 1 0 2.99 0a1.49 1.49 0 1 0 -2.99 0M827.84 197.2a1.57 1.57 0 1 0 3.14 0a1.57 1.57 0 1 0 -3.14 0" fill="#0d9694"/>
<path d="M726.58 123.07a1.39 1.39 0 1 0 2.78 0a1.39 1.39 0 1 0 -2.78 0M766.09 124.71a1.21 1.21 0 1 0 2.43 0a1.21 1.21 0 1 0 -2.43 0M800.47 119.34a1.43 1.43 0 1 0 2.85 0a1.43 1.43 0 1 0 -2.85 0M826.25 116.3a1.35 1.35 0 1 0 2.71 0a1.35 1.35 0 1 0 -2.71 0M830.33 124.23a1.46 1.46 0 1 0 2.91 0a1.46 1.46 0 1 0 -2.91 0M714.75 146.36a1.41 1.41 0 1 0 2.83 0a1.41 1.41 0 1 0 -2.83 0M731.31 142.46a1.24 1.24 0 1 0 2.48 0a1.24 1.24 0 1 0 -2.48 0M724.62 151.6a1.29 1.29 0 1 0 2.58 0a1.29 1.29 0 1 0 -2.58 0M739.84 139.16a1.74 1.74 0 1 0 3.47 0a1.74 1.74 0 1 0 -3.47 0M747.78 146.77a1.42 1.42 0 1 0 2.83 0a1.42 1.42 0 1 0 -2.83 0M749.98 146.25a1.78 1.78 0 1 0 3.56 0a1.78 1.78 0 1 0 -3.56 0M751.34 152.42a1.7 1.7 0 1 0 3.39 0a1.7 1.7 0 1 0 -3.39 0M769.71 149.29a1.44 1.44 0 1 0 2.87 0a1.44 1.44 0 1 0 -2.87 0M776.72 140.53a1.82 1.82 0 1 0 3.63 0a1.82 1.82 0 1 0 -3.63 0M762.32 144.08a1.43 1.43 0 1 0 2.87 0a1.43 1.43 0 1 0 -2.87 0M793.42 153.51a1.41 1.41 0 1 0 2.83 0a1.41 1.41 0 1 0 -2.83 0M804.77 138.58a1.61 1.61 0 1 0 3.23 0a1.61 1.61 0 1 0 -3.23 0M817.62 147.77a1.79 1.79 0 1 0 3.58 0a1.79 1.79 0 1 0 -3.58 0M828.15 143.86a1.55 1.55 0 1 0 3.1 0a1.55 1.55 0 1 0 -3.1 0M715.8 168.9a1.48 1.48 0 1 0 2.97 0a1.48 1.48 0 1 0 -2.97 0M733.72 163.73a1.6 1.6 0 1 0 3.2 0a1.6 1.6 0 1 0 -3.2 0M715.61 165.27a1.6 1.6 0 1 0 3.2 0a1.6 1.6 0 1 0 -3.2 0M718.44 167.61a1.54 1.54 0 1 0 3.08 0a1.54 1.54 0 1 0 -3.08 0M756.42 168.35a1.23 1.23 0 1 0 2.45 0a1.23 1.23 0 1 0 -2.45 0M773.45 166.29a1.25 1.25 0 1 0 2.5 0a1.25 1.25 0 1 0 -2.5 0M774.31 173.28a1.15 1.15 0 1 0 2.31 0a1.15 1.15 0 1 0 -2.31 0M790.86 170.25a1.5 1.5 0 1 0 3.01 0a1.5 1.5 0 1 0 -3.01 0M787.47 171.84a1.45 1.45 0 1 0 2.89 0a1.45 1.45 0 1 0 -2.89 0M811.94 169.66a1.42 1.42 0 1 0 2.84 0a1.42 1.42 0 1 0 -2.84 0M713.71 131.47a1.21 1.21 0 1 0 2.43 0a1.21 1.21 0 1 0 -2.43 0M716.65 138.9a1.27 1.27 0 1 0 2.54 0a1.27 1.27 0 1 0 -2.54 0M712.2 123.53a1.22 1.22 0 1 0 2.45 0a1.22 1.22 0 1 0 -2.45 0M722.43 136.58a1.35 1.35 0 1 0 2.7 0a1.35 1.35 0 1 0 -2.7 0M743.85 128.95a1.51 1.51 0 1 0 3.02 0a1.51 1.51 0 1 0 -3.02 0M744.46 129.73a1.67 1.67 0 1 0 3.34 0a1.67 1.67 0 1 0 -3.34 0M760.58 139.53a1.44 1.44 0 1 0 2.89 0a1.44 1.44 0 1 0 -2.89 0M757.24 117.3a1.66 1.66 0 1 0 3.31 0a1.66 1.66 0 1 0 -3.31 0M750.11 132.83a1.32 1.32 0 1 0 2.64 0a1.32 1.32 0 1 0 -2.64 0M787.37 130.27a1.69 1.69 0 1 0 3.39 0a1.69 1.69 0 1 0 -3.39 0M800.35 118.2a1.45 1.45 0 1 0 2.9 0a1.45 1.45 0 1 0 -2.9 0M805.65 133.93a1.44 1.44 0 1 0 2.89 0a1.44 1.44 0 1 0 -2.89 0M815.4 133.04a1.67 1.67 0 1 0 3.33 0a1.67 1.67 0 1 0 -3.33 0M822.85 121.31a1.37 1.37 0 1 0 2.74 0a1.37 1.37 0 1 0 -2.74 0M828.58 128.68a1.19 1.19 0 1 0 2.39 0a1.19 1.19 0 1 0 -2.39 0M825.87 134.19a1.4 1.4 0 1 0 2.81 0a1.4 1.4 0 1 0 -2.81 0M712.64 154.81a1.55 1.55 0 1 0 3.1 0a1.55 1.55 0 1 0 -3.1 0M714.86 165.11a1.17 1.17 0 1 0 2.34 0a1.17 1.17 0 1 0 -2.34 0M727.1 153.39a1.4 1.4 0 1 0 2.81 0a1.4 1.4 0 1 0 -2.81 0M724.58 157.5a1.57 1.57 0 1 0 3.14 0a1.57 1.57 0 1 0 -3.14 0M721.67 154.5a1.52 1.52 0 1 0 3.04 0a1.52 1.52 0 1 0 -3.04 0M732.05 152.95a1.31 1.31 0 1 0 2.61 0a1.31 1.31 0 1 0 -2.61 0M728.96 150.82a1.24 1.24 0 1 0 2.49 0a1.24 1.24 0 1 0 -2.49 0M753.17 152.23a1.52 1.52 0 1 0 3.04 0a1.52 1.52 0 1 0 -3.04 0M777.65 149.62a1.38 1.38 0 1 0 2.75 0a1.38 1.38 0 1 0 -2.75 0M778.53 159.37a1.62 1.62 0 1 0 3.24 0a1.62 1.62 0 1 0 -3.24 0M779.09 138.66a1.61 1.61 0 1 0 3.22 0a1.61 1.61 0 1 0 -3.22 0M789.75 149.63a1.23 1.23 0 1 0 2.45 0a1.23 1.23 0 1 0 -2.45 0M781.04 163.02a1.26 1.26 0 1 0 2.52 0a1.26 1.26 0 1 0 -2.52 0M825.35 140.83a1.47 1.47 0 1 0 2.94 0a1.47 1.47 0 1 0 -2.94 0M819.5 145.6a1.26 1.26 0 1 0 2.52 0a1.26 1.26 0 1 0 -2.52 0M814.29 150.69a1.52 1.52 0 1 0 3.04 0a1.52 1.52 0 1 0 -3.04 0M832.07 153.35a1.5 1.5 0 1 0 3 0a1.5 1.5 0 1 0 -3 0M716.17 184.42a1.82 1.82 0 1 0 3.65 0a1.82 1.82 0 1 0 -3.65 0M713.04 186.85a1.84 1.84 0 1 0 3.69 0a1.84 1.84 0 1 0 -3.69 0M743.04 169.85a1.68 1.68 0 1 0 3.37 0a1.68 1.68 0 1 0 -3.37 0M744.39 176.72a1.32 1.32 0 1 0 2.65 0a1.32 1.32 0 1 0 -2.65 0M769.07 176.98a1.48 1.48 0 1 0 2.96 0a1.48 1.48 0 1 0 -2.96 0M765.24 178.45a1.34 1.34 0 1 0 2.68 0a1.34 1.34 0 1 0 -2.68 0M772.77 181.93a1.48 1.48 0 1 0 2.95 0a1.48 1.48 0 1 0 -2.95 0M786.54 178.45a1.49 1.49 0 1 0 2.97 0a1.49 1.49 0 1 0 -2.97 0M796.24 176a1.52 1.52 0 1 0 3.03 0a1.52 1.52 0 1 0 -3.03 0M803.93 183.32a1.34 1.34 0 1 0 2.67 0a1.34 1.34 0 1 0 -2.67 0M822.27 171.48a1.72 1.72 0 1 0 3.44 0a1.72 1.72 0 1 0 -3.44 0M827.55 176.22a1.65 1.65 0 1 0 3.29 0a1.65 1.65 0 1 0 -3.29 0M710.24 196a1.43 1.43 0 1 0 2.86 0a1.43 1.43 0 1 0 -2.86 0M720.05 191.06a1.46 1.46 0 1 0 2.92 0a1.46 1.46 0 1 0 -2.92 0M737 191.69a1.63 1.63 0 1 0 3.26 0a1.63 1.63 0 1 0 -3.26 0M765.99 199.26a1.83 1.83 0 1 0 3.66 0a1.83 1.83 0 1 0 -3.66 0M789.5 196.98a1.54 1.54 0 1 0 3.07 0a1.54 1.54 0 1 0 -3.07 0M801.9 192.5a1.45 1.45 0 1 0 2.89 0a1.45 1.45 0 1 0 -2.89 0M804.83 195.63a1.66 1.66 0 1 0 3.31 0a1.66 1.66 0 1 0 -3.31 0M812.81 197.72a1.53 1.53 0 1 0 3.06 0a1.53 1.53 0 1 0 -3.06 0M717.61 96.18a1.18 1.18 0 1 0 2.35 0a1.18 1.18 0 1 0 -2.35 0M725.63 103.38a1.39 1.39 0 1 0 2.79 0a1.39 1.39 0 1 0 -2.79 0M709.3 95.28a1.44 1.44 0 1 0 2.88 0a1.44 1.44 0 1 0 -2.88 0M742.71 98.8a1.24 1.24 0 1 0 2.48 0a1.24 1.24 0 1 0 -2.48 0M732.8 101.79a1.24 1.24 0 1 0 2.48 0a1.24 1.24 0 1 0 -2.48 0M736.24 92.75a1.78 1.78 0 1 0 3.56 0a1.78 1.78 0 1 0 -3.56 0M762.5 107.49a1.3 1.3 0 1 0 2.6 0a1.3 1.3 0 1 0 -2.6 0M752.28 108.79a1.68 1.68 0 1 0 3.36 0a1.68 1.68 0 1 0 -3.36 0M757.26 115.46a1.45 1.45 0 1 0 2.9 0a1.45 1.45 0 1 0 -2.9 0M780.78 95.65a1.44 1.44 0 1 0 2.88 0a1.44 1.44 0 1 0 -2.88 0M804.19 96.41a1.32 1.32 0 1 0 2.64 0a1.32 1.32 0 1 0 -2.64 0M800.8 117.01a1.76 1.76 0 1 0 3.52 0a1.76 1.76 0 1 0 -3.52 0M829.59 110.27a1.55 1.55 0 1 0 3.09 0a1.55 1.55 0 1 0 -3.09 0M730.53 199.93a1.42 1.42 0 1 0 2.84 0a1.42 1.42 0 1 0 -2.84 0M732.88 217.47a1.72 1.72 0 1 0 3.45 0a1.72 1.72 0 1 0 -3.45 0M724.21 199.13a1.32 1.32 0 1 0 2.63 0a1.32 1.32 0 1 0 -2.63 0M732.79 209.71a1.59 1.59 0 1 0 3.18 0a1.59 1.59 0 1 0 -3.18 0M753.6 218.79a1.47 1.47 0 1 0 2.94 0a1.47 1.47 0 1 0 -2.94 0M745.23 201.78a1.59 1.59 0 1 0 3.17 0a1.59 1.59 0 1 0 -3.17 0M754.8 210.78a1.21 1.21 0 1 0 2.42 0a1.21 1.21 0 1 0 -2.42 0M765.06 202.54a1.68 1.68 0 1 0 3.36 0a1.68 1.68 0 1 0 -3.36 0M773 216.11a1.46 1.46 0 1 0 2.92 0a1.46 1.46 0 1 0 -2.92 0M800.39 213.53a1.66 1.66 0 1 0 3.32 0a1.66 1.66 0 1 0 -3.32 0M788.57 220.15a1.26 1.26 0 1 0 2.52 0a1.26 1.26 0 1 0 -2.52 0M791.92 203.97a1.74 1.74 0 1 0 3.49 0a1.74 1.74 0 1 0 -3.49 0M796.06 212.77a1.63 1.63 0 1 0 3.25 0a1.63 1.63 0 1 0 -3.25 0M787.82 214.06a1.17 1.17 0 1 0 2.34 0a1.17 1.17 0 1 0 -2.34 0M814.61 220.17a1.77 1.77 0 1 0 3.54 0a1.77 1.77 0 1 0 -3.54 0M810.62 198.88a1.83 1.83 0 1 0 3.66 0a1.83 1.83 0 1 0 -3.66 0M715.56 189.07a1.52 1.52 0 1 0 3.05 0a1.52 1.52 0 1 0 -3.05 0M757.13 186.53a1.48 1.48 0 1 0 2.96 0a1.48 1.48 0 1 0 -2.96 0M761.94 187.45a1.23 1.23 0 1 0 2.47 0a1.23 1.23 0 1 0 -2.47 0M760.4 191.92a1.69 1.69 0 1 0 3.37 0a1.69 1.69 0 1 0 -3.37 0M795.22 199.21a1.81 1.81 0 1 0 3.61 0a1.81 1.81 0 1 0 -3.61 0M820.96 193.16a1.26 1.26 0 1 0 2.51 0a1.26 1.26 0 1 0 -2.51 0M815.93 194.63a1.31 1.31 0 1 0 2.61 0a1.31 1.31 0 1 0 -2.61 0M711.7 196.65a1.81 1.81 0 1 0 3.61 0a1.81 1.81 0 1 0 -3.61 0M715.31 208.93a1.27 1.27 0 1 0 2.53 0a1.27 1.27 0 1 0 -2.53 0" fill="#16bdb7"/>
<path d="M727.32 125.14a1.46 1.46 0 1 0 2.92 0a1.46 1.46 0 1 0 -2.92 0M723.18 125.23a1.82 1.82 0 1 0 3.63 0a1.82 1.82 0 1 0 -3.63 0M737.79 117.42a1.39 1.39 0 1 0 2.78 0a1.39 1.39 0 1 0 -2.78 0M758.84 118.1a1.26 1.26 0 1 0 2.52 0a1.26 1.26 0 1 0 -2.52 0M778.74 119.37a1.72 1.72 0 1 0 3.45 0a1.72 1.72 0 1 0 -3.45 0M781.74 117.1a1.55 1.55 0 1 0 3.1 0a1.55 1.55 0 1 0 -3.1 0M814.4 121.77a1.52 1.52 0 1 0 3.05 0a1.52 1.52 0 1 0 -3.05 0M823.22 114.05a1.49 1.49 0 1 0 2.97 0a1.49 1.49 0 1 0 -2.97 0M802.01 117.59a1.38 1.38 0 1 0 2.76 0a1.38 1.38 0 1 0 -2.76 0M726.72 149.35a1.66 1.66 0 1 0 3.31 0a1.66 1.66 0 1 0 -3.31 0M764.34 140.48a1.33 1.33 0 1 0 2.66 0a1.33 1.33 0 1 0 -2.66 0M779.33 141.27a1.63 1.63 0 1 0 3.26 0a1.63 1.63 0 1 0 -3.26 0M808.05 146a1.7 1.7 0 1 0 3.4 0a1.7 1.7 0 1 0 -3.4 0M809.28 148.98a1.21 1.21 0 1 0 2.41 0a1.21 1.21 0 1 0 -2.41 0M816.53 150.44a1.74 1.74 0 1 0 3.48 0a1.74 1.74 0 1 0 -3.48 0M827.33 148.77a1.52 1.52 0 1 0 3.05 0a1.52 1.52 0 1 0 -3.05 0M727.44 173.87a1.21 1.21 0 1 0 2.41 0a1.21 1.21 0 1 0 -2.41 0M737.21 160.9a1.42 1.42 0 1 0 2.83 0a1.42 1.42 0 1 0 -2.83 0M754.98 164.24a1.28 1.28 0 1 0 2.56 0a1.28 1.28 0 1 0 -2.56 0M760.6 167.09a1.78 1.78 0 1 0 3.55 0a1.78 1.78 0 1 0 -3.55 0M718.12 116.67a1.48 1.48 0 1 0 2.97 0a1.48 1.48 0 1 0 -2.97 0M736.47 116.58a1.16 1.16 0 1 0 2.33 0a1.16 1.16 0 1 0 -2.33 0M742.36 132.83a1.29 1.29 0 1 0 2.58 0a1.29 1.29 0 1 0 -2.58 0M756.5 133.76a1.34 1.34 0 1 0 2.68 0a1.34 1.34 0 1 0 -2.68 0M755.75 121.13a1.15 1.15 0 1 0 2.31 0a1.15 1.15 0 1 0 -2.31 0M768.94 131.08a1.27 1.27 0 1 0 2.55 0a1.27 1.27 0 1 0 -2.55 0M770.98 128.42a1.62 1.62 0 1 0 3.25 0a1.62 1.62 0 1 0 -3.25 0M779.52 118.02a1.26 1.26 0 1 0 2.52 0a1.26 1.26 0 1 0 -2.52 0M803.93 117.31a1.63 1.63 0 1 0 3.26 0a1.63 1.63 0 1 0 -3.26 0M806.93 123a1.73 1.73 0 1 0 3.46 0a1.73 1.73 0 1 0 -3.46 0M808.75 129.09a1.52 1.52 0 1 0 3.05 0a1.52 1.52 0 1 0 -3.05 0M822.25 123.96a1.29 1.29 0 1 0 2.58 0a1.29 1.29 0 1 0 -2.58 0M832.11 128.24a1.33 1.33 0 1 0 2.65 0a1.33 1.33 0 1 0 -2.65 0M714.84 140.61a1.63 1.63 0 1 0 3.27 0a1.63 1.63 0 1 0 -3.27 0M723.14 160.56a1.17 1.17 0 1 0 2.34 0a1.17 1.17 0 1 0 -2.34 0M740.14 148.56a1.84 1.84 0 1 0 3.68 0a1.84 1.84 0 1 0 -3.68 0M757.18 158.56a1.44 1.44 0 1 0 2.87 0a1.44 1.44 0 1 0 -2.87 0M749.9 152.01a1.21 1.21 0 1 0 2.43 0a1.21 1.21 0 1 0 -2.43 0M752.84 159.65a1.79 1.79 0 1 0 3.59 0a1.79 1.79 0 1 0 -3.59 0M756.83 165.05a1.28 1.28 0 1 0 2.57 0a1.28 1.28 0 1 0 -2.57 0M780.64 145.48a1.61 1.61 0 1 0 3.23 0a1.61 1.61 0 1 0 -3.23 0M777.62 156.85a1.16 1.16 0 1 0 2.32 0a1.16 1.16 0 1 0 -2.32 0M775.37 147.26a1.3 1.3 0 1 0 2.6 0a1.3 1.3 0 1 0 -2.6 0M787.58 158.9a1.22 1.22 0 1 0 2.44 0a1.22 1.22 0 1 0 -2.44 0M803.52 142.16a1.23 1.23 0 1 0 2.47 0a1.23 1.23 0 1 0 -2.47 0M796.56 146.94a1.24 1.24 0 1 0 2.49 0a1.24 1.24 0 1 0 -2.49 0M792.39 154.87a1.51 1.51 0 1 0 3.02 0a1.51 1.51 0 1 0 -3.02 0M809.99 158.73a1.23 1.23 0 1 0 2.47 0a1.23 1.23 0 1 0 -2.47 0M805.89 157.66a1.4 1.4 0 1 0 2.81 0a1.4 1.4 0 1 0 -2.81 0M804 159.67a1.19 1.19 0 1 0 2.38 0a1.19 1.19 0 1 0 -2.38 0M824.65 148.54a1.24 1.24 0 1 0 2.48 0a1.24 1.24 0 1 0 -2.48 0M712.06 175.96a1.55 1.55 0 1 0 3.11 0a1.55 1.55 0 1 0 -3.11 0M717.53 187.18a1.45 1.45 0 1 0 2.9 0a1.45 1.45 0 1 0 -2.9 0M717.52 171.61a1.55 1.55 0 1 0 3.1 0a1.55 1.55 0 1 0 -3.1 0M758.03 163.86a1.25 1.25 0 1 0 2.49 0a1.25 1.25 0 1 0 -2.49 0M777.66 187.83a1.82 1.82 0 1 0 3.65 0a1.82 1.82 0 1 0 -3.65 0M788.68 181.81a1.6 1.6 0 1 0 3.2 0a1.6 1.6 0 1 0 -3.2 0M786.47 184.71a1.75 1.75 0 1 0 3.49 0a1.75 1.75 0 1 0 -3.49 0M798.24 168.22a1.37 1.37 0 1 0 2.74 0a1.37 1.37 0 1 0 -2.74 0M794.1 180.47a1.2 1.2 0 1 0 2.4 0a1.2 1.2 0 1 0 -2.4 0M797.97 186.23a1.52 1.52 0 1 0 3.05 0a1.52 1.52 0 1 0 -3.05 0M807.56 171.04a1.75 1.75 0 1 0 3.49 0a1.75 1.75 0 1 0 -3.49 0M810.12 172.59a1.22 1.22 0 1 0 2.43 0a1.22 1.22 0 1 0 -2.43 0M800.43 164.48a1.65 1.65 0 1 0 3.3 0a1.65 1.65 0 1 0 -3.3 0M825.8 164.48a1.16 1.16 0 1 0 2.32 0a1.16 1.16 0 1 0 -2.32 0M824.81 168.12a1.32 1.32 0 1 0 2.64 0a1.32 1.32 0 1 0 -2.64 0M818.95 174.63a1.32 1.32 0 1 0 2.64 0a1.32 1.32 0 1 0 -2.64 0M819.12 169.01a1.37 1.37 0 1 0 2.73 0a1.37 1.37 0 1 0 -2.73 0M816.98 171.49a1.74 1.74 0 1 0 3.47 0a1.74 1.74 0 1 0 -3.47 0M821.3 188.61a1.22 1.22 0 1 0 2.44 0a1.22 1.22 0 1 0 -2.44 0M826.02 164.07a1.26 1.26 0 1 0 2.52 0a1.26 1.26 0 1 0 -2.52 0M826.02 167.52a1.38 1.38 0 1 0 2.76 0a1.38 1.38 0 1 0 -2.76 0M713.91 191.03a1.65 1.65 0 1 0 3.3 0a1.65 1.65 0 1 0 -3.3 0M712.7 193.74a1.61 1.61 0 1 0 3.23 0a1.61 1.61 0 1 0 -3.23 0M721.95 194.39a1.8 1.8 0 1 0 3.6 0a1.8 1.8 0 1 0 -3.6 0M716.42 191.48a1.26 1.26 0 1 0 2.52 0a1.26 1.26 0 1 0 -2.52 0M736 188.78a1.17 1.17 0 1 0 2.33 0a1.17 1.17 0 1 0 -2.33 0M739.56 187.61a1.17 1.17 0 1 0 2.33 0a1.17 1.17 0 1 0 -2.33 0M752.45 200.49a1.55 1.55 0 1 0 3.1 0a1.55 1.55 0 1 0 -3.1 0M779.19 195.01a1.81 1.81 0 1 0 3.63 0a1.81 1.81 0 1 0 -3.63 0M777.95 188.57a1.62 1.62 0 1 0 3.25 0a1.62 1.62 0 1 0 -3.25 0M789.55 200.82a1.31 1.31 0 1 0 2.61 0a1.31 1.31 0 1 0 -2.61 0M792.54 197.77a1.32 1.32 0 1 0 2.65 0a1.32 1.32 0 1 0 -2.65 0M831.24 198.02a1.52 1.52 0 1 0 3.03 0a1.52 1.52 0 1 0 -3.03 0M821.75 188.7a1.65 1.65 0 1 0 3.31 0a1.65 1.65 0 1 0 -3.31 0M825.54 196.66a1.37 1.37 0 1 0 2.74 0a1.37 1.37 0 1 0 -2.74 0M713.05 92.5a1.84 1.84 0 1 0 3.68 0a1.84 1.84 0 1 0 -3.68 0M753.77 100.75a1.41 1.41 0 1 0 2.82 0a1.41 1.41 0 1 0 -2.82 0M765.85 110.45a1.23 1.23 0 1 0 2.47 0a1.23 1.23 0 1 0 -2.47 0M779.24 92.61a1.67 1.67 0 1 0 3.34 0a1.67 1.67 0 1 0 -3.34 0M805.12 108.46a1.46 1.46 0 1 0 2.92 0a1.46 1.46 0 1 0 -2.92 0M797.05 99.91a1.56 1.56 0 1 0 3.12 0a1.56 1.56 0 1 0 -3.12 0M829.25 102.43a1.52 1.52 0 1 0 3.05 0a1.52 1.52 0 1 0 -3.05 0M724.61 206.21a1.4 1.4 0 1 0 2.8 0a1.4 1.4 0 1 0 -2.8 0M729.4 200.25a1.45 1.45 0 1 0 2.91 0a1.45 1.45 0 1 0 -2.91 0M748.78 220.8a1.61 1.61 0 1 0 3.22 0a1.61 1.61 0 1 0 -3.22 0M745.68 206.71a1.18 1.18 0 1 0 2.36 0a1.18 1.18 0 1 0 -2.36 0M768.19 205.77a1.39 1.39 0 1 0 2.79 0a1.39 1.39 0 1 0 -2.79 0M792.45 196.35a1.55 1.55 0 1 0 3.09 0a1.55 1.55 0 1 0 -3.09 0M820.32 205.75a1.22 1.22 0 1 0 2.44 0a1.22 1.22 0 1 0 -2.44 0M815.93 215.11a1.85 1.85 0 1 0 3.69 0a1.85 1.85 0 1 0 -3.69 0M715.36 186.67a1.39 1.39 0 1 0 2.77 0a1.39 1.39 0 1 0 -2.77 0M721.66 196.62a1.84 1.84 0 1 0 3.67 0a1.84 1.84 0 1 0 -3.67 0M734.45 193.74a1.56 1.56 0 1 0 3.13 0a1.56 1.56 0 1 0 -3.13 0M738.8 191.21a1.59 1.59 0 1 0 3.18 0a1.59 1.59 0 1 0 -3.18 0M808.61 193.04a1.79 1.79 0 1 0 3.57 0a1.79 1.79 0 1 0 -3.57 0M826.03 202.84a1.76 1.76 0 1 0 3.51 0a1.76 1.76 0 1 0 -3.51 0" fill="#14b8b2"/>
<path d="M712.71 125L718.6 115.5M717.4 115.5L722.44 119.48Q724.79 121.34 726.04 124.07L727.47 127.17Q728.73 129.9 729.98 127.17L731.41 124.07Q732.66 121.34 735.01 119.48L740.05 115.5M738.85 115.5L743.89 119.48Q746.24 121.34 747.49 124.07L748.92 127.17Q750.17 129.9 751.43 127.17L752.86 124.07Q754.11 121.34 756.46 119.48L761.5 115.5M760.3 115.5L765.34 119.48Q767.69 121.34 768.94 124.07L770.37 127.17Q771.62 129.9 772.88 127.17L774.31 124.07Q775.56 121.34 777.91 119.48L782.95 115.5M781.75 115.5L786.79 119.48Q789.14 121.34 790.39 124.07L791.82 127.17Q793.08 129.9 794.33 127.17L795.76 124.07Q797.01 121.34 799.36 119.48L804.4 115.5M803.2 115.5L808.24 119.48Q810.59 121.34 811.84 124.07L813.27 127.17Q814.52 129.9 815.78 127.17L817.21 124.07Q818.46 121.34 820.81 119.48L825.85 115.5M824.65 115.5L830.54 125M712.71 148.6L718.6 139.1M717.4 139.1L722.44 143.08Q724.79 144.94 726.04 147.67L727.47 150.77Q728.73 153.5 729.98 150.77L731.41 147.67Q732.66 144.94 735.01 143.08L740.05 139.1M738.85 139.1L743.89 143.08Q746.24 144.94 747.49 147.67L748.92 150.77Q750.17 153.5 751.43 150.77L752.86 147.67Q754.11 144.94 756.46 143.08L761.5 139.1M760.3 139.1L765.34 143.08Q767.69 144.94 768.94 147.67L770.37 150.77Q771.62 153.5 772.88 150.77L774.31 147.67Q775.56 144.94 777.91 143.08L782.95 139.1M781.75 139.1L786.79 143.08Q789.14 144.94 790.39 147.67L791.82 150.77Q793.08 153.5 794.33 150.77L795.76 147.67Q797.01 144.94 799.36 143.08L804.4 139.1M803.2 139.1L808.24 143.08Q810.59 144.94 811.84 147.67L813.27 150.77Q814.52 153.5 815.78 150.77L817.21 147.67Q818.46 144.94 820.81 143.08L825.85 139.1M824.65 139.1L830.54 148.6M712.71 172.2L718.6 162.7M717.4 162.7L722.44 166.68Q724.79 168.54 726.04 171.27L727.47 174.37Q728.73 177.1 729.98 174.37L731.41 171.27Q732.66 168.54 735.01 166.68L740.05 162.7M738.85 162.7L743.89 166.68Q746.24 168.54 747.49 171.27L748.92 174.37Q750.17 177.1 751.43 174.37L752.86 171.27Q754.11 168.54 756.46 166.68L761.5 162.7M760.3 162.7L765.34 166.68Q767.69 168.54 768.94 171.27L770.37 174.37Q771.62 177.1 772.88 174.37L774.31 171.27Q775.56 168.54 777.91 166.68L782.95 162.7M781.75 162.7L786.79 166.68Q789.14 168.54 790.39 171.27L791.82 174.37Q793.08 177.1 794.33 174.37L795.76 171.27Q797.01 168.54 799.36 166.68L804.4 162.7M803.2 162.7L808.24 166.68Q810.59 168.54 811.84 171.27L813.27 174.37Q814.52 177.1 815.78 174.37L817.21 171.27Q818.46 168.54 820.81 166.68L825.85 162.7M824.65 162.7L830.54 172.2M718.7 186.2L710.57 199.5M717.3 186.2L727.83 199.5M740.15 186.2L729.62 199.5M738.75 186.2L749.27 199.5M761.6 186.2L751.07 199.5M760.2 186.2L770.73 199.5M783.05 186.2L772.52 199.5M781.65 186.2L792.18 199.5M804.5 186.2L793.98 199.5M803.1 186.2L813.62 199.5M825.95 186.2L815.42 199.5M824.55 186.2L832.68 199.5M718.8 115.3L717.65 119.64Q716.73 123.12 714.12 125.6L713.48 126.22Q710.88 128.7 712.53 131.9L717.2 140.9M717.2 115.3L719.21 120.03Q720.62 123.34 723.46 125.55L724.68 126.49Q727.52 128.7 725.43 131.63L718.8 140.9M740.25 115.3L738.24 120.03Q736.83 123.34 733.99 125.55L732.77 126.49Q729.93 128.7 732.02 131.63L738.65 140.9M738.65 115.3L740.66 120.03Q742.07 123.34 744.91 125.55L746.13 126.49Q748.97 128.7 746.88 131.63L740.25 140.9M761.7 115.3L759.69 120.03Q758.28 123.34 755.44 125.55L754.22 126.49Q751.38 128.7 753.47 131.63L760.1 140.9M760.1 115.3L762.11 120.03Q763.52 123.34 766.36 125.55L767.58 126.49Q770.42 128.7 768.33 131.63L761.7 140.9M783.15 115.3L781.14 120.03Q779.73 123.34 776.89 125.55L775.67 126.49Q772.83 128.7 774.92 131.63L781.55 140.9M781.55 115.3L783.56 120.03Q784.97 123.34 787.81 125.55L789.03 126.49Q791.88 128.7 789.78 131.63L783.15 140.9M804.6 115.3L802.59 120.03Q801.18 123.34 798.34 125.55L797.12 126.49Q794.28 128.7 796.37 131.63L803 140.9M803 115.3L805.01 120.03Q806.42 123.34 809.26 125.55L810.48 126.49Q813.32 128.7 811.23 131.63L804.6 140.9M826.05 115.3L824.04 120.03Q822.63 123.34 819.79 125.55L818.57 126.49Q815.73 128.7 817.82 131.63L824.45 140.9M824.45 115.3L825.6 119.64Q826.52 123.12 829.13 125.6L829.77 126.22Q832.38 128.7 830.72 131.9L826.05 140.9M718.8 138.9L717.65 143.24Q716.73 146.72 714.12 149.2L713.48 149.82Q710.88 152.3 712.53 155.5L717.2 164.5M717.2 138.9L719.21 143.63Q720.62 146.94 723.46 149.15L724.68 150.09Q727.52 152.3 725.43 155.23L718.8 164.5M740.25 138.9L738.24 143.63Q736.83 146.94 733.99 149.15L732.77 150.09Q729.93 152.3 732.02 155.23L738.65 164.5M738.65 138.9L740.66 143.63Q742.07 146.94 744.91 149.15L746.13 150.09Q748.97 152.3 746.88 155.23L740.25 164.5M761.7 138.9L759.69 143.63Q758.28 146.94 755.44 149.15L754.22 150.09Q751.38 152.3 753.47 155.23L760.1 164.5M760.1 138.9L762.11 143.63Q763.52 146.94 766.36 149.15L767.58 150.09Q770.42 152.3 768.33 155.23L761.7 164.5M783.15 138.9L781.14 143.63Q779.73 146.94 776.89 149.15L775.67 150.09Q772.83 152.3 774.92 155.23L781.55 164.5M781.55 138.9L783.56 143.63Q784.97 146.94 787.81 149.15L789.03 150.09Q791.88 152.3 789.78 155.23L783.15 164.5M804.6 138.9L802.59 143.63Q801.18 146.94 798.34 149.15L797.12 150.09Q794.28 152.3 796.37 155.23L803 164.5M803 138.9L805.01 143.63Q806.42 146.94 809.26 149.15L810.48 150.09Q813.32 152.3 811.23 155.23L804.6 164.5M826.05 138.9L824.04 143.63Q822.63 146.94 819.79 149.15L818.57 150.09Q815.73 152.3 817.82 155.23L824.45 164.5M824.45 138.9L825.6 143.24Q826.52 146.72 829.13 149.2L829.77 149.82Q832.38 152.3 830.72 155.5L826.05 164.5M718.8 162.5L717.65 166.84Q716.73 170.32 714.12 172.8L713.48 173.42Q710.88 175.9 712.53 179.1L717.2 188.1M717.2 162.5L719.21 167.23Q720.62 170.54 723.46 172.75L724.68 173.69Q727.52 175.9 725.43 178.83L718.8 188.1M740.25 162.5L738.24 167.23Q736.83 170.54 733.99 172.75L732.77 173.69Q729.93 175.9 732.02 178.83L738.65 188.1M738.65 162.5L740.66 167.23Q742.07 170.54 744.91 172.75L746.13 173.69Q748.97 175.9 746.88 178.83L740.25 188.1M761.7 162.5L759.69 167.23Q758.28 170.54 755.44 172.75L754.22 173.69Q751.38 175.9 753.47 178.83L760.1 188.1M760.1 162.5L762.11 167.23Q763.52 170.54 766.36 172.75L767.58 173.69Q770.42 175.9 768.33 178.83L761.7 188.1M783.15 162.5L781.14 167.23Q779.73 170.54 776.89 172.75L775.67 173.69Q772.83 175.9 774.92 178.83L781.55 188.1M781.55 162.5L783.56 167.23Q784.97 170.54 787.81 172.75L789.03 173.69Q791.88 175.9 789.78 178.83L783.15 188.1M804.6 162.5L802.59 167.23Q801.18 170.54 798.34 172.75L797.12 173.69Q794.28 175.9 796.37 178.83L803 188.1M803 162.5L805.01 167.23Q806.42 170.54 809.26 172.75L810.48 173.69Q813.32 175.9 811.23 178.83L804.6 188.1M826.05 162.5L824.04 167.23Q822.63 170.54 819.79 172.75L818.57 173.69Q815.73 175.9 817.82 178.83L824.45 188.1M824.45 162.5L825.6 166.84Q826.52 170.32 829.13 172.8L829.77 173.42Q832.38 175.9 830.72 179.1L826.05 188.1M718.8 186.1L717.65 190.44Q716.73 193.92 714.12 196.4L710.88 199.5M717.2 186.1L719.21 190.83Q720.62 194.14 723.46 196.35L727.52 199.5M740.25 186.1L738.24 190.83Q736.83 194.14 733.99 196.35L729.93 199.5M738.65 186.1L740.66 190.83Q742.07 194.14 744.91 196.35L748.97 199.5M761.7 186.1L759.69 190.83Q758.28 194.14 755.44 196.35L751.38 199.5M760.1 186.1L762.11 190.83Q763.52 194.14 766.36 196.35L770.42 199.5M783.15 186.1L781.14 190.83Q779.73 194.14 776.89 196.35L772.83 199.5M781.55 186.1L783.56 190.83Q784.97 194.14 787.81 196.35L791.88 199.5M804.6 186.1L802.59 190.83Q801.18 194.14 798.34 196.35L794.28 199.5M803 186.1L805.01 190.83Q806.42 194.14 809.26 196.35L813.32 199.5M826.05 186.1L824.04 190.83Q822.63 194.14 819.79 196.35L815.73 199.5M824.45 186.1L825.6 190.44Q826.52 193.92 829.13 196.4L832.38 199.5M717.09 117.86L724.39 105.33A7.4 7.4 0 1 0 711.61 105.33L718.91 117.86M738.54 117.86L745.84 105.33A7.4 7.4 0 1 0 733.06 105.33L740.36 117.86M759.99 117.86L767.29 105.33A7.4 7.4 0 1 0 754.51 105.33L761.81 117.86M781.44 117.86L788.74 105.33A7.4 7.4 0 1 0 775.96 105.33L783.26 117.86M802.89 117.86L810.19 105.33A7.4 7.4 0 1 0 797.41 105.33L804.71 117.86M824.34 117.86L831.64 105.33A7.4 7.4 0 1 0 818.86 105.33L826.16 117.86M726.74 197.19L734.37 206.83A7.2 7.2 0 1 1 723.08 206.83L730.71 197.19M748.19 197.19L755.82 206.83A7.2 7.2 0 1 1 744.53 206.83L752.16 197.19M769.64 197.19L777.27 206.83A7.2 7.2 0 1 1 765.98 206.83L773.61 197.19M791.09 197.19L798.72 206.83A7.2 7.2 0 1 1 787.43 206.83L795.06 197.19M812.54 197.19L820.17 206.83A7.2 7.2 0 1 1 808.88 206.83L816.51 197.19M711.67 196.2C711.97 197.28 712.92 200.62 713.47 202.7C714.02 204.78 714.67 207.03 714.97 208.7C715.27 210.37 715.42 211.77 715.27 212.7C715.12 213.63 714.74 213.47 714.07 214.3C713.41 215.13 712.17 216.98 711.27 217.7C710.38 218.42 709.11 218.45 708.67 218.6M831.58 196.2C831.28 197.28 830.33 200.62 829.78 202.7C829.23 204.78 828.58 207.03 828.28 208.7C827.98 210.37 827.83 211.77 827.98 212.7C828.12 213.63 828.51 213.47 829.18 214.3C829.84 215.13 831.08 216.98 831.98 217.7C832.88 218.42 834.14 218.45 834.58 218.6" fill="none" stroke="#232727" stroke-width="1.5" stroke-linecap="round" stroke-linejoin="round"/>
<path d="M712.46 121.31a1.37 1.37 0 1 0 2.73 0a1.37 1.37 0 1 0 -2.73 0M723.63 121.32a1.18 1.18 0 1 0 2.35 0a1.18 1.18 0 1 0 -2.35 0M720.8 117.79a1.26 1.26 0 1 0 2.51 0a1.26 1.26 0 1 0 -2.51 0M755.16 119.76a1.39 1.39 0 1 0 2.78 0a1.39 1.39 0 1 0 -2.78 0M806.31 119.34a1.25 1.25 0 1 0 2.5 0a1.25 1.25 0 1 0 -2.5 0M810.56 126.15a1.71 1.71 0 1 0 3.42 0a1.71 1.71 0 1 0 -3.42 0M805.98 117.3a1.34 1.34 0 1 0 2.68 0a1.34 1.34 0 1 0 -2.68 0M735.07 140.45a1.43 1.43 0 1 0 2.85 0a1.43 1.43 0 1 0 -2.85 0M748.18 152.09a1.58 1.58 0 1 0 3.17 0a1.58 1.58 0 1 0 -3.17 0M781.67 139.64a1.71 1.71 0 1 0 3.42 0a1.71 1.71 0 1 0 -3.42 0M795.12 148.69a1.37 1.37 0 1 0 2.74 0a1.37 1.37 0 1 0 -2.74 0M798.58 143.42a1.85 1.85 0 1 0 3.69 0a1.85 1.85 0 1 0 -3.69 0M794.44 146.95a1.75 1.75 0 1 0 3.5 0a1.75 1.75 0 1 0 -3.5 0M812.88 151.09a1.6 1.6 0 1 0 3.19 0a1.6 1.6 0 1 0 -3.19 0M824.91 139.09a1.18 1.18 0 1 0 2.36 0a1.18 1.18 0 1 0 -2.36 0M712 169.97a1.35 1.35 0 1 0 2.7 0a1.35 1.35 0 1 0 -2.7 0M727.85 176.91a1.28 1.28 0 1 0 2.56 0a1.28 1.28 0 1 0 -2.56 0M753.55 126.25a1.46 1.46 0 1 0 2.92 0a1.46 1.46 0 1 0 -2.92 0M788.67 132.55a1.17 1.17 0 1 0 2.34 0a1.17 1.17 0 1 0 -2.34 0M781.86 138.54a1.66 1.66 0 1 0 3.33 0a1.66 1.66 0 1 0 -3.33 0M781.72 121.48a1.55 1.55 0 1 0 3.1 0a1.55 1.55 0 1 0 -3.1 0M797.6 134.24a1.25 1.25 0 1 0 2.49 0a1.25 1.25 0 1 0 -2.49 0M798.45 137.13a1.24 1.24 0 1 0 2.49 0a1.24 1.24 0 1 0 -2.49 0M811.38 131.03a1.55 1.55 0 1 0 3.09 0a1.55 1.55 0 1 0 -3.09 0M808.73 134.38a1.45 1.45 0 1 0 2.89 0a1.45 1.45 0 1 0 -2.89 0M804.54 123.75a1.27 1.27 0 1 0 2.55 0a1.27 1.27 0 1 0 -2.55 0M814.96 128.69a1.39 1.39 0 1 0 2.78 0a1.39 1.39 0 1 0 -2.78 0M735.73 147.34a1.7 1.7 0 1 0 3.4 0a1.7 1.7 0 1 0 -3.4 0M759.53 140.36a1.85 1.85 0 1 0 3.7 0a1.85 1.85 0 1 0 -3.7 0M783.62 159.77a1.49 1.49 0 1 0 2.98 0a1.49 1.49 0 1 0 -2.98 0M801.43 142.85a1.19 1.19 0 1 0 2.39 0a1.19 1.19 0 1 0 -2.39 0M801.23 164.75a1.43 1.43 0 1 0 2.85 0a1.43 1.43 0 1 0 -2.85 0M741.92 182.39a1.37 1.37 0 1 0 2.74 0a1.37 1.37 0 1 0 -2.74 0M760.05 164.25a1.57 1.57 0 1 0 3.14 0a1.57 1.57 0 1 0 -3.14 0M781.74 187.23a1.42 1.42 0 1 0 2.84 0a1.42 1.42 0 1 0 -2.84 0M802.15 165.24a1.39 1.39 0 1 0 2.77 0a1.39 1.39 0 1 0 -2.77 0M808.93 180.16a1.71 1.71 0 1 0 3.43 0a1.71 1.71 0 1 0 -3.43 0M829.65 180.95a1.5 1.5 0 1 0 3 0a1.5 1.5 0 1 0 -3 0M823.58 163.84a1.65 1.65 0 1 0 3.3 0a1.65 1.65 0 1 0 -3.3 0M715.86 187.76a1.2 1.2 0 1 0 2.39 0a1.2 1.2 0 1 0 -2.39 0M733.38 197.27a1.38 1.38 0 1 0 2.76 0a1.38 1.38 0 1 0 -2.76 0M741.39 195a1.5 1.5 0 1 0 3 0a1.5 1.5 0 1 0 -3 0M757.18 191.79a1.76 1.76 0 1 0 3.51 0a1.76 1.76 0 1 0 -3.51 0M778.76 193.2a1.78 1.78 0 1 0 3.55 0a1.78 1.78 0 1 0 -3.55 0M741.99 109.29a1.65 1.65 0 1 0 3.3 0a1.65 1.65 0 1 0 -3.3 0M733.86 94.28a1.46 1.46 0 1 0 2.92 0a1.46 1.46 0 1 0 -2.92 0M735.86 115.28a1.72 1.72 0 1 0 3.43 0a1.72 1.72 0 1 0 -3.43 0M738.88 117.97a1.29 1.29 0 1 0 2.57 0a1.29 1.29 0 1 0 -2.57 0M766.04 97.76a1.61 1.61 0 1 0 3.22 0a1.61 1.61 0 1 0 -3.22 0M752.1 97.5a1.79 1.79 0 1 0 3.58 0a1.79 1.79 0 1 0 -3.58 0M827.47 95.45a1.31 1.31 0 1 0 2.62 0a1.31 1.31 0 1 0 -2.62 0M824.09 93.55a1.21 1.21 0 1 0 2.43 0a1.21 1.21 0 1 0 -2.43 0M727 197.76a1.5 1.5 0 1 0 3 0a1.5 1.5 0 1 0 -3 0M728.05 217.14a1.66 1.66 0 1 0 3.32 0a1.66 1.66 0 1 0 -3.32 0M728.39 199.5a1.62 1.62 0 1 0 3.23 0a1.62 1.62 0 1 0 -3.23 0M742.2 211.7a1.69 1.69 0 1 0 3.38 0a1.69 1.69 0 1 0 -3.38 0M741.51 207.65a1.54 1.54 0 1 0 3.08 0a1.54 1.54 0 1 0 -3.08 0M768.46 198.16a1.19 1.19 0 1 0 2.39 0a1.19 1.19 0 1 0 -2.39 0M786.14 213.79a1.52 1.52 0 1 0 3.04 0a1.52 1.52 0 1 0 -3.04 0M805.92 207.71a1.63 1.63 0 1 0 3.25 0a1.63 1.63 0 1 0 -3.25 0M807.99 205.2a1.31 1.31 0 1 0 2.62 0a1.31 1.31 0 1 0 -2.62 0M814.62 218.62a1.31 1.31 0 1 0 2.63 0a1.31 1.31 0 1 0 -2.63 0M752.48 197.48a1.73 1.73 0 1 0 3.46 0a1.73 1.73 0 1 0 -3.46 0M796.67 194.69a1.48 1.48 0 1 0 2.96 0a1.48 1.48 0 1 0 -2.96 0M711.32 214.13a1.26 1.26 0 1 0 2.52 0a1.26 1.26 0 1 0 -2.52 0M714.27 206.18a1.33 1.33 0 1 0 2.67 0a1.33 1.33 0 1 0 -2.67 0M829.67 217.02a1.17 1.17 0 1 0 2.33 0a1.17 1.17 0 1 0 -2.33 0" fill="#14b8b2"/>
<path d="M724.82 121.46a1.44 1.44 0 1 0 2.89 0a1.44 1.44 0 1 0 -2.89 0M773.24 122.68a1.76 1.76 0 1 0 3.53 0a1.76 1.76 0 1 0 -3.53 0M815.09 125.98a1.32 1.32 0 1 0 2.64 0a1.32 1.32 0 1 0 -2.64 0M818.69 119.98a1.47 1.47 0 1 0 2.93 0a1.47 1.47 0 1 0 -2.93 0M821.93 116.95a1.38 1.38 0 1 0 2.75 0a1.38 1.38 0 1 0 -2.75 0M753.44 144.99a1.63 1.63 0 1 0 3.27 0a1.63 1.63 0 1 0 -3.27 0M746.71 146.41a1.54 1.54 0 1 0 3.07 0a1.54 1.54 0 1 0 -3.07 0M789.71 147.97a1.5 1.5 0 1 0 3.01 0a1.5 1.5 0 1 0 -3.01 0M806.1 142.95a1.44 1.44 0 1 0 2.88 0a1.44 1.44 0 1 0 -2.88 0M811.83 149.39a1.22 1.22 0 1 0 2.45 0a1.22 1.22 0 1 0 -2.45 0M815.44 149.05a1.54 1.54 0 1 0 3.09 0a1.54 1.54 0 1 0 -3.09 0M719.97 165.71a1.52 1.52 0 1 0 3.03 0a1.52 1.52 0 1 0 -3.03 0M720.44 123.57a1.74 1.74 0 1 0 3.48 0a1.74 1.74 0 1 0 -3.48 0M730.89 127.52a1.32 1.32 0 1 0 2.64 0a1.32 1.32 0 1 0 -2.64 0M731.28 126.51a1.5 1.5 0 1 0 3 0a1.5 1.5 0 1 0 -3 0M742.56 124.64a1.59 1.59 0 1 0 3.19 0a1.59 1.59 0 1 0 -3.19 0M742.35 126.46a1.79 1.79 0 1 0 3.59 0a1.79 1.79 0 1 0 -3.59 0M778.93 120.87a1.21 1.21 0 1 0 2.43 0a1.21 1.21 0 1 0 -2.43 0M828.32 125.17a1.26 1.26 0 1 0 2.51 0a1.26 1.26 0 1 0 -2.51 0M823.22 116.83a1.3 1.3 0 1 0 2.6 0a1.3 1.3 0 1 0 -2.6 0M714.65 149.12a1.27 1.27 0 1 0 2.53 0a1.27 1.27 0 1 0 -2.53 0M710.72 157.15a1.76 1.76 0 1 0 3.53 0a1.76 1.76 0 1 0 -3.53 0M721.28 148.05a1.61 1.61 0 1 0 3.22 0a1.61 1.61 0 1 0 -3.22 0M732.27 157.65a1.26 1.26 0 1 0 2.52 0a1.26 1.26 0 1 0 -2.52 0M731.53 148.43a1.85 1.85 0 1 0 3.69 0a1.85 1.85 0 1 0 -3.69 0M730.4 155.47a1.21 1.21 0 1 0 2.43 0a1.21 1.21 0 1 0 -2.43 0M756.2 160.88a1.6 1.6 0 1 0 3.21 0a1.6 1.6 0 1 0 -3.21 0M766.13 156.56a1.61 1.61 0 1 0 3.23 0a1.61 1.61 0 1 0 -3.23 0M783.08 161.26a1.66 1.66 0 1 0 3.33 0a1.66 1.66 0 1 0 -3.33 0M786.52 149.29a1.18 1.18 0 1 0 2.36 0a1.18 1.18 0 1 0 -2.36 0M794.92 157.68a1.7 1.7 0 1 0 3.4 0a1.7 1.7 0 1 0 -3.4 0M801.76 141.08a1.74 1.74 0 1 0 3.47 0a1.74 1.74 0 1 0 -3.47 0M709.91 174.82a1.74 1.74 0 1 0 3.47 0a1.74 1.74 0 1 0 -3.47 0M715.29 163.39a1.69 1.69 0 1 0 3.38 0a1.69 1.69 0 1 0 -3.38 0M734.08 171.11a1.58 1.58 0 1 0 3.16 0a1.58 1.58 0 1 0 -3.16 0M758.58 167.49a1.71 1.71 0 1 0 3.41 0a1.71 1.71 0 1 0 -3.41 0M751.53 176.95a1.41 1.41 0 1 0 2.82 0a1.41 1.41 0 1 0 -2.82 0M762.22 185.99a1.42 1.42 0 1 0 2.84 0a1.42 1.42 0 1 0 -2.84 0M787.03 182.97a1.19 1.19 0 1 0 2.37 0a1.19 1.19 0 1 0 -2.37 0M797.61 183.14a1.31 1.31 0 1 0 2.61 0a1.31 1.31 0 1 0 -2.61 0M709.93 200.25a1.66 1.66 0 1 0 3.33 0a1.66 1.66 0 1 0 -3.33 0M784.08 195.47a1.15 1.15 0 1 0 2.31 0a1.15 1.15 0 1 0 -2.31 0M801.14 188.37a1.29 1.29 0 1 0 2.58 0a1.29 1.29 0 1 0 -2.58 0M824.34 191.56a1.65 1.65 0 1 0 3.3 0a1.65 1.65 0 1 0 -3.3 0M720.29 109.25a1.85 1.85 0 1 0 3.69 0a1.85 1.85 0 1 0 -3.69 0M711.71 108.73a1.27 1.27 0 1 0 2.53 0a1.27 1.27 0 1 0 -2.53 0M780.9 115.43a1.79 1.79 0 1 0 3.58 0a1.79 1.79 0 1 0 -3.58 0M831.68 101.69a1.69 1.69 0 1 0 3.37 0a1.69 1.69 0 1 0 -3.37 0M773.09 201.85a1.8 1.8 0 1 0 3.59 0a1.8 1.8 0 1 0 -3.59 0M790.43 200.47a1.35 1.35 0 1 0 2.69 0a1.35 1.35 0 1 0 -2.69 0M821.19 211.84a1.67 1.67 0 1 0 3.35 0a1.67 1.67 0 1 0 -3.35 0M711.66 197.12a1.81 1.81 0 1 0 3.62 0a1.81 1.81 0 1 0 -3.62 0M737.38 186.27a1.73 1.73 0 1 0 3.46 0a1.73 1.73 0 1 0 -3.46 0M738.45 186.87a1.73 1.73 0 1 0 3.47 0a1.73 1.73 0 1 0 -3.47 0M747.25 199.19a1.28 1.28 0 1 0 2.57 0a1.28 1.28 0 1 0 -2.57 0M780.09 188.4a1.19 1.19 0 1 0 2.38 0a1.19 1.19 0 1 0 -2.38 0M828.45 198.02a1.33 1.33 0 1 0 2.67 0a1.33 1.33 0 1 0 -2.67 0M827.32 213.09a1.25 1.25 0 1 0 2.49 0a1.25 1.25 0 1 0 -2.49 0" fill="#16bdb7"/>
<path d="M731.13 124.5a1.46 1.46 0 1 0 2.92 0a1.46 1.46 0 1 0 -2.92 0M752.15 122.68a1.4 1.4 0 1 0 2.8 0a1.4 1.4 0 1 0 -2.8 0M762.09 118.13a1.67 1.67 0 1 0 3.35 0a1.67 1.67 0 1 0 -3.35 0M769.83 128.4a1.59 1.59 0 1 0 3.17 0a1.59 1.59 0 1 0 -3.17 0M797.64 120.31a1.32 1.32 0 1 0 2.65 0a1.32 1.32 0 1 0 -2.65 0M813.99 129.5a1.4 1.4 0 1 0 2.8 0a1.4 1.4 0 1 0 -2.8 0M815.59 126.3a1.51 1.51 0 1 0 3.01 0a1.51 1.51 0 1 0 -3.01 0M824.78 120.52a1.68 1.68 0 1 0 3.36 0a1.68 1.68 0 1 0 -3.36 0M711.02 147.64a1.55 1.55 0 1 0 3.1 0a1.55 1.55 0 1 0 -3.1 0M754.09 143.09a1.32 1.32 0 1 0 2.64 0a1.32 1.32 0 1 0 -2.64 0M780.75 140.46a1.78 1.78 0 1 0 3.56 0a1.78 1.78 0 1 0 -3.56 0M824 140.57a1.16 1.16 0 1 0 2.32 0a1.16 1.16 0 1 0 -2.32 0M711.22 171.17a1.23 1.23 0 1 0 2.46 0a1.23 1.23 0 1 0 -2.46 0M723.37 170.79a1.73 1.73 0 1 0 3.46 0a1.73 1.73 0 1 0 -3.46 0M784.65 166.62a1.39 1.39 0 1 0 2.78 0a1.39 1.39 0 1 0 -2.78 0M795.51 170.15a1.53 1.53 0 1 0 3.07 0a1.53 1.53 0 1 0 -3.07 0M804.27 165.48a1.36 1.36 0 1 0 2.71 0a1.36 1.36 0 1 0 -2.71 0M806.49 168.14a1.65 1.65 0 1 0 3.3 0a1.65 1.65 0 1 0 -3.3 0M717.94 116.33a1.84 1.84 0 1 0 3.69 0a1.84 1.84 0 1 0 -3.69 0M755.45 125.14a1.25 1.25 0 1 0 2.5 0a1.25 1.25 0 1 0 -2.5 0M757.85 140.59a1.47 1.47 0 1 0 2.93 0a1.47 1.47 0 1 0 -2.93 0M762.33 136.25a1.44 1.44 0 1 0 2.88 0a1.44 1.44 0 1 0 -2.88 0M767.28 129.75a1.22 1.22 0 1 0 2.45 0a1.22 1.22 0 1 0 -2.45 0M764.64 136.08a1.34 1.34 0 1 0 2.69 0a1.34 1.34 0 1 0 -2.69 0M784.22 122.6a1.77 1.77 0 1 0 3.55 0a1.77 1.77 0 1 0 -3.55 0M786.89 127.22a1.58 1.58 0 1 0 3.15 0a1.58 1.58 0 1 0 -3.15 0M800.65 139.84a1.38 1.38 0 1 0 2.77 0a1.38 1.38 0 1 0 -2.77 0M803.22 117.07a1.25 1.25 0 1 0 2.49 0a1.25 1.25 0 1 0 -2.49 0M816.78 134.69a1.66 1.66 0 1 0 3.31 0a1.66 1.66 0 1 0 -3.31 0M824.79 121.8a1.74 1.74 0 1 0 3.47 0a1.74 1.74 0 1 0 -3.47 0M828.45 131.7a1.79 1.79 0 1 0 3.58 0a1.79 1.79 0 1 0 -3.58 0M745.4 156.88a1.34 1.34 0 1 0 2.67 0a1.34 1.34 0 1 0 -2.67 0M745.88 150.12a1.74 1.74 0 1 0 3.48 0a1.74 1.74 0 1 0 -3.48 0M758.22 141.3a1.61 1.61 0 1 0 3.23 0a1.61 1.61 0 1 0 -3.23 0M752.71 149.91a1.36 1.36 0 1 0 2.73 0a1.36 1.36 0 1 0 -2.73 0M772.93 154.22a1.6 1.6 0 1 0 3.19 0a1.6 1.6 0 1 0 -3.19 0M778.48 145.61a1.37 1.37 0 1 0 2.75 0a1.37 1.37 0 1 0 -2.75 0M779.65 140.01a1.17 1.17 0 1 0 2.35 0a1.17 1.17 0 1 0 -2.35 0M798.14 148.85a1.57 1.57 0 1 0 3.14 0a1.57 1.57 0 1 0 -3.14 0M795.75 157.4a1.25 1.25 0 1 0 2.51 0a1.25 1.25 0 1 0 -2.51 0M810.33 150.57a1.22 1.22 0 1 0 2.44 0a1.22 1.22 0 1 0 -2.44 0M802.26 163.99a1.63 1.63 0 1 0 3.26 0a1.63 1.63 0 1 0 -3.26 0M816.54 154.01a1.55 1.55 0 1 0 3.11 0a1.55 1.55 0 1 0 -3.11 0M822.14 165.09a1.48 1.48 0 1 0 2.96 0a1.48 1.48 0 1 0 -2.96 0M830.07 155.9a1.62 1.62 0 1 0 3.25 0a1.62 1.62 0 1 0 -3.25 0M716.54 166.97a1.42 1.42 0 1 0 2.84 0a1.42 1.42 0 1 0 -2.84 0M717.74 185.06a1.71 1.71 0 1 0 3.42 0a1.71 1.71 0 1 0 -3.42 0M737.71 167.72a1.68 1.68 0 1 0 3.36 0a1.68 1.68 0 1 0 -3.36 0M733.24 183.26a1.17 1.17 0 1 0 2.33 0a1.17 1.17 0 1 0 -2.33 0M734.44 168.82a1.84 1.84 0 1 0 3.68 0a1.84 1.84 0 1 0 -3.68 0M740.45 169.04a1.78 1.78 0 1 0 3.57 0a1.78 1.78 0 1 0 -3.57 0M751.41 175.41a1.7 1.7 0 1 0 3.4 0a1.7 1.7 0 1 0 -3.4 0M753.64 178.67a1.28 1.28 0 1 0 2.57 0a1.28 1.28 0 1 0 -2.57 0M757.34 184.58a1.56 1.56 0 1 0 3.12 0a1.56 1.56 0 1 0 -3.12 0M759.65 166.93a1.3 1.3 0 1 0 2.6 0a1.3 1.3 0 1 0 -2.6 0M762.57 171.57a1.56 1.56 0 1 0 3.12 0a1.56 1.56 0 1 0 -3.12 0M787.97 172.24a1.21 1.21 0 1 0 2.42 0a1.21 1.21 0 1 0 -2.42 0M797.29 173.36a1.56 1.56 0 1 0 3.12 0a1.56 1.56 0 1 0 -3.12 0M795.09 175.8a1.5 1.5 0 1 0 3.01 0a1.5 1.5 0 1 0 -3.01 0M821.02 187.53a1.78 1.78 0 1 0 3.56 0a1.78 1.78 0 1 0 -3.56 0M828.75 176.38a1.54 1.54 0 1 0 3.07 0a1.54 1.54 0 1 0 -3.07 0M755.83 193.52a1.6 1.6 0 1 0 3.21 0a1.6 1.6 0 1 0 -3.21 0M758.38 186.88a1.76 1.76 0 1 0 3.53 0a1.76 1.76 0 1 0 -3.53 0M760.69 189.11a1.72 1.72 0 1 0 3.44 0a1.72 1.72 0 1 0 -3.44 0M773.79 198.74a1.24 1.24 0 1 0 2.47 0a1.24 1.24 0 1 0 -2.47 0M781.92 188.41a1.71 1.71 0 1 0 3.42 0a1.71 1.71 0 1 0 -3.42 0M823.22 186.4a1.65 1.65 0 1 0 3.3 0a1.65 1.65 0 1 0 -3.3 0M820.09 194.87a1.57 1.57 0 1 0 3.14 0a1.57 1.57 0 1 0 -3.14 0M827.41 195.33a1.16 1.16 0 1 0 2.32 0a1.16 1.16 0 1 0 -2.32 0M741.26 93.62a1.21 1.21 0 1 0 2.41 0a1.21 1.21 0 1 0 -2.41 0M730.46 104.34a1.35 1.35 0 1 0 2.71 0a1.35 1.35 0 1 0 -2.71 0M765.27 105.91a1.22 1.22 0 1 0 2.45 0a1.22 1.22 0 1 0 -2.45 0M753.86 108.01a1.44 1.44 0 1 0 2.88 0a1.44 1.44 0 1 0 -2.88 0M783.88 112.77a1.43 1.43 0 1 0 2.87 0a1.43 1.43 0 1 0 -2.87 0M781.19 115.42a1.48 1.48 0 1 0 2.95 0a1.48 1.48 0 1 0 -2.95 0M801.39 116.78a1.45 1.45 0 1 0 2.9 0a1.45 1.45 0 1 0 -2.9 0M733.24 210.71a1.69 1.69 0 1 0 3.38 0a1.69 1.69 0 1 0 -3.38 0M732.32 205.34a1.45 1.45 0 1 0 2.9 0a1.45 1.45 0 1 0 -2.9 0M732.32 215.3a1.72 1.72 0 1 0 3.44 0a1.72 1.72 0 1 0 -3.44 0M728.53 219.03a1.72 1.72 0 1 0 3.43 0a1.72 1.72 0 1 0 -3.43 0M726.02 203.22a1.17 1.17 0 1 0 2.34 0a1.17 1.17 0 1 0 -2.34 0M744.49 217.56a1.78 1.78 0 1 0 3.56 0a1.78 1.78 0 1 0 -3.56 0M749.46 200.22a1.58 1.58 0 1 0 3.15 0a1.58 1.58 0 1 0 -3.15 0M774.26 206.21a1.32 1.32 0 1 0 2.64 0a1.32 1.32 0 1 0 -2.64 0M776.91 209.11a1.81 1.81 0 1 0 3.63 0a1.81 1.81 0 1 0 -3.63 0M790.02 203.96a1.21 1.21 0 1 0 2.43 0a1.21 1.21 0 1 0 -2.43 0M788.93 217.68a1.61 1.61 0 1 0 3.22 0a1.61 1.61 0 1 0 -3.22 0M787.47 206.19a1.63 1.63 0 1 0 3.26 0a1.63 1.63 0 1 0 -3.26 0M817.3 216.01a1.47 1.47 0 1 0 2.94 0a1.47 1.47 0 1 0 -2.94 0M807.09 211.67a1.35 1.35 0 1 0 2.7 0a1.35 1.35 0 1 0 -2.7 0M813.6 198.26a1.79 1.79 0 1 0 3.59 0a1.79 1.79 0 1 0 -3.59 0M736.41 190.51a1.22 1.22 0 1 0 2.44 0a1.22 1.22 0 1 0 -2.44 0M777.44 190.28a1.66 1.66 0 1 0 3.32 0a1.66 1.66 0 1 0 -3.32 0M789.37 197.09a1.29 1.29 0 1 0 2.59 0a1.29 1.29 0 1 0 -2.59 0M782.35 190.79a1.47 1.47 0 1 0 2.93 0a1.47 1.47 0 1 0 -2.93 0M794.02 197.14a1.52 1.52 0 1 0 3.04 0a1.52 1.52 0 1 0 -3.04 0M820.86 188.79a1.52 1.52 0 1 0 3.05 0a1.52 1.52 0 1 0 -3.05 0M714.06 212.09a1.84 1.84 0 1 0 3.68 0a1.84 1.84 0 1 0 -3.68 0M827.94 209.37a1.27 1.27 0 1 0 2.55 0a1.27 1.27 0 1 0 -2.55 0" fill="#12b3ae"/>
<path d="M738.74 116.82a1.83 1.83 0 1 0 3.67 0a1.83 1.83 0 1 0 -3.67 0M743.87 122.25a1.66 1.66 0 1 0 3.31 0a1.66 1.66 0 1 0 -3.31 0M747.68 124.89a1.26 1.26 0 1 0 2.51 0a1.26 1.26 0 1 0 -2.51 0M785.47 120.25a1.77 1.77 0 1 0 3.53 0a1.77 1.77 0 1 0 -3.53 0M790.82 126.33a1.36 1.36 0 1 0 2.71 0a1.36 1.36 0 1 0 -2.71 0M811.39 126.56a1.72 1.72 0 1 0 3.45 0a1.72 1.72 0 1 0 -3.45 0M713.02 144.34a1.3 1.3 0 1 0 2.59 0a1.3 1.3 0 1 0 -2.59 0M724.47 146.83a1.41 1.41 0 1 0 2.82 0a1.41 1.41 0 1 0 -2.82 0M748.85 152.09a1.72 1.72 0 1 0 3.44 0a1.72 1.72 0 1 0 -3.44 0M738.6 139.86a1.5 1.5 0 1 0 2.99 0a1.5 1.5 0 1 0 -2.99 0M746.77 149.68a1.3 1.3 0 1 0 2.59 0a1.3 1.3 0 1 0 -2.59 0M775.14 144.11a1.61 1.61 0 1 0 3.21 0a1.61 1.61 0 1 0 -3.21 0M771.05 148.49a1.81 1.81 0 1 0 3.62 0a1.81 1.81 0 1 0 -3.62 0M791.94 152.03a1.41 1.41 0 1 0 2.81 0a1.41 1.41 0 1 0 -2.81 0M714.42 168.11a1.59 1.59 0 1 0 3.19 0a1.59 1.59 0 1 0 -3.19 0M736.52 165.79a1.35 1.35 0 1 0 2.69 0a1.35 1.35 0 1 0 -2.69 0M751.8 170.41a1.16 1.16 0 1 0 2.32 0a1.16 1.16 0 1 0 -2.32 0M765.69 168.88a1.73 1.73 0 1 0 3.46 0a1.73 1.73 0 1 0 -3.46 0M715.44 139.55a1.22 1.22 0 1 0 2.44 0a1.22 1.22 0 1 0 -2.44 0M718.06 121.05a1.77 1.77 0 1 0 3.55 0a1.77 1.77 0 1 0 -3.55 0M719.28 139.56a1.32 1.32 0 1 0 2.63 0a1.32 1.32 0 1 0 -2.63 0M721.63 124.53a1.18 1.18 0 1 0 2.36 0a1.18 1.18 0 1 0 -2.36 0M731.43 133.62a1.47 1.47 0 1 0 2.95 0a1.47 1.47 0 1 0 -2.95 0M755.37 134.42a1.55 1.55 0 1 0 3.09 0a1.55 1.55 0 1 0 -3.09 0M774.8 124.82a1.47 1.47 0 1 0 2.94 0a1.47 1.47 0 1 0 -2.94 0M784.98 135.38a1.47 1.47 0 1 0 2.95 0a1.47 1.47 0 1 0 -2.95 0M798.19 133.88a1.16 1.16 0 1 0 2.32 0a1.16 1.16 0 1 0 -2.32 0M805.42 137.14a1.26 1.26 0 1 0 2.53 0a1.26 1.26 0 1 0 -2.53 0M823.46 117.25a1.54 1.54 0 1 0 3.08 0a1.54 1.54 0 1 0 -3.08 0M818.41 125.49a1.33 1.33 0 1 0 2.65 0a1.33 1.33 0 1 0 -2.65 0M827.42 132.59a1.49 1.49 0 1 0 2.98 0a1.49 1.49 0 1 0 -2.98 0M825.69 136.66a1.63 1.63 0 1 0 3.25 0a1.63 1.63 0 1 0 -3.25 0M734.84 161.03a1.31 1.31 0 1 0 2.62 0a1.31 1.31 0 1 0 -2.62 0M739.44 164.76a1.18 1.18 0 1 0 2.36 0a1.18 1.18 0 1 0 -2.36 0M761.85 146.94a1.65 1.65 0 1 0 3.3 0a1.65 1.65 0 1 0 -3.3 0M764.5 159a1.76 1.76 0 1 0 3.51 0a1.76 1.76 0 1 0 -3.51 0M762.28 161.55a1.41 1.41 0 1 0 2.82 0a1.41 1.41 0 1 0 -2.82 0M772.44 149.95a1.58 1.58 0 1 0 3.16 0a1.58 1.58 0 1 0 -3.16 0M774.62 155.33a1.38 1.38 0 1 0 2.77 0a1.38 1.38 0 1 0 -2.77 0M809.34 154.89a1.33 1.33 0 1 0 2.65 0a1.33 1.33 0 1 0 -2.65 0M814.65 150.99a1.6 1.6 0 1 0 3.2 0a1.6 1.6 0 1 0 -3.2 0M712.3 181.54a1.82 1.82 0 1 0 3.64 0a1.82 1.82 0 1 0 -3.64 0M716.61 163.67a1.59 1.59 0 1 0 3.17 0a1.59 1.59 0 1 0 -3.17 0M732.79 183.16a1.74 1.74 0 1 0 3.49 0a1.74 1.74 0 1 0 -3.49 0M803.56 186a1.77 1.77 0 1 0 3.55 0a1.77 1.77 0 1 0 -3.55 0M825.98 172.55a1.57 1.57 0 1 0 3.15 0a1.57 1.57 0 1 0 -3.15 0M759.67 187.36a1.24 1.24 0 1 0 2.49 0a1.24 1.24 0 1 0 -2.49 0M764.64 194.92a1.48 1.48 0 1 0 2.96 0a1.48 1.48 0 1 0 -2.96 0M779.12 190.55a1.37 1.37 0 1 0 2.74 0a1.37 1.37 0 1 0 -2.74 0M806.82 197.21a1.72 1.72 0 1 0 3.44 0a1.72 1.72 0 1 0 -3.44 0M751.86 104.33a1.47 1.47 0 1 0 2.93 0a1.47 1.47 0 1 0 -2.93 0M755.49 111.36a1.26 1.26 0 1 0 2.51 0a1.26 1.26 0 1 0 -2.51 0M775.54 106.99a1.16 1.16 0 1 0 2.33 0a1.16 1.16 0 1 0 -2.33 0M799.9 95.14a1.49 1.49 0 1 0 2.99 0a1.49 1.49 0 1 0 -2.99 0M800.11 113.36a1.5 1.5 0 1 0 3 0a1.5 1.5 0 1 0 -3 0M723.74 204.63a1.51 1.51 0 1 0 3.01 0a1.51 1.51 0 1 0 -3.01 0M746.26 217.34a1.48 1.48 0 1 0 2.96 0a1.48 1.48 0 1 0 -2.96 0M765.12 206.1a1.17 1.17 0 1 0 2.35 0a1.17 1.17 0 1 0 -2.35 0M769.07 202.39a1.2 1.2 0 1 0 2.4 0a1.2 1.2 0 1 0 -2.4 0M797.71 207.96a1.74 1.74 0 1 0 3.48 0a1.74 1.74 0 1 0 -3.48 0M785.39 209.41a1.85 1.85 0 1 0 3.7 0a1.85 1.85 0 1 0 -3.7 0M791.03 199.08a1.46 1.46 0 1 0 2.93 0a1.46 1.46 0 1 0 -2.93 0M780.85 186.32a1.78 1.78 0 1 0 3.56 0a1.78 1.78 0 1 0 -3.56 0M802.88 187.65a1.8 1.8 0 1 0 3.61 0a1.8 1.8 0 1 0 -3.61 0M810.71 198.93a1.36 1.36 0 1 0 2.72 0a1.36 1.36 0 1 0 -2.72 0M824.22 188.98a1.22 1.22 0 1 0 2.44 0a1.22 1.22 0 1 0 -2.44 0" fill="#0d9694"/>
<path d="M758.63 115.84a1.29 1.29 0 1 0 2.58 0a1.29 1.29 0 1 0 -2.58 0M752.54 123.59a1.25 1.25 0 1 0 2.49 0a1.25 1.25 0 1 0 -2.49 0M733.94 141.84a1.81 1.81 0 1 0 3.62 0a1.81 1.81 0 1 0 -3.62 0M759.55 140.2a1.73 1.73 0 1 0 3.46 0a1.73 1.73 0 1 0 -3.46 0M774.13 145.83a1.63 1.63 0 1 0 3.26 0a1.63 1.63 0 1 0 -3.26 0M812.51 152.04a1.73 1.73 0 1 0 3.46 0a1.73 1.73 0 1 0 -3.46 0M817.77 144.51a1.27 1.27 0 1 0 2.54 0a1.27 1.27 0 1 0 -2.54 0M742.43 167.23a1.15 1.15 0 1 0 2.31 0a1.15 1.15 0 1 0 -2.31 0M758.86 164.66a1.42 1.42 0 1 0 2.85 0a1.42 1.42 0 1 0 -2.85 0M767.32 172.85a1.4 1.4 0 1 0 2.8 0a1.4 1.4 0 1 0 -2.8 0M779.92 162.79a1.25 1.25 0 1 0 2.5 0a1.25 1.25 0 1 0 -2.5 0M781.65 164.32a1.59 1.59 0 1 0 3.18 0a1.59 1.59 0 1 0 -3.18 0M816.88 168.6a1.71 1.71 0 1 0 3.42 0a1.71 1.71 0 1 0 -3.42 0M823.07 164.39a1.69 1.69 0 1 0 3.38 0a1.69 1.69 0 1 0 -3.38 0M716.08 123.43a1.29 1.29 0 1 0 2.58 0a1.29 1.29 0 1 0 -2.58 0M716.5 121.05a1.68 1.68 0 1 0 3.36 0a1.68 1.68 0 1 0 -3.36 0M717.61 121.45a1.39 1.39 0 1 0 2.78 0a1.39 1.39 0 1 0 -2.78 0M723.36 127.76a1.65 1.65 0 1 0 3.3 0a1.65 1.65 0 1 0 -3.3 0M787.75 125.13a1.37 1.37 0 1 0 2.74 0a1.37 1.37 0 1 0 -2.74 0M799.93 120.91a1.74 1.74 0 1 0 3.49 0a1.74 1.74 0 1 0 -3.49 0M795.21 127.89a1.7 1.7 0 1 0 3.39 0a1.7 1.7 0 1 0 -3.39 0M710.87 154.45a1.22 1.22 0 1 0 2.44 0a1.22 1.22 0 1 0 -2.44 0M715.2 140.57a1.83 1.83 0 1 0 3.67 0a1.83 1.83 0 1 0 -3.67 0M723.73 153.34a1.41 1.41 0 1 0 2.81 0a1.41 1.41 0 1 0 -2.81 0M738.79 144.99a1.77 1.77 0 1 0 3.53 0a1.77 1.77 0 1 0 -3.53 0M757.98 144.68a1.15 1.15 0 1 0 2.31 0a1.15 1.15 0 1 0 -2.31 0M809.75 155.44a1.84 1.84 0 1 0 3.69 0a1.84 1.84 0 1 0 -3.69 0M825.65 165.09a1.55 1.55 0 1 0 3.1 0a1.55 1.55 0 1 0 -3.1 0M721.13 182.21a1.67 1.67 0 1 0 3.34 0a1.67 1.67 0 1 0 -3.34 0M732.86 171.79a1.83 1.83 0 1 0 3.67 0a1.83 1.83 0 1 0 -3.67 0M776.11 171.63a1.33 1.33 0 1 0 2.66 0a1.33 1.33 0 1 0 -2.66 0M797.31 173.1a1.32 1.32 0 1 0 2.63 0a1.32 1.32 0 1 0 -2.63 0M803.24 169.94a1.79 1.79 0 1 0 3.57 0a1.79 1.79 0 1 0 -3.57 0M811.57 178.18a1.2 1.2 0 1 0 2.4 0a1.2 1.2 0 1 0 -2.4 0M809.29 175.12a1.37 1.37 0 1 0 2.75 0a1.37 1.37 0 1 0 -2.75 0M824.04 187.88a1.57 1.57 0 1 0 3.15 0a1.57 1.57 0 1 0 -3.15 0M712.17 196.75a1.25 1.25 0 1 0 2.5 0a1.25 1.25 0 1 0 -2.5 0M737 187.85a1.28 1.28 0 1 0 2.57 0a1.28 1.28 0 1 0 -2.57 0M743.71 198.13a1.68 1.68 0 1 0 3.36 0a1.68 1.68 0 1 0 -3.36 0M753.54 197.3a1.7 1.7 0 1 0 3.39 0a1.7 1.7 0 1 0 -3.39 0M761.71 194.47a1.31 1.31 0 1 0 2.61 0a1.31 1.31 0 1 0 -2.61 0M774.5 195.44a1.62 1.62 0 1 0 3.23 0a1.62 1.62 0 1 0 -3.23 0M824.69 191.46a1.61 1.61 0 1 0 3.22 0a1.61 1.61 0 1 0 -3.22 0M721.4 95.56a1.74 1.74 0 1 0 3.49 0a1.74 1.74 0 1 0 -3.49 0M742.12 110.28a1.43 1.43 0 1 0 2.85 0a1.43 1.43 0 1 0 -2.85 0M736.29 115.2a1.42 1.42 0 1 0 2.84 0a1.42 1.42 0 1 0 -2.84 0M765.99 105.49a1.59 1.59 0 1 0 3.18 0a1.59 1.59 0 1 0 -3.18 0M751.47 104.45a1.42 1.42 0 1 0 2.83 0a1.42 1.42 0 1 0 -2.83 0M806.55 107.29a1.62 1.62 0 1 0 3.23 0a1.62 1.62 0 1 0 -3.23 0M795.32 97.48a1.45 1.45 0 1 0 2.9 0a1.45 1.45 0 1 0 -2.9 0M753.6 205.61a1.28 1.28 0 1 0 2.56 0a1.28 1.28 0 1 0 -2.56 0M754.78 209.61a1.29 1.29 0 1 0 2.57 0a1.29 1.29 0 1 0 -2.57 0M764 212.86a1.52 1.52 0 1 0 3.05 0a1.52 1.52 0 1 0 -3.05 0M797.32 217.12a1.24 1.24 0 1 0 2.48 0a1.24 1.24 0 1 0 -2.48 0M713.11 193.45a1.15 1.15 0 1 0 2.3 0a1.15 1.15 0 1 0 -2.3 0M742.91 194.12a1.78 1.78 0 1 0 3.56 0a1.78 1.78 0 1 0 -3.56 0M768.76 198.13a1.42 1.42 0 1 0 2.84 0a1.42 1.42 0 1 0 -2.84 0M791.28 199.12a1.38 1.38 0 1 0 2.76 0a1.38 1.38 0 1 0 -2.76 0" fill="#0fa5a2"/>
<!-- beakers -->
<path d="M157.2 104.3V167.6Q157.2 174.6 164.2 174.6H214.8Q221.8 174.6 221.8 167.6V104.3Z" fill="url(#gl1)" stroke="#e6e8f3" stroke-width="0.8"/>
<path d="M149 107.44Q151 103.16 158.27 100.77Q170.57 98.6 188.15 98.6A35.15 5.7 0 0 1 188.15 110Q167.06 110 158.2 108.58Q151 109.43 149 107.44Z" fill="#fafbfe" stroke="#e3e5f1" stroke-width="0.9"/>
<path d="M160.2 130.6V167Q160.2 173 166.2 173H214.3Q220.3 173 220.3 167V130.6A30.05 5.6 0 0 0 160.2 130.6Z" fill="url(#lq1)"/>
<path d="M160.2 130.6V167Q160.2 173 166.2 173H214.3Q220.3 173 220.3 167V130.6Z" fill="url(#lh1)"/>

<ellipse cx="190.25" cy="130.6" rx="30.05" ry="5.6" fill="url(#ls1)" stroke="#c9ccd5" stroke-width="0.7"/>
<path d="M397.6 103.8V168Q397.6 175 404.6 175H453Q460 175 460 168V103.8Z" fill="url(#gl2)" stroke="#e6e8f3" stroke-width="0.8"/>
<path d="M388.8 106.99Q390.8 102.64 397.95 100.2Q409.95 98 427.1 98A34.3 5.8 0 0 1 427.1 109.6Q406.52 109.6 398.6 108.15Q390.8 109.02 388.8 106.99Z" fill="#fafbfe" stroke="#e3e5f1" stroke-width="0.9"/>
<path d="M400.2 130.2V167.2Q400.2 173.2 406.2 173.2H452.4Q458.4 173.2 458.4 167.2V130.2A29.1 5.6 0 0 0 400.2 130.2Z" fill="url(#lq2)"/>
<path d="M400.2 130.2V167.2Q400.2 173.2 406.2 173.2H452.4Q458.4 173.2 458.4 167.2V130.2Z" fill="url(#lh2)"/>

<ellipse cx="429.3" cy="130.2" rx="29.1" ry="5.6" fill="url(#ls2)" stroke="#cfcbbb" stroke-width="0.7"/>
<path d="M626.2 105.5V169.8Q626.2 176.8 633.2 176.8H684Q691 176.8 691 169.8V105.5Z" fill="url(#gl3)" stroke="#e6e8f3" stroke-width="0.8"/>
<path d="M616.8 108.75Q618.8 104.32 626.14 101.84Q638.6 99.6 656.4 99.6A35.6 5.9 0 0 1 656.4 111.4Q635.04 111.4 627.2 109.93Q618.8 110.81 616.8 108.75Z" fill="#fafbfe" stroke="#e3e5f1" stroke-width="0.9"/>
<path d="M628 133.3V170Q628 176 634 176H682.8Q688.8 176 688.8 170V133.3A30.4 5.5 0 0 0 628 133.3Z" fill="url(#lq3)"/>
<path d="M628 133.3V170Q628 176 634 176H682.8Q688.8 176 688.8 170V133.3Z" fill="url(#lh3)"/>
<path d="M630.6 145.2a1.9 1.9 0 1 0 3.8 0a1.9 1.9 0 1 0 -3.8 0M642.4 144.2a1.8 1.8 0 1 0 3.6 0a1.8 1.8 0 1 0 -3.6 0M651.9 147.5a1.6 1.6 0 1 0 3.2 0a1.6 1.6 0 1 0 -3.2 0M658.5 149.3a2.5 2.5 0 1 0 5 0a2.5 2.5 0 1 0 -5 0M681.1 143a2.7 2.7 0 1 0 5.4 0a2.7 2.7 0 1 0 -5.4 0M673.7 149.3a1.8 1.8 0 1 0 3.6 0a1.8 1.8 0 1 0 -3.6 0M632 155a2.7 2.7 0 1 0 5.4 0a2.7 2.7 0 1 0 -5.4 0M679.2 154.2a2.5 2.5 0 1 0 5 0a2.5 2.5 0 1 0 -5 0M655 161.7a2.7 2.7 0 1 0 5.4 0a2.7 2.7 0 1 0 -5.4 0M634.6 168a2.8 2.8 0 1 0 5.6 0a2.8 2.8 0 1 0 -5.6 0M675.7 167.4a2.5 2.5 0 1 0 5 0a2.5 2.5 0 1 0 -5 0M652.4 168.5a1.8 1.8 0 1 0 3.6 0a1.8 1.8 0 1 0 -3.6 0M660.67 170.75a1.3 1.3 0 1 0 2.59 0a1.3 1.3 0 1 0 -2.59 0M675.05 163.48a0.74 0.74 0 1 0 1.48 0a0.74 0.74 0 1 0 -1.48 0M684.6 172.61a0.71 0.71 0 1 0 1.42 0a0.71 0.71 0 1 0 -1.42 0M659.61 142.2a0.7 0.7 0 1 0 1.4 0a0.7 0.7 0 1 0 -1.4 0M664.81 156.99a1.45 1.45 0 1 0 2.91 0a1.45 1.45 0 1 0 -2.91 0M673.56 142.35a2.84 2.84 0 1 0 5.68 0a2.84 2.84 0 1 0 -5.68 0M648.8 172.56a0.74 0.74 0 1 0 1.47 0a0.74 0.74 0 1 0 -1.47 0M636.66 149.21a2.14 2.14 0 1 0 4.27 0a2.14 2.14 0 1 0 -4.27 0M661.18 155.25a0.82 0.82 0 1 0 1.64 0a0.82 0.82 0 1 0 -1.64 0M670.63 144.7a0.84 0.84 0 1 0 1.67 0a0.84 0.84 0 1 0 -1.67 0M645.28 172.67a0.87 0.87 0 1 0 1.73 0a0.87 0.87 0 1 0 -1.73 0M644.65 166.07a0.87 0.87 0 1 0 1.73 0a0.87 0.87 0 1 0 -1.73 0M650.26 155.52a1.67 1.67 0 1 0 3.34 0a1.67 1.67 0 1 0 -3.34 0M671.04 171.68a0.84 0.84 0 1 0 1.67 0a0.84 0.84 0 1 0 -1.67 0M682.58 169.73a0.84 0.84 0 1 0 1.69 0a0.84 0.84 0 1 0 -1.69 0M683.53 148.22a0.71 0.71 0 1 0 1.42 0a0.71 0.71 0 1 0 -1.42 0M645.33 155.18a0.7 0.7 0 1 0 1.4 0a0.7 0.7 0 1 0 -1.4 0M680.82 161.68a2.59 2.59 0 1 0 5.18 0a2.59 2.59 0 1 0 -5.18 0M631.49 170.78a0.71 0.71 0 1 0 1.42 0a0.71 0.71 0 1 0 -1.42 0M667.35 166.05a2.07 2.07 0 1 0 4.14 0a2.07 2.07 0 1 0 -4.14 0M675.41 159.22a2.24 2.24 0 1 0 4.48 0a2.24 2.24 0 1 0 -4.48 0M634.76 161.41a1.69 1.69 0 1 0 3.38 0a1.69 1.69 0 1 0 -3.38 0M670.32 159.65a1.16 1.16 0 1 0 2.32 0a1.16 1.16 0 1 0 -2.32 0M631.12 150.4a0.93 0.93 0 1 0 1.85 0a0.93 0.93 0 1 0 -1.85 0M647.28 161.95a2.59 2.59 0 1 0 5.19 0a2.59 2.59 0 1 0 -5.19 0M647.36 145.44a1.62 1.62 0 1 0 3.24 0a1.62 1.62 0 1 0 -3.24 0M647.44 167.92a1.39 1.39 0 1 0 2.79 0a1.39 1.39 0 1 0 -2.79 0M638.21 141.96a0.9 0.9 0 1 0 1.8 0a0.9 0.9 0 1 0 -1.8 0M670.65 153.64a1.7 1.7 0 1 0 3.41 0a1.7 1.7 0 1 0 -3.41 0M679.79 172.98a0.87 0.87 0 1 0 1.73 0a0.87 0.87 0 1 0 -1.73 0M641.21 158.14a1.59 1.59 0 1 0 3.18 0a1.59 1.59 0 1 0 -3.18 0M662.98 141.81a1.42 1.42 0 1 0 2.83 0a1.42 1.42 0 1 0 -2.83 0M656.34 144.65a0.95 0.95 0 1 0 1.89 0a0.95 0.95 0 1 0 -1.89 0M668.1 151.09a0.89 0.89 0 1 0 1.77 0a0.89 0.89 0 1 0 -1.77 0" fill="#149a96" opacity="0.92"/>
<ellipse cx="658.4" cy="133.3" rx="30.4" ry="5.5" fill="url(#ls3)" stroke="#d8f0f8" stroke-width="0.7"/>
<path d="M98.6 280.2V340Q98.6 347 105.6 347H155Q162 347 162 340V280.2Z" fill="url(#gl4)" stroke="#e6e8f3" stroke-width="0.8"/>
<path d="M91.4 283.39Q93.4 279.04 100.49 276.6Q112.35 274.4 129.3 274.4A33.9 5.8 0 0 1 129.3 286Q108.96 286 99.6 284.55Q93.4 285.42 91.4 283.39Z" fill="#fafbfe" stroke="#e3e5f1" stroke-width="0.9"/>
<path d="M100.8 304.4V339.2Q100.8 345.2 106.8 345.2H153.8Q159.8 345.2 159.8 339.2V304.4A29.5 5.6 0 0 0 100.8 304.4Z" fill="url(#lq4)"/>
<path d="M100.8 304.4V339.2Q100.8 345.2 106.8 345.2H153.8Q159.8 345.2 159.8 339.2V304.4Z" fill="url(#lh4)"/>
<rect x="126.9" y="279" width="4.2" height="49.5" rx="1.2" fill="#cfe9f4" opacity="0.85"/><path d="M108.6 345.2Q112 339.2 129.9 337.6Q148 339.2 151.2 345.2Z" fill="#8fb2c2" opacity="0.8"/><g fill="none" stroke="#4e9fe0" stroke-width="1.1" stroke-linecap="round"><path d="M116.4 321.4q-1.9 3.4 0 6.8"/><path d="M143.6 321.4q1.9 3.4 0 6.8"/><path d="M119.1 321.4q-1.9 3.4 0 6.8"/><path d="M140.9 321.4q1.9 3.4 0 6.8"/><path d="M121.8 321.4q-1.9 3.4 0 6.8"/><path d="M138.2 321.4q1.9 3.4 0 6.8"/></g>
<ellipse cx="130.3" cy="304.4" rx="29.5" ry="5.6" fill="url(#ls4)" stroke="#cfeaf5" stroke-width="0.7"/>
<rect x="127.0" y="275" width="4.0" height="30" fill="#dfe3ee" opacity="0.9"/>
<rect x="126.2" y="252.6" width="5.4" height="27" rx="0.8" fill="#8e9094"/><rect x="125.6" y="267.5" width="6.6" height="2.2" fill="#a9abb0"/><rect x="125.6" y="271.5" width="6.6" height="2.2" fill="#a9abb0"/><rect x="127.2" y="252.6" width="1.2" height="23" fill="#b9bbbf" opacity="0.8"/>
<path d="M296.2 277V341.2Q296.2 348.2 303.2 348.2H347.3Q354.3 348.2 354.3 341.2V277Z" fill="url(#gl5)" stroke="#e6e8f3" stroke-width="0.8"/>
<path d="M287.6 280.3Q289.6 275.8 296.37 273.28Q307.5 271 323.4 271A31.8 6 0 0 1 323.4 283Q304.32 283 297.2 281.5Q289.6 282.4 287.6 280.3Z" fill="#fafbfe" stroke="#e3e5f1" stroke-width="0.9"/>
<path d="M298.3 302.9V340.8Q298.3 346.8 304.3 346.8H346.4Q352.4 346.8 352.4 340.8V302.9A27.05 5.6 0 0 0 298.3 302.9Z" fill="url(#lq5)"/>
<path d="M298.3 302.9V340.8Q298.3 346.8 304.3 346.8H346.4Q352.4 346.8 352.4 340.8V302.9Z" fill="url(#lh5)"/>
<path d="M301.3 316a1.9 1.9 0 1 0 3.8 0a1.9 1.9 0 1 0 -3.8 0M311.6 314.6a1.7 1.7 0 1 0 3.4 0a1.7 1.7 0 1 0 -3.4 0M319.6 317.6a1.7 1.7 0 1 0 3.4 0a1.7 1.7 0 1 0 -3.4 0M324.8 319.3a2.6 2.6 0 1 0 5.2 0a2.6 2.6 0 1 0 -5.2 0M345.7 313.4a2.5 2.5 0 1 0 5 0a2.5 2.5 0 1 0 -5 0M301.9 325.4a2.7 2.7 0 1 0 5.4 0a2.7 2.7 0 1 0 -5.4 0M343.6 324.5a2.5 2.5 0 1 0 5 0a2.5 2.5 0 1 0 -5 0M322.6 331.7a2.6 2.6 0 1 0 5.2 0a2.6 2.6 0 1 0 -5.2 0M304.3 337.4a2.7 2.7 0 1 0 5.4 0a2.7 2.7 0 1 0 -5.4 0M340.1 337a2.5 2.5 0 1 0 5 0a2.5 2.5 0 1 0 -5 0M319 325.2a1.9 1.9 0 1 0 3.8 0a1.9 1.9 0 1 0 -3.8 0M335.02 336.71a1.73 1.73 0 1 0 3.46 0a1.73 1.73 0 1 0 -3.46 0M323.12 342.36a0.71 0.71 0 1 0 1.41 0a0.71 0.71 0 1 0 -1.41 0M312.17 328.69a1.34 1.34 0 1 0 2.67 0a1.34 1.34 0 1 0 -2.67 0M339.08 315.01a0.8 0.8 0 1 0 1.6 0a0.8 0.8 0 1 0 -1.6 0M306.4 311.27a1.71 1.71 0 1 0 3.43 0a1.71 1.71 0 1 0 -3.43 0M345.94 333.69a0.86 0.86 0 1 0 1.71 0a0.86 0.86 0 1 0 -1.71 0M333.45 321.72a0.7 0.7 0 1 0 1.4 0a0.7 0.7 0 1 0 -1.4 0M339.77 326.61a1.01 1.01 0 1 0 2.03 0a1.01 1.01 0 1 0 -2.03 0M325.59 336.43a1.1 1.1 0 1 0 2.19 0a1.1 1.1 0 1 0 -2.19 0M317.03 331.02a0.74 0.74 0 1 0 1.48 0a0.74 0.74 0 1 0 -1.48 0M315.67 340.03a2.69 2.69 0 1 0 5.38 0a2.69 2.69 0 1 0 -5.38 0M315.17 321.3a1.52 1.52 0 1 0 3.04 0a1.52 1.52 0 1 0 -3.04 0M348.43 328.39a0.71 0.71 0 1 0 1.43 0a0.71 0.71 0 1 0 -1.43 0M341.4 320.29a0.79 0.79 0 1 0 1.58 0a0.79 0.79 0 1 0 -1.58 0M347.87 338.84a1.3 1.3 0 1 0 2.6 0a1.3 1.3 0 1 0 -2.6 0M316.47 313.82a1.41 1.41 0 1 0 2.81 0a1.41 1.41 0 1 0 -2.81 0M332.85 326a0.92 0.92 0 1 0 1.84 0a0.92 0.92 0 1 0 -1.84 0M331.31 335.18a1.08 1.08 0 1 0 2.16 0a1.08 1.08 0 1 0 -2.16 0M331.45 341.76a2.51 2.51 0 1 0 5.03 0a2.51 2.51 0 1 0 -5.03 0M340.98 342.07a0.81 0.81 0 1 0 1.62 0a0.81 0.81 0 1 0 -1.62 0M336.55 331.63a1.73 1.73 0 1 0 3.46 0a1.73 1.73 0 1 0 -3.46 0M331.35 317.99a1.27 1.27 0 1 0 2.54 0a1.27 1.27 0 1 0 -2.54 0M329.63 312.74a1.91 1.91 0 1 0 3.82 0a1.91 1.91 0 1 0 -3.82 0M329.69 330.24a1.14 1.14 0 1 0 2.29 0a1.14 1.14 0 1 0 -2.29 0M307.95 343.68a0.94 0.94 0 1 0 1.89 0a0.94 0.94 0 1 0 -1.89 0M337.36 320.48a0.76 0.76 0 1 0 1.52 0a0.76 0.76 0 1 0 -1.52 0M326.46 327.17a1.36 1.36 0 1 0 2.71 0a1.36 1.36 0 1 0 -2.71 0M307.85 330.12a1.05 1.05 0 1 0 2.1 0a1.05 1.05 0 1 0 -2.1 0M318.4 335.23a0.9 0.9 0 1 0 1.79 0a0.9 0.9 0 1 0 -1.79 0" fill="#149a96" opacity="0.92"/>
<ellipse cx="325.35" cy="302.9" rx="27.05" ry="5.6" fill="url(#ls5)" stroke="#d8f0f8" stroke-width="0.7"/>
<path d="M520.6 297.8V375.3Q520.6 382.8 528.1 382.8H587.5Q595 382.8 595 375.3V297.8Z" fill="url(#gl6)" stroke="#e6e8f3" stroke-width="0.8"/>
<path d="M510.8 302.09Q512.8 296.24 521.05 292.96Q535.65 290 556.5 290A41.7 7.8 0 0 1 556.5 305.6Q531.48 305.6 521.6 303.65Q512.8 304.82 510.8 302.09Z" fill="#fafbfe" stroke="#e3e5f1" stroke-width="0.9"/>
<path d="M523.8 329.5V374.9Q523.8 380.9 529.8 380.9H588Q594 380.9 594 374.9V329.5A35.1 6.5 0 0 0 523.8 329.5Z" fill="url(#lq6)"/>
<path d="M523.8 329.5V374.9Q523.8 380.9 529.8 380.9H588Q594 380.9 594 374.9V329.5Z" fill="url(#lh6)"/>
<path d="M527.3 344.7a2.4 2.4 0 1 0 4.8 0a2.4 2.4 0 1 0 -4.8 0M540.3 343.6a2.4 2.4 0 1 0 4.8 0a2.4 2.4 0 1 0 -4.8 0M551 347.2a2.3 2.3 0 1 0 4.6 0a2.3 2.3 0 1 0 -4.6 0M558.3 349.4a3.4 3.4 0 1 0 6.8 0a3.4 3.4 0 1 0 -6.8 0M585.5 341.8a3.3 3.3 0 1 0 6.6 0a3.3 3.3 0 1 0 -6.6 0M572.3 343.6a1.6 1.6 0 1 0 3.2 0a1.6 1.6 0 1 0 -3.2 0M528.1 356.3a3.4 3.4 0 1 0 6.8 0a3.4 3.4 0 1 0 -6.8 0M583.2 355.2a3.4 3.4 0 1 0 6.8 0a3.4 3.4 0 1 0 -6.8 0M555.4 364.3a3.3 3.3 0 1 0 6.6 0a3.3 3.3 0 1 0 -6.6 0M530.9 371a3.4 3.4 0 1 0 6.8 0a3.4 3.4 0 1 0 -6.8 0M578.7 370.2a3.2 3.2 0 1 0 6.4 0a3.2 3.2 0 1 0 -6.4 0M576.8 349.6a2.2 2.2 0 1 0 4.4 0a2.2 2.2 0 1 0 -4.4 0M550.4 356.3a2.4 2.4 0 1 0 4.8 0a2.4 2.4 0 1 0 -4.8 0M569.6 361.3a2.4 2.4 0 1 0 4.8 0a2.4 2.4 0 1 0 -4.8 0M564.12 355.48a0.73 0.73 0 1 0 1.46 0a0.73 0.73 0 1 0 -1.46 0M534.62 346.7a1.35 1.35 0 1 0 2.69 0a1.35 1.35 0 1 0 -2.69 0M540.35 356.76a1.18 1.18 0 1 0 2.36 0a1.18 1.18 0 1 0 -2.36 0M548.26 367.85a2.51 2.51 0 1 0 5.01 0a2.51 2.51 0 1 0 -5.01 0M532.76 340.29a0.75 0.75 0 1 0 1.5 0a0.75 0.75 0 1 0 -1.5 0M562.69 371.06a0.91 0.91 0 1 0 1.82 0a0.91 0.91 0 1 0 -1.82 0M575.56 360.42a0.95 0.95 0 1 0 1.9 0a0.95 0.95 0 1 0 -1.9 0M583.69 362.05a1.38 1.38 0 1 0 2.76 0a1.38 1.38 0 1 0 -2.76 0M552.96 339.64a0.71 0.71 0 1 0 1.43 0a0.71 0.71 0 1 0 -1.43 0M568.38 376a2.03 2.03 0 1 0 4.05 0a2.03 2.03 0 1 0 -4.05 0M571.35 352.98a2.56 2.56 0 1 0 5.12 0a2.56 2.56 0 1 0 -5.12 0M583.74 348.21a2.39 2.39 0 1 0 4.78 0a2.39 2.39 0 1 0 -4.78 0M577.59 363.74a1.72 1.72 0 1 0 3.44 0a1.72 1.72 0 1 0 -3.44 0M545.18 354.95a0.87 0.87 0 1 0 1.73 0a0.87 0.87 0 1 0 -1.73 0M533.1 363.34a2.07 2.07 0 1 0 4.15 0a2.07 2.07 0 1 0 -4.15 0M569.65 345.64a0.83 0.83 0 1 0 1.65 0a0.83 0.83 0 1 0 -1.65 0M561.11 359.5a1.36 1.36 0 1 0 2.73 0a1.36 1.36 0 1 0 -2.73 0M580.37 358.6a0.9 0.9 0 1 0 1.79 0a0.9 0.9 0 1 0 -1.79 0M555.89 343.52a0.74 0.74 0 1 0 1.49 0a0.74 0.74 0 1 0 -1.49 0M553.98 372.17a1.42 1.42 0 1 0 2.84 0a1.42 1.42 0 1 0 -2.84 0M564.49 342.08a2.54 2.54 0 1 0 5.09 0a2.54 2.54 0 1 0 -5.09 0M579.64 342.34a0.77 0.77 0 1 0 1.55 0a0.77 0.77 0 1 0 -1.55 0M536.98 376.48a1.62 1.62 0 1 0 3.25 0a1.62 1.62 0 1 0 -3.25 0M546.78 344.58a1.48 1.48 0 1 0 2.96 0a1.48 1.48 0 1 0 -2.96 0M546.36 363.13a1.15 1.15 0 1 0 2.29 0a1.15 1.15 0 1 0 -2.29 0M567.48 368.03a1.04 1.04 0 1 0 2.08 0a1.04 1.04 0 1 0 -2.08 0M575.16 371.37a1.07 1.07 0 1 0 2.13 0a1.07 1.07 0 1 0 -2.13 0M541.93 351.34a1.12 1.12 0 1 0 2.25 0a1.12 1.12 0 1 0 -2.25 0M561.54 375.74a2.06 2.06 0 1 0 4.12 0a2.06 2.06 0 1 0 -4.12 0M583.44 376.77a1.52 1.52 0 1 0 3.03 0a1.52 1.52 0 1 0 -3.03 0M548.5 377.31a0.82 0.82 0 1 0 1.64 0a0.82 0.82 0 1 0 -1.64 0M544.47 358.24a0.9 0.9 0 1 0 1.81 0a0.9 0.9 0 1 0 -1.81 0M587.9 368.81a1.29 1.29 0 1 0 2.57 0a1.29 1.29 0 1 0 -2.57 0M547.87 350.59a0.7 0.7 0 1 0 1.4 0a0.7 0.7 0 1 0 -1.4 0M572.84 368.2a0.77 0.77 0 1 0 1.55 0a0.77 0.77 0 1 0 -1.55 0M540.89 373.41a1.17 1.17 0 1 0 2.34 0a1.17 1.17 0 1 0 -2.34 0M572.11 338.95a0.84 0.84 0 1 0 1.67 0a0.84 0.84 0 1 0 -1.67 0M535.33 342.27a0.88 0.88 0 1 0 1.75 0a0.88 0.88 0 1 0 -1.75 0" fill="#149a96" opacity="0.92"/>
<ellipse cx="558.9" cy="329.5" rx="35.1" ry="6.5" fill="url(#ls6)" stroke="#d8f0f8" stroke-width="0.7"/>
<g font-family="'Liberation Sans', sans-serif" font-weight="bold" font-size="10" fill="#15151c" text-anchor="middle" opacity="0.999">
<text x="191" y="156.9">GO</text><text x="191" y="168.9">dispersion</text>
<text x="429.3" y="157.8">HI</text><text x="429.3" y="169.8">solution</text>
<text x="659.8" y="125.0">PDMS</text><text x="659.6" y="137.0">dispersion</text>
</g>
<path d="M150.2 175.6L153.9 172.3" stroke="#f0643a" stroke-width="1" stroke-linecap="round"/>
<path d="M615.3 142.4L617.6 145.3L615.3 148.2Z" fill="#8cc84a"/>
<path d="M354.8 328.6L356.6 329.4L355.9 332.2Z" fill="#9ccc55"/>
<circle cx="287.8" cy="289.7" r="0.6" fill="#e08a9a"/>
<!-- trays -->
<path d="M84 388.8H171.8L184.7 412.1H69.6Z" fill="#b5becd"/>
<path d="M76.84 412.07L79.24 401.97C80.44 401.73 84.18 400.58 86.46 400.52C88.73 400.47 90.86 401.06 92.87 401.65C94.87 402.23 96.34 404.66 98.48 404.05C100.62 403.44 102.76 398.87 105.7 397.96C108.63 397.05 112.51 397.96 116.12 398.6C119.72 399.24 123.92 402.07 127.34 401.81C130.76 401.54 133.97 397.96 136.64 397C139.31 396.03 140.97 395.55 143.37 396.03C145.78 396.51 148.4 399.19 151.07 399.88C153.74 400.58 156.73 400.58 159.41 400.2C162.08 399.83 165.1 397.69 167.1 397.64C169.11 397.58 170.71 399.51 171.43 399.88L174.64 412.07Z" fill="#1f9de1"/><path d="M77.32 412.07L80.84 406.46C82.71 406.64 88.86 407.04 92.07 407.58C95.27 408.11 96.88 410.25 100.08 409.66C103.29 409.07 107.3 404.72 111.31 404.05C115.32 403.38 120.13 405.07 124.13 405.65C128.14 406.24 131.62 407.84 135.36 407.58C139.1 407.31 143.11 404.37 146.58 404.05C150.05 403.73 152.99 405.65 156.2 405.65C159.41 405.65 162.83 403.78 165.82 404.05C168.81 404.32 172.77 406.72 174.16 407.26L174.64 412.07Z" fill="#1b8fd3" opacity="0.75"/>
<path d="M84 388.8L69.6 412.1H76.1L84.8 393.8Z" fill="#9aa1b0"/>
<path d="M171.8 388.8L184.7 412.1H175.2L171 395.8Z" fill="#8d94a2"/>
<rect x="69.6" y="412.1" width="115.1" height="16.8" fill="#c7ced9"/>
<path d="M69.6 412.1H184.7V426.82L184.42 426.82C183.51 426.28 181.27 424.73 178.97 423.61C176.67 422.49 173.3 421.18 170.63 420.08C167.96 418.99 165.61 416.82 162.93 417.04C160.26 417.25 157.27 419.9 154.6 421.37C151.92 422.84 149.57 425.64 146.9 425.86C144.23 426.07 141.29 423.72 138.56 422.65C135.84 421.58 133.43 419.28 130.55 419.44C127.66 419.6 123.65 423.18 121.25 423.61C118.84 424.04 117.99 422.6 116.12 422.01C114.25 421.42 112.03 419.92 110.02 420.08C108.02 420.24 106.23 421.9 104.09 422.97C101.95 424.04 99.47 426.5 97.2 426.5C94.93 426.5 92.92 424.15 90.46 422.97C88 421.79 84.85 419.6 82.45 419.44C80.04 419.28 78.12 421.05 76.03 422.01C73.95 422.97 70.96 424.68 69.94 425.21Z" fill="#a9b5c6"/><rect x="69.6" y="412.1" width="115.1" height="1.1" fill="#c9d1dc"/>
<path d="M295.8 389.9H384.8L396.9 413.3H283.3Z" fill="#d4d8e4"/>
<clipPath id="npclip"><path d="M296.3 391L384.3 391L391.4 413.3L289.6 413.3Z"/></clipPath><g clip-path="url(#npclip)"><path d="M288 413.3L292 400Q340 396.5 388.5 399L392 413.3Z" fill="#3f9ae0"/><path d="M288.45 399.95a2.15 2.15 0 1 0 4.3 0a2.15 2.15 0 1 0 -4.3 0M292.54 400.52a2.15 2.15 0 1 0 4.3 0a2.15 2.15 0 1 0 -4.3 0M296.68 400.99a2.15 2.15 0 1 0 4.3 0a2.15 2.15 0 1 0 -4.3 0M300.34 399.62a2.15 2.15 0 1 0 4.3 0a2.15 2.15 0 1 0 -4.3 0M304.7 399.48a2.15 2.15 0 1 0 4.3 0a2.15 2.15 0 1 0 -4.3 0M308.51 400.16a2.15 2.15 0 1 0 4.3 0a2.15 2.15 0 1 0 -4.3 0M312.53 399.17a2.15 2.15 0 1 0 4.3 0a2.15 2.15 0 1 0 -4.3 0M316.56 398.24a2.15 2.15 0 1 0 4.3 0a2.15 2.15 0 1 0 -4.3 0M320.29 397.91a2.15 2.15 0 1 0 4.3 0a2.15 2.15 0 1 0 -4.3 0M324.68 397.67a2.15 2.15 0 1 0 4.3 0a2.15 2.15 0 1 0 -4.3 0M328.94 398.24a2.15 2.15 0 1 0 4.3 0a2.15 2.15 0 1 0 -4.3 0M332.6 398.89a2.15 2.15 0 1 0 4.3 0a2.15 2.15 0 1 0 -4.3 0M336.73 398.77a2.15 2.15 0 1 0 4.3 0a2.15 2.15 0 1 0 -4.3 0M340.36 400.42a2.15 2.15 0 1 0 4.3 0a2.15 2.15 0 1 0 -4.3 0M344.39 400.75a2.15 2.15 0 1 0 4.3 0a2.15 2.15 0 1 0 -4.3 0M348.78 401.12a2.15 2.15 0 1 0 4.3 0a2.15 2.15 0 1 0 -4.3 0M353.21 400.57a2.15 2.15 0 1 0 4.3 0a2.15 2.15 0 1 0 -4.3 0M357.53 400.33a2.15 2.15 0 1 0 4.3 0a2.15 2.15 0 1 0 -4.3 0M361.97 400.48a2.15 2.15 0 1 0 4.3 0a2.15 2.15 0 1 0 -4.3 0M365.66 398.5a2.15 2.15 0 1 0 4.3 0a2.15 2.15 0 1 0 -4.3 0M369.45 399.34a2.15 2.15 0 1 0 4.3 0a2.15 2.15 0 1 0 -4.3 0M373.44 398.18a2.15 2.15 0 1 0 4.3 0a2.15 2.15 0 1 0 -4.3 0M377.32 397.66a2.15 2.15 0 1 0 4.3 0a2.15 2.15 0 1 0 -4.3 0M381.26 397.36a2.15 2.15 0 1 0 4.3 0a2.15 2.15 0 1 0 -4.3 0M385.39 398.08a2.15 2.15 0 1 0 4.3 0a2.15 2.15 0 1 0 -4.3 0M289.25 401.93a2.15 2.15 0 1 0 4.3 0a2.15 2.15 0 1 0 -4.3 0M293.69 402.24a2.15 2.15 0 1 0 4.3 0a2.15 2.15 0 1 0 -4.3 0M298.18 401.91a2.15 2.15 0 1 0 4.3 0a2.15 2.15 0 1 0 -4.3 0M301.92 402.25a2.15 2.15 0 1 0 4.3 0a2.15 2.15 0 1 0 -4.3 0M306.39 402.33a2.15 2.15 0 1 0 4.3 0a2.15 2.15 0 1 0 -4.3 0M310.51 401.98a2.15 2.15 0 1 0 4.3 0a2.15 2.15 0 1 0 -4.3 0M314.3 402.2a2.15 2.15 0 1 0 4.3 0a2.15 2.15 0 1 0 -4.3 0M318.41 401.21a2.15 2.15 0 1 0 4.3 0a2.15 2.15 0 1 0 -4.3 0M322.07 402.24a2.15 2.15 0 1 0 4.3 0a2.15 2.15 0 1 0 -4.3 0M326.56 400.86a2.15 2.15 0 1 0 4.3 0a2.15 2.15 0 1 0 -4.3 0M330.88 401.44a2.15 2.15 0 1 0 4.3 0a2.15 2.15 0 1 0 -4.3 0M334.62 401.23a2.15 2.15 0 1 0 4.3 0a2.15 2.15 0 1 0 -4.3 0M338.91 402.27a2.15 2.15 0 1 0 4.3 0a2.15 2.15 0 1 0 -4.3 0M342.55 401.81a2.15 2.15 0 1 0 4.3 0a2.15 2.15 0 1 0 -4.3 0M346.19 401.99a2.15 2.15 0 1 0 4.3 0a2.15 2.15 0 1 0 -4.3 0M350.09 402.29a2.15 2.15 0 1 0 4.3 0a2.15 2.15 0 1 0 -4.3 0M354.57 401.61a2.15 2.15 0 1 0 4.3 0a2.15 2.15 0 1 0 -4.3 0M359.07 401.26a2.15 2.15 0 1 0 4.3 0a2.15 2.15 0 1 0 -4.3 0M362.74 401.78a2.15 2.15 0 1 0 4.3 0a2.15 2.15 0 1 0 -4.3 0M366.36 401.06a2.15 2.15 0 1 0 4.3 0a2.15 2.15 0 1 0 -4.3 0M370.33 401.8a2.15 2.15 0 1 0 4.3 0a2.15 2.15 0 1 0 -4.3 0M374.07 400.78a2.15 2.15 0 1 0 4.3 0a2.15 2.15 0 1 0 -4.3 0M378.45 401.26a2.15 2.15 0 1 0 4.3 0a2.15 2.15 0 1 0 -4.3 0M382.92 402.31a2.15 2.15 0 1 0 4.3 0a2.15 2.15 0 1 0 -4.3 0M386.86 401.53a2.15 2.15 0 1 0 4.3 0a2.15 2.15 0 1 0 -4.3 0M286.65 404.86a2.15 2.15 0 1 0 4.3 0a2.15 2.15 0 1 0 -4.3 0M290.79 404.71a2.15 2.15 0 1 0 4.3 0a2.15 2.15 0 1 0 -4.3 0M294.94 405.39a2.15 2.15 0 1 0 4.3 0a2.15 2.15 0 1 0 -4.3 0M299 404.48a2.15 2.15 0 1 0 4.3 0a2.15 2.15 0 1 0 -4.3 0M303.25 404.13a2.15 2.15 0 1 0 4.3 0a2.15 2.15 0 1 0 -4.3 0M307.12 405.46a2.15 2.15 0 1 0 4.3 0a2.15 2.15 0 1 0 -4.3 0M311.19 404.69a2.15 2.15 0 1 0 4.3 0a2.15 2.15 0 1 0 -4.3 0M314.8 404.45a2.15 2.15 0 1 0 4.3 0a2.15 2.15 0 1 0 -4.3 0M318.92 403.74a2.15 2.15 0 1 0 4.3 0a2.15 2.15 0 1 0 -4.3 0M323.08 404.84a2.15 2.15 0 1 0 4.3 0a2.15 2.15 0 1 0 -4.3 0M326.73 404.83a2.15 2.15 0 1 0 4.3 0a2.15 2.15 0 1 0 -4.3 0M330.75 404.92a2.15 2.15 0 1 0 4.3 0a2.15 2.15 0 1 0 -4.3 0M334.67 404.97a2.15 2.15 0 1 0 4.3 0a2.15 2.15 0 1 0 -4.3 0M338.93 403.74a2.15 2.15 0 1 0 4.3 0a2.15 2.15 0 1 0 -4.3 0M342.59 404.92a2.15 2.15 0 1 0 4.3 0a2.15 2.15 0 1 0 -4.3 0M347.05 404.15a2.15 2.15 0 1 0 4.3 0a2.15 2.15 0 1 0 -4.3 0M351.06 404.77a2.15 2.15 0 1 0 4.3 0a2.15 2.15 0 1 0 -4.3 0M354.95 404.36a2.15 2.15 0 1 0 4.3 0a2.15 2.15 0 1 0 -4.3 0M358.83 404.36a2.15 2.15 0 1 0 4.3 0a2.15 2.15 0 1 0 -4.3 0M362.97 404.24a2.15 2.15 0 1 0 4.3 0a2.15 2.15 0 1 0 -4.3 0M366.91 405.09a2.15 2.15 0 1 0 4.3 0a2.15 2.15 0 1 0 -4.3 0M370.53 404.72a2.15 2.15 0 1 0 4.3 0a2.15 2.15 0 1 0 -4.3 0M374.79 404.26a2.15 2.15 0 1 0 4.3 0a2.15 2.15 0 1 0 -4.3 0M378.59 405.15a2.15 2.15 0 1 0 4.3 0a2.15 2.15 0 1 0 -4.3 0M382.41 404.04a2.15 2.15 0 1 0 4.3 0a2.15 2.15 0 1 0 -4.3 0M386.4 404.96a2.15 2.15 0 1 0 4.3 0a2.15 2.15 0 1 0 -4.3 0M390.09 404.28a2.15 2.15 0 1 0 4.3 0a2.15 2.15 0 1 0 -4.3 0M287.45 408.2a2.15 2.15 0 1 0 4.3 0a2.15 2.15 0 1 0 -4.3 0M291.44 408.24a2.15 2.15 0 1 0 4.3 0a2.15 2.15 0 1 0 -4.3 0M295.2 407.31a2.15 2.15 0 1 0 4.3 0a2.15 2.15 0 1 0 -4.3 0M299.38 408.29a2.15 2.15 0 1 0 4.3 0a2.15 2.15 0 1 0 -4.3 0M303.39 407.11a2.15 2.15 0 1 0 4.3 0a2.15 2.15 0 1 0 -4.3 0M307.1 407.65a2.15 2.15 0 1 0 4.3 0a2.15 2.15 0 1 0 -4.3 0M310.87 408.15a2.15 2.15 0 1 0 4.3 0a2.15 2.15 0 1 0 -4.3 0M315.22 407.03a2.15 2.15 0 1 0 4.3 0a2.15 2.15 0 1 0 -4.3 0M319.07 408.15a2.15 2.15 0 1 0 4.3 0a2.15 2.15 0 1 0 -4.3 0M323.25 408.15a2.15 2.15 0 1 0 4.3 0a2.15 2.15 0 1 0 -4.3 0M327.16 406.93a2.15 2.15 0 1 0 4.3 0a2.15 2.15 0 1 0 -4.3 0M331.03 408.13a2.15 2.15 0 1 0 4.3 0a2.15 2.15 0 1 0 -4.3 0M334.87 407.32a2.15 2.15 0 1 0 4.3 0a2.15 2.15 0 1 0 -4.3 0M338.84 407.46a2.15 2.15 0 1 0 4.3 0a2.15 2.15 0 1 0 -4.3 0M342.81 408.36a2.15 2.15 0 1 0 4.3 0a2.15 2.15 0 1 0 -4.3 0M346.55 406.71a2.15 2.15 0 1 0 4.3 0a2.15 2.15 0 1 0 -4.3 0M351 408.28a2.15 2.15 0 1 0 4.3 0a2.15 2.15 0 1 0 -4.3 0M355.49 407.48a2.15 2.15 0 1 0 4.3 0a2.15 2.15 0 1 0 -4.3 0M359.95 408.37a2.15 2.15 0 1 0 4.3 0a2.15 2.15 0 1 0 -4.3 0M363.75 408.04a2.15 2.15 0 1 0 4.3 0a2.15 2.15 0 1 0 -4.3 0M368.1 407.89a2.15 2.15 0 1 0 4.3 0a2.15 2.15 0 1 0 -4.3 0M372.17 407.22a2.15 2.15 0 1 0 4.3 0a2.15 2.15 0 1 0 -4.3 0M376.07 407.11a2.15 2.15 0 1 0 4.3 0a2.15 2.15 0 1 0 -4.3 0M379.73 407.76a2.15 2.15 0 1 0 4.3 0a2.15 2.15 0 1 0 -4.3 0M383.59 408.16a2.15 2.15 0 1 0 4.3 0a2.15 2.15 0 1 0 -4.3 0M387.23 408.33a2.15 2.15 0 1 0 4.3 0a2.15 2.15 0 1 0 -4.3 0M391.46 408.36a2.15 2.15 0 1 0 4.3 0a2.15 2.15 0 1 0 -4.3 0M284.85 411.32a2.15 2.15 0 1 0 4.3 0a2.15 2.15 0 1 0 -4.3 0M288.97 409.72a2.15 2.15 0 1 0 4.3 0a2.15 2.15 0 1 0 -4.3 0M293.24 410.01a2.15 2.15 0 1 0 4.3 0a2.15 2.15 0 1 0 -4.3 0M297.11 410.89a2.15 2.15 0 1 0 4.3 0a2.15 2.15 0 1 0 -4.3 0M301.18 410.44a2.15 2.15 0 1 0 4.3 0a2.15 2.15 0 1 0 -4.3 0M305.63 410.8a2.15 2.15 0 1 0 4.3 0a2.15 2.15 0 1 0 -4.3 0M309.53 410.15a2.15 2.15 0 1 0 4.3 0a2.15 2.15 0 1 0 -4.3 0M313.91 410.56a2.15 2.15 0 1 0 4.3 0a2.15 2.15 0 1 0 -4.3 0M318.21 410.33a2.15 2.15 0 1 0 4.3 0a2.15 2.15 0 1 0 -4.3 0M321.99 410.66a2.15 2.15 0 1 0 4.3 0a2.15 2.15 0 1 0 -4.3 0M326.33 410.01a2.15 2.15 0 1 0 4.3 0a2.15 2.15 0 1 0 -4.3 0M330.64 411.36a2.15 2.15 0 1 0 4.3 0a2.15 2.15 0 1 0 -4.3 0M334.97 411.18a2.15 2.15 0 1 0 4.3 0a2.15 2.15 0 1 0 -4.3 0M338.57 410.83a2.15 2.15 0 1 0 4.3 0a2.15 2.15 0 1 0 -4.3 0M342.95 409.79a2.15 2.15 0 1 0 4.3 0a2.15 2.15 0 1 0 -4.3 0M346.79 410.18a2.15 2.15 0 1 0 4.3 0a2.15 2.15 0 1 0 -4.3 0M350.87 410.46a2.15 2.15 0 1 0 4.3 0a2.15 2.15 0 1 0 -4.3 0M354.89 411.1a2.15 2.15 0 1 0 4.3 0a2.15 2.15 0 1 0 -4.3 0M358.49 409.8a2.15 2.15 0 1 0 4.3 0a2.15 2.15 0 1 0 -4.3 0M362.21 409.92a2.15 2.15 0 1 0 4.3 0a2.15 2.15 0 1 0 -4.3 0M365.87 411.45a2.15 2.15 0 1 0 4.3 0a2.15 2.15 0 1 0 -4.3 0M370.24 409.86a2.15 2.15 0 1 0 4.3 0a2.15 2.15 0 1 0 -4.3 0M374.29 410.27a2.15 2.15 0 1 0 4.3 0a2.15 2.15 0 1 0 -4.3 0M378.17 410.33a2.15 2.15 0 1 0 4.3 0a2.15 2.15 0 1 0 -4.3 0M382.36 410.76a2.15 2.15 0 1 0 4.3 0a2.15 2.15 0 1 0 -4.3 0M386.28 410.04a2.15 2.15 0 1 0 4.3 0a2.15 2.15 0 1 0 -4.3 0M390.18 409.92a2.15 2.15 0 1 0 4.3 0a2.15 2.15 0 1 0 -4.3 0" fill="#48a4e6" stroke="#2f88d2" stroke-width="0.4"/><path d="M289.35 399.65a1.15 1.15 0 1 0 2.3 0a1.15 1.15 0 1 0 -2.3 0M293.44 400.22a1.15 1.15 0 1 0 2.3 0a1.15 1.15 0 1 0 -2.3 0M297.58 400.69a1.15 1.15 0 1 0 2.3 0a1.15 1.15 0 1 0 -2.3 0M301.24 399.32a1.15 1.15 0 1 0 2.3 0a1.15 1.15 0 1 0 -2.3 0M305.6 399.18a1.15 1.15 0 1 0 2.3 0a1.15 1.15 0 1 0 -2.3 0M309.41 399.86a1.15 1.15 0 1 0 2.3 0a1.15 1.15 0 1 0 -2.3 0M313.43 398.87a1.15 1.15 0 1 0 2.3 0a1.15 1.15 0 1 0 -2.3 0M317.46 397.94a1.15 1.15 0 1 0 2.3 0a1.15 1.15 0 1 0 -2.3 0M321.19 397.61a1.15 1.15 0 1 0 2.3 0a1.15 1.15 0 1 0 -2.3 0M325.58 397.37a1.15 1.15 0 1 0 2.3 0a1.15 1.15 0 1 0 -2.3 0M329.84 397.94a1.15 1.15 0 1 0 2.3 0a1.15 1.15 0 1 0 -2.3 0M333.5 398.59a1.15 1.15 0 1 0 2.3 0a1.15 1.15 0 1 0 -2.3 0M337.63 398.47a1.15 1.15 0 1 0 2.3 0a1.15 1.15 0 1 0 -2.3 0M341.26 400.12a1.15 1.15 0 1 0 2.3 0a1.15 1.15 0 1 0 -2.3 0M345.29 400.45a1.15 1.15 0 1 0 2.3 0a1.15 1.15 0 1 0 -2.3 0M349.68 400.82a1.15 1.15 0 1 0 2.3 0a1.15 1.15 0 1 0 -2.3 0M354.11 400.27a1.15 1.15 0 1 0 2.3 0a1.15 1.15 0 1 0 -2.3 0M358.43 400.03a1.15 1.15 0 1 0 2.3 0a1.15 1.15 0 1 0 -2.3 0M362.87 400.18a1.15 1.15 0 1 0 2.3 0a1.15 1.15 0 1 0 -2.3 0M366.56 398.2a1.15 1.15 0 1 0 2.3 0a1.15 1.15 0 1 0 -2.3 0M370.35 399.04a1.15 1.15 0 1 0 2.3 0a1.15 1.15 0 1 0 -2.3 0M374.34 397.88a1.15 1.15 0 1 0 2.3 0a1.15 1.15 0 1 0 -2.3 0M378.22 397.36a1.15 1.15 0 1 0 2.3 0a1.15 1.15 0 1 0 -2.3 0M382.16 397.06a1.15 1.15 0 1 0 2.3 0a1.15 1.15 0 1 0 -2.3 0M386.29 397.78a1.15 1.15 0 1 0 2.3 0a1.15 1.15 0 1 0 -2.3 0M290.15 401.63a1.15 1.15 0 1 0 2.3 0a1.15 1.15 0 1 0 -2.3 0M294.59 401.94a1.15 1.15 0 1 0 2.3 0a1.15 1.15 0 1 0 -2.3 0M299.08 401.61a1.15 1.15 0 1 0 2.3 0a1.15 1.15 0 1 0 -2.3 0M302.82 401.95a1.15 1.15 0 1 0 2.3 0a1.15 1.15 0 1 0 -2.3 0M307.29 402.03a1.15 1.15 0 1 0 2.3 0a1.15 1.15 0 1 0 -2.3 0M311.41 401.68a1.15 1.15 0 1 0 2.3 0a1.15 1.15 0 1 0 -2.3 0M315.2 401.9a1.15 1.15 0 1 0 2.3 0a1.15 1.15 0 1 0 -2.3 0M319.31 400.91a1.15 1.15 0 1 0 2.3 0a1.15 1.15 0 1 0 -2.3 0M322.97 401.94a1.15 1.15 0 1 0 2.3 0a1.15 1.15 0 1 0 -2.3 0M327.46 400.56a1.15 1.15 0 1 0 2.3 0a1.15 1.15 0 1 0 -2.3 0M331.78 401.14a1.15 1.15 0 1 0 2.3 0a1.15 1.15 0 1 0 -2.3 0M335.52 400.93a1.15 1.15 0 1 0 2.3 0a1.15 1.15 0 1 0 -2.3 0M339.81 401.97a1.15 1.15 0 1 0 2.3 0a1.15 1.15 0 1 0 -2.3 0M343.45 401.51a1.15 1.15 0 1 0 2.3 0a1.15 1.15 0 1 0 -2.3 0M347.09 401.69a1.15 1.15 0 1 0 2.3 0a1.15 1.15 0 1 0 -2.3 0M350.99 401.99a1.15 1.15 0 1 0 2.3 0a1.15 1.15 0 1 0 -2.3 0M355.47 401.31a1.15 1.15 0 1 0 2.3 0a1.15 1.15 0 1 0 -2.3 0M359.97 400.96a1.15 1.15 0 1 0 2.3 0a1.15 1.15 0 1 0 -2.3 0M363.64 401.48a1.15 1.15 0 1 0 2.3 0a1.15 1.15 0 1 0 -2.3 0M367.26 400.76a1.15 1.15 0 1 0 2.3 0a1.15 1.15 0 1 0 -2.3 0M371.23 401.5a1.15 1.15 0 1 0 2.3 0a1.15 1.15 0 1 0 -2.3 0M374.97 400.48a1.15 1.15 0 1 0 2.3 0a1.15 1.15 0 1 0 -2.3 0M379.35 400.96a1.15 1.15 0 1 0 2.3 0a1.15 1.15 0 1 0 -2.3 0M383.82 402.01a1.15 1.15 0 1 0 2.3 0a1.15 1.15 0 1 0 -2.3 0M387.76 401.23a1.15 1.15 0 1 0 2.3 0a1.15 1.15 0 1 0 -2.3 0M287.55 404.56a1.15 1.15 0 1 0 2.3 0a1.15 1.15 0 1 0 -2.3 0M291.69 404.41a1.15 1.15 0 1 0 2.3 0a1.15 1.15 0 1 0 -2.3 0M295.84 405.09a1.15 1.15 0 1 0 2.3 0a1.15 1.15 0 1 0 -2.3 0M299.9 404.18a1.15 1.15 0 1 0 2.3 0a1.15 1.15 0 1 0 -2.3 0M304.15 403.83a1.15 1.15 0 1 0 2.3 0a1.15 1.15 0 1 0 -2.3 0M308.02 405.16a1.15 1.15 0 1 0 2.3 0a1.15 1.15 0 1 0 -2.3 0M312.09 404.39a1.15 1.15 0 1 0 2.3 0a1.15 1.15 0 1 0 -2.3 0M315.7 404.15a1.15 1.15 0 1 0 2.3 0a1.15 1.15 0 1 0 -2.3 0M319.82 403.44a1.15 1.15 0 1 0 2.3 0a1.15 1.15 0 1 0 -2.3 0M323.98 404.54a1.15 1.15 0 1 0 2.3 0a1.15 1.15 0 1 0 -2.3 0M327.63 404.53a1.15 1.15 0 1 0 2.3 0a1.15 1.15 0 1 0 -2.3 0M331.65 404.62a1.15 1.15 0 1 0 2.3 0a1.15 1.15 0 1 0 -2.3 0M335.57 404.67a1.15 1.15 0 1 0 2.3 0a1.15 1.15 0 1 0 -2.3 0M339.83 403.44a1.15 1.15 0 1 0 2.3 0a1.15 1.15 0 1 0 -2.3 0M343.49 404.62a1.15 1.15 0 1 0 2.3 0a1.15 1.15 0 1 0 -2.3 0M347.95 403.85a1.15 1.15 0 1 0 2.3 0a1.15 1.15 0 1 0 -2.3 0M351.96 404.47a1.15 1.15 0 1 0 2.3 0a1.15 1.15 0 1 0 -2.3 0M355.85 404.06a1.15 1.15 0 1 0 2.3 0a1.15 1.15 0 1 0 -2.3 0M359.73 404.06a1.15 1.15 0 1 0 2.3 0a1.15 1.15 0 1 0 -2.3 0M363.87 403.94a1.15 1.15 0 1 0 2.3 0a1.15 1.15 0 1 0 -2.3 0M367.81 404.79a1.15 1.15 0 1 0 2.3 0a1.15 1.15 0 1 0 -2.3 0M371.43 404.42a1.15 1.15 0 1 0 2.3 0a1.15 1.15 0 1 0 -2.3 0M375.69 403.96a1.15 1.15 0 1 0 2.3 0a1.15 1.15 0 1 0 -2.3 0M379.49 404.85a1.15 1.15 0 1 0 2.3 0a1.15 1.15 0 1 0 -2.3 0M383.31 403.74a1.15 1.15 0 1 0 2.3 0a1.15 1.15 0 1 0 -2.3 0M387.3 404.66a1.15 1.15 0 1 0 2.3 0a1.15 1.15 0 1 0 -2.3 0M390.99 403.98a1.15 1.15 0 1 0 2.3 0a1.15 1.15 0 1 0 -2.3 0M288.35 407.9a1.15 1.15 0 1 0 2.3 0a1.15 1.15 0 1 0 -2.3 0M292.34 407.94a1.15 1.15 0 1 0 2.3 0a1.15 1.15 0 1 0 -2.3 0M296.1 407.01a1.15 1.15 0 1 0 2.3 0a1.15 1.15 0 1 0 -2.3 0M300.28 407.99a1.15 1.15 0 1 0 2.3 0a1.15 1.15 0 1 0 -2.3 0M304.29 406.81a1.15 1.15 0 1 0 2.3 0a1.15 1.15 0 1 0 -2.3 0M308 407.35a1.15 1.15 0 1 0 2.3 0a1.15 1.15 0 1 0 -2.3 0M311.77 407.85a1.15 1.15 0 1 0 2.3 0a1.15 1.15 0 1 0 -2.3 0M316.12 406.73a1.15 1.15 0 1 0 2.3 0a1.15 1.15 0 1 0 -2.3 0M319.97 407.85a1.15 1.15 0 1 0 2.3 0a1.15 1.15 0 1 0 -2.3 0M324.15 407.85a1.15 1.15 0 1 0 2.3 0a1.15 1.15 0 1 0 -2.3 0M328.06 406.63a1.15 1.15 0 1 0 2.3 0a1.15 1.15 0 1 0 -2.3 0M331.93 407.83a1.15 1.15 0 1 0 2.3 0a1.15 1.15 0 1 0 -2.3 0M335.77 407.02a1.15 1.15 0 1 0 2.3 0a1.15 1.15 0 1 0 -2.3 0M339.74 407.16a1.15 1.15 0 1 0 2.3 0a1.15 1.15 0 1 0 -2.3 0M343.71 408.06a1.15 1.15 0 1 0 2.3 0a1.15 1.15 0 1 0 -2.3 0M347.45 406.41a1.15 1.15 0 1 0 2.3 0a1.15 1.15 0 1 0 -2.3 0M351.9 407.98a1.15 1.15 0 1 0 2.3 0a1.15 1.15 0 1 0 -2.3 0M356.39 407.18a1.15 1.15 0 1 0 2.3 0a1.15 1.15 0 1 0 -2.3 0M360.85 408.07a1.15 1.15 0 1 0 2.3 0a1.15 1.15 0 1 0 -2.3 0M364.65 407.74a1.15 1.15 0 1 0 2.3 0a1.15 1.15 0 1 0 -2.3 0M369 407.59a1.15 1.15 0 1 0 2.3 0a1.15 1.15 0 1 0 -2.3 0M373.07 406.92a1.15 1.15 0 1 0 2.3 0a1.15 1.15 0 1 0 -2.3 0M376.97 406.81a1.15 1.15 0 1 0 2.3 0a1.15 1.15 0 1 0 -2.3 0M380.63 407.46a1.15 1.15 0 1 0 2.3 0a1.15 1.15 0 1 0 -2.3 0M384.49 407.86a1.15 1.15 0 1 0 2.3 0a1.15 1.15 0 1 0 -2.3 0M388.13 408.03a1.15 1.15 0 1 0 2.3 0a1.15 1.15 0 1 0 -2.3 0M392.36 408.06a1.15 1.15 0 1 0 2.3 0a1.15 1.15 0 1 0 -2.3 0M285.75 411.02a1.15 1.15 0 1 0 2.3 0a1.15 1.15 0 1 0 -2.3 0M289.87 409.42a1.15 1.15 0 1 0 2.3 0a1.15 1.15 0 1 0 -2.3 0M294.14 409.71a1.15 1.15 0 1 0 2.3 0a1.15 1.15 0 1 0 -2.3 0M298.01 410.59a1.15 1.15 0 1 0 2.3 0a1.15 1.15 0 1 0 -2.3 0M302.08 410.14a1.15 1.15 0 1 0 2.3 0a1.15 1.15 0 1 0 -2.3 0M306.53 410.5a1.15 1.15 0 1 0 2.3 0a1.15 1.15 0 1 0 -2.3 0M310.43 409.85a1.15 1.15 0 1 0 2.3 0a1.15 1.15 0 1 0 -2.3 0M314.81 410.26a1.15 1.15 0 1 0 2.3 0a1.15 1.15 0 1 0 -2.3 0M319.11 410.03a1.15 1.15 0 1 0 2.3 0a1.15 1.15 0 1 0 -2.3 0M322.89 410.36a1.15 1.15 0 1 0 2.3 0a1.15 1.15 0 1 0 -2.3 0M327.23 409.71a1.15 1.15 0 1 0 2.3 0a1.15 1.15 0 1 0 -2.3 0M331.54 411.06a1.15 1.15 0 1 0 2.3 0a1.15 1.15 0 1 0 -2.3 0M335.87 410.88a1.15 1.15 0 1 0 2.3 0a1.15 1.15 0 1 0 -2.3 0M339.47 410.53a1.15 1.15 0 1 0 2.3 0a1.15 1.15 0 1 0 -2.3 0M343.85 409.49a1.15 1.15 0 1 0 2.3 0a1.15 1.15 0 1 0 -2.3 0M347.69 409.88a1.15 1.15 0 1 0 2.3 0a1.15 1.15 0 1 0 -2.3 0M351.77 410.16a1.15 1.15 0 1 0 2.3 0a1.15 1.15 0 1 0 -2.3 0M355.79 410.8a1.15 1.15 0 1 0 2.3 0a1.15 1.15 0 1 0 -2.3 0M359.39 409.5a1.15 1.15 0 1 0 2.3 0a1.15 1.15 0 1 0 -2.3 0M363.11 409.62a1.15 1.15 0 1 0 2.3 0a1.15 1.15 0 1 0 -2.3 0M366.77 411.15a1.15 1.15 0 1 0 2.3 0a1.15 1.15 0 1 0 -2.3 0M371.14 409.56a1.15 1.15 0 1 0 2.3 0a1.15 1.15 0 1 0 -2.3 0M375.19 409.97a1.15 1.15 0 1 0 2.3 0a1.15 1.15 0 1 0 -2.3 0M379.07 410.03a1.15 1.15 0 1 0 2.3 0a1.15 1.15 0 1 0 -2.3 0M383.26 410.46a1.15 1.15 0 1 0 2.3 0a1.15 1.15 0 1 0 -2.3 0M387.18 409.74a1.15 1.15 0 1 0 2.3 0a1.15 1.15 0 1 0 -2.3 0M391.08 409.62a1.15 1.15 0 1 0 2.3 0a1.15 1.15 0 1 0 -2.3 0" fill="#cbe6fa" opacity="0.8"/></g>
<path d="M295.8 389.9L283.3 413.3H289.8L296.6 394.9Z" fill="#9c9fa5"/>
<path d="M384.8 389.9L396.9 413.3H387.4L384 396.9Z" fill="#9b9ea6"/>
<rect x="283.3" y="413.3" width="113.6" height="16.7" fill="#a4a7ac"/>
<path d="M335.93 420.04h0.01M300.24 426.7h0.01M285.71 421.79h0.01M383.81 416.09h0.01M345.97 423.32h0.01M289.5 420.12h0.01M362.38 421.1h0.01M364.76 417.12h0.01M311.18 416.5h0.01M340.69 427.47h0.01M349.95 425.45h0.01M327.2 425.07h0.01M296.18 418.93h0.01M359.17 424.8h0.01M331.39 416.18h0.01M314.34 417.83h0.01M315.93 425.93h0.01M306.94 426.97h0.01M381.73 415.74h0.01M326.67 421.64h0.01M287.58 420.73h0.01M384.71 416.51h0.01M350.65 416.64h0.01M348.66 427.09h0.01M307.34 415.11h0.01M294.19 422.29h0.01M286.92 416.15h0.01M339.64 427.43h0.01M331.21 420.37h0.01M355.26 416.26h0.01M348.78 417.33h0.01M351.98 427.94h0.01M290.96 422.49h0.01M351.7 417.02h0.01M314.51 428.43h0.01M394.78 416.64h0.01M362.6 427.84h0.01M311.05 423.25h0.01M289.73 419.94h0.01M359.15 422.97h0.01M370.21 416.17h0.01M323.19 426.66h0.01M349.26 421.09h0.01M329.24 428.31h0.01M348.19 415.25h0.01M372.93 419.44h0.01M332.69 417.88h0.01M333.84 419.38h0.01M294.77 423.5h0.01M296.34 425.59h0.01M287.79 425.54h0.01M373.83 421.71h0.01M363.04 418.35h0.01M366.14 420.74h0.01M310.4 428.02h0.01M329.1 420.04h0.01M379.59 419.99h0.01M358.43 417.31h0.01M377.76 418.5h0.01M290.56 428.17h0.01M304 427.78h0.01M393.48 423.19h0.01M286.31 415.82h0.01M307.95 420.25h0.01M352.27 428.05h0.01M324 416.9h0.01M346.81 416.85h0.01M294.52 422.51h0.01M361.56 415.89h0.01M334.65 424.5h0.01M369.06 420.17h0.01M382.59 417.28h0.01M363.7 425.42h0.01M381.83 421.67h0.01M295.91 415.65h0.01M343.17 417.34h0.01M354.27 416.14h0.01M370.82 418h0.01M286.43 417.37h0.01M335.24 422.55h0.01M327.71 417.34h0.01M338.03 427.78h0.01M343.9 427.71h0.01M288.17 428.41h0.01M382.79 422.35h0.01M342.58 422.25h0.01M385.05 415.89h0.01M355.71 422.32h0.01M318.03 424.79h0.01M364.27 416.39h0.01M361.95 421.12h0.01M338.92 423.6h0.01M290.82 423.14h0.01M326.05 426.86h0.01M310.42 426.11h0.01M365.25 423.44h0.01M381.34 415.49h0.01M350.67 423.28h0.01M359.59 420.49h0.01M292.59 417.55h0.01M351.89 417.45h0.01M292.14 419.79h0.01M336.73 422.23h0.01M287.86 425.47h0.01M321.72 425.57h0.01M285.94 427.88h0.01M349.93 428.18h0.01M393.49 426.24h0.01M296.69 419.71h0.01M310.44 425.53h0.01M306.14 417.99h0.01M297.17 416.62h0.01M388.19 428.18h0.01M325.97 425h0.01M336.43 422.05h0.01M325.64 423.57h0.01M310.98 418.46h0.01M341.96 417.66h0.01M333.32 427.74h0.01M287.45 416.39h0.01M373 415.78h0.01M312.64 426.5h0.01M351.58 417.98h0.01M291.45 418.71h0.01M318.02 425.8h0.01M392.31 425.61h0.01M384.19 427.56h0.01M381.42 427.42h0.01M391.43 416.27h0.01M319.94 418.34h0.01M351.46 421.64h0.01M323.16 426.3h0.01M328.9 417.82h0.01M315.4 421.23h0.01M352.15 422.67h0.01M333.39 417.52h0.01M329.24 419.39h0.01M303.76 422.34h0.01M305.74 424.61h0.01M357.46 416.86h0.01M353.79 419.56h0.01M334.18 423.19h0.01M368.78 426.93h0.01M365.69 417.85h0.01M344.61 419.53h0.01M287.1 422.46h0.01M336.77 426.7h0.01M320.61 426.25h0.01M341.56 416.34h0.01M363.86 418.84h0.01" stroke="#c0c3c8" stroke-width="1.1" stroke-linecap="round" opacity="0.55"/>
<circle cx="203.8" cy="492.2" r="6.4" fill="url(#leg1)"/>
<circle cx="503.8" cy="495.4" r="17.6" fill="#109c9b"/><circle cx="498.0" cy="492.4" r="5.1" fill="#fbfdfd"/>
<g font-family="'Liberation Sans', sans-serif" font-weight="bold" opacity="0.999">
<text x="71.7" y="241.2" font-size="15.45" fill="#0d0d0d" text-anchor="middle" >Pristine fabric</text>
<text x="306.8" y="240.5" font-size="15.45" fill="#0d0d0d" text-anchor="middle" >GO@fabric</text>
<text x="537.1" y="240.5" font-size="15.45" fill="#0d0d0d" text-anchor="middle" >rGO@fabric</text>
<text x="771.5" y="242" font-size="15.45" fill="#0d0d0d" text-anchor="middle" >PDMS-rGO@fabric</text>
<text x="187.9" y="192" font-size="13.1" fill="#e31b23" text-anchor="middle" >Immersed in GO</text>
<text x="187.9" y="207.7" font-size="13.1" fill="#e31b23" text-anchor="middle" >for 5 min</text>
<text x="426.4" y="193.7" font-size="13.1" fill="#e31b23" text-anchor="middle" >Reduced in HI</text>
<text x="425.9" y="209.4" font-size="13.1" fill="#e31b23" text-anchor="middle" >for 30 min</text>
<text x="654.5" y="193.4" font-size="13.1" fill="#e31b23" text-anchor="middle" >Immersed in</text>
<text x="656.3" y="209.2" font-size="13.1" fill="#e31b23" text-anchor="middle" >PDMS for 2 min</text>
<text x="230.6" y="309.5" font-size="13.1" fill="#e31b23" text-anchor="middle" >Ultrasonic for</text>
<text x="231.9" y="325.3" font-size="13.1" fill="#e31b23" text-anchor="middle" >20 min</text>
<text x="461.5" y="327.9" font-size="13.1" fill="#e31b23" text-anchor="middle" >Ultrasonic</text>
<text x="463.2" y="343.8" font-size="13.1" fill="#e31b23" text-anchor="middle" >mix for 2 min</text>
<text x="231" y="409" font-size="13.1" fill="#e31b23" text-anchor="middle" >for 2 h</text>
<text x="187.7" y="393.4" font-size="13.1" fill="#e31b23">Heat at 400 <tspan font-family="'Liberation Serif', serif" font-size="12.5">°C</tspan></text>
<text x="130" y="364.6" font-size="15.25" fill="#0d0d0d" text-anchor="middle" >PDMS in ethanol</text>
<text x="321.5" y="364.6" font-size="15.25" fill="#0d0d0d" text-anchor="middle" >PDMS MPs dispersion</text>
<text x="128.4" y="454.7" font-size="15.25" fill="#0d0d0d" text-anchor="middle" >Liquid PDMS</text>
<text x="332.7" y="454.7" font-size="15.25" fill="#0d0d0d" text-anchor="middle" >PDMS NPs</text>
<text x="559.7" y="404.9" font-size="15.25" fill="#0d0d0d" text-anchor="middle" >PDMS</text>
<text x="559.9" y="422.9" font-size="15.25" fill="#0d0d0d" text-anchor="middle" >dispersion</text>
<text x="228.3" y="500.8" font-size="15.25" fill="#0d0d0d" text-anchor="start" >PDMS nanoparticles</text>
<text x="537" y="504.3" font-size="15.25" fill="#0d0d0d" text-anchor="start" >PDMS microparticles</text>
</g>
<!-- magnifier -->
<g fill="none" stroke="#e3141c" stroke-width="2.0" stroke-dasharray="7.4 4.0">
<rect x="792.1" y="185.7" width="41.7" height="36.9"/>
<path d="M792.1 222.6L714.8 276.8"/><path d="M833.8 222.6V276.8"/>
<rect x="714.8" y="276.8" width="119.4" height="109"/>
</g>
<clipPath id="magclip"><rect x="716" y="278" width="117.2" height="106.8"/></clipPath>
<g clip-path="url(#magclip)">
<path d="M714.45 378.3L717.84 378.13L721.16 377.63L724.33 376.79L727.28 375.62L729.94 374.14L732.27 372.35L734.21 370.27L735.73 367.91L736.82 365.29L737.45 362.43L737.65 359.34L737.42 356.06L736.8 352.61L735.82 349L734.55 345.28L733.03 341.46L731.34 337.57L729.56 333.65L727.75 329.72L725.99 325.81L724.37 321.95L722.94 318.16L721.78 314.49L720.95 310.94L720.48 307.56L720.43 304.35L720.81 301.36L721.63 298.59L722.9 296.08L724.6 293.83L726.7 291.87L729.18 290.2L731.96 288.85L735.01 287.82L738.25 287.12L741.61 286.76L745.01 286.73L748.38 287.04L751.65 287.68L754.73 288.65L757.57 289.95L760.1 291.56L762.27 293.47L764.04 295.67L765.38 298.14L766.29 300.87L766.74 303.83L766.76 307L766.36 310.35L765.58 313.87L764.48 317.53L763.09 321.3L761.5 325.15L759.76 329.05L757.95 332.98L756.16 336.91L754.45 340.8L752.9 344.63L751.58 348.37L750.54 352L749.86 355.48L749.56 358.8L749.68 361.92L750.24 364.82L751.25 367.48L752.7 369.89L754.58 372.02L756.84 373.86L759.45 375.39L762.35 376.61L765.48 377.51L768.78 378.07L772.17 378.3L775.57 378.18L778.9 377.74L782.1 376.95L785.09 375.85L787.81 374.42L790.19 372.68L792.2 370.65L793.8 368.33L794.96 365.76L795.68 362.93L795.95 359.88L795.79 356.63L795.23 353.21L794.31 349.63L793.08 345.92L791.6 342.12L789.94 338.24L788.16 334.32L786.35 330.39L784.58 326.47L782.93 322.6L781.47 318.8L780.26 315.11L779.36 311.54L778.83 308.12L778.71 304.89L779.01 301.85L779.76 299.05L780.95 296.49L782.58 294.19L784.62 292.18L787.03 290.47L789.77 289.06L792.78 287.98L795.99 287.22L799.33 286.8L802.73 286.71L806.11 286.96L809.4 287.55L812.52 288.47L815.4 289.71L817.99 291.27L820.23 293.13L822.07 295.28L823.49 297.7L824.46 300.39L824.99 303.31L825.08 306.44L824.75 309.77L824.04 313.26L822.99 316.9L821.65 320.65L820.08 324.48L818.36 328.38L816.56 332.31L814.76 336.24L813.03 340.14L811.45 343.98L810.08 347.74L809 351.39L808.25 354.9L807.88 358.24L807.93 361.4L808.42 364.34L809.35 367.04L810.72 369.5L812.53 371.68L814.73 373.57L817.28 375.15L820.14 376.43L823.24 377.38L826.51 378L829.89 378.28L833.29 378.23L836.64 377.84L839.87 377.11L842.9 376.06" fill="none" stroke="#3a3a3a" stroke-width="9.6" stroke-linecap="round" stroke-linejoin="round"/>
<path d="M714.45 378.3L717.84 378.13L721.16 377.63L724.33 376.79L727.28 375.62L729.94 374.14L732.27 372.35L734.21 370.27L735.73 367.91L736.82 365.29L737.45 362.43L737.65 359.34L737.42 356.06L736.8 352.61L735.82 349L734.55 345.28L733.03 341.46L731.34 337.57L729.56 333.65L727.75 329.72L725.99 325.81L724.37 321.95L722.94 318.16L721.78 314.49L720.95 310.94L720.48 307.56L720.43 304.35L720.81 301.36L721.63 298.59L722.9 296.08L724.6 293.83L726.7 291.87L729.18 290.2L731.96 288.85L735.01 287.82L738.25 287.12L741.61 286.76L745.01 286.73L748.38 287.04L751.65 287.68L754.73 288.65L757.57 289.95L760.1 291.56L762.27 293.47L764.04 295.67L765.38 298.14L766.29 300.87L766.74 303.83L766.76 307L766.36 310.35L765.58 313.87L764.48 317.53L763.09 321.3L761.5 325.15L759.76 329.05L757.95 332.98L756.16 336.91L754.45 340.8L752.9 344.63L751.58 348.37L750.54 352L749.86 355.48L749.56 358.8L749.68 361.92L750.24 364.82L751.25 367.48L752.7 369.89L754.58 372.02L756.84 373.86L759.45 375.39L762.35 376.61L765.48 377.51L768.78 378.07L772.17 378.3L775.57 378.18L778.9 377.74L782.1 376.95L785.09 375.85L787.81 374.42L790.19 372.68L792.2 370.65L793.8 368.33L794.96 365.76L795.68 362.93L795.95 359.88L795.79 356.63L795.23 353.21L794.31 349.63L793.08 345.92L791.6 342.12L789.94 338.24L788.16 334.32L786.35 330.39L784.58 326.47L782.93 322.6L781.47 318.8L780.26 315.11L779.36 311.54L778.83 308.12L778.71 304.89L779.01 301.85L779.76 299.05L780.95 296.49L782.58 294.19L784.62 292.18L787.03 290.47L789.77 289.06L792.78 287.98L795.99 287.22L799.33 286.8L802.73 286.71L806.11 286.96L809.4 287.55L812.52 288.47L815.4 289.71L817.99 291.27L820.23 293.13L822.07 295.28L823.49 297.7L824.46 300.39L824.99 303.31L825.08 306.44L824.75 309.77L824.04 313.26L822.99 316.9L821.65 320.65L820.08 324.48L818.36 328.38L816.56 332.31L814.76 336.24L813.03 340.14L811.45 343.98L810.08 347.74L809 351.39L808.25 354.9L807.88 358.24L807.93 361.4L808.42 364.34L809.35 367.04L810.72 369.5L812.53 371.68L814.73 373.57L817.28 375.15L820.14 376.43L823.24 377.38L826.51 378L829.89 378.28L833.29 378.23L836.64 377.84L839.87 377.11L842.9 376.06" fill="none" stroke="#464646" stroke-width="4.4" stroke-linecap="round" stroke-linejoin="round"/>
<circle cx="725.79" cy="289.79" r="4.58" fill="url(#tealg)"/>
<circle cx="733.08" cy="296.04" r="3.75" fill="url(#tealg)"/>
<circle cx="714.33" cy="308.54" r="2.5" fill="url(#tealg)"/>
<circle cx="728.92" cy="314.79" r="2.92" fill="url(#tealg)"/>
<circle cx="729.96" cy="335.62" r="5.83" fill="url(#tealg)"/>
<circle cx="736.21" cy="332.5" r="2.5" fill="url(#tealg)"/>
<circle cx="738.29" cy="345" r="4.17" fill="url(#tealg)"/>
<circle cx="743.5" cy="350.21" r="2.92" fill="url(#tealg)"/>
<circle cx="721.62" cy="371.04" r="5.83" fill="url(#tealg)"/>
<circle cx="728.92" cy="367.92" r="2.92" fill="url(#tealg)"/>
<circle cx="744.54" cy="289.79" r="5" fill="url(#tealg)"/>
<circle cx="759.12" cy="307.5" r="3.75" fill="url(#tealg)"/>
<circle cx="768.5" cy="317.92" r="3.33" fill="url(#tealg)"/>
<circle cx="766.42" cy="325.21" r="2.92" fill="url(#tealg)"/>
<circle cx="750.79" cy="330.42" r="6.25" fill="url(#tealg)"/>
<circle cx="756" cy="326.25" r="3.33" fill="url(#tealg)"/>
<circle cx="749.75" cy="337.71" r="2.92" fill="url(#tealg)"/>
<circle cx="745.58" cy="353.33" r="2.5" fill="url(#tealg)"/>
<circle cx="754.96" cy="359.58" r="5.21" fill="url(#tealg)"/>
<circle cx="758.08" cy="366.88" r="2.92" fill="url(#tealg)"/>
<circle cx="754.96" cy="373.12" r="3.75" fill="url(#tealg)"/>
<circle cx="762.25" cy="378.33" r="2.92" fill="url(#tealg)"/>
<circle cx="774.75" cy="382.5" r="3.33" fill="url(#tealg)"/>
<circle cx="778.92" cy="373.12" r="1.67" fill="url(#tealg)"/>
<circle cx="785.17" cy="378.33" r="2.92" fill="url(#tealg)"/>
<circle cx="791.42" cy="366.88" r="4.58" fill="url(#tealg)"/>
<circle cx="786.21" cy="361.67" r="1.67" fill="url(#tealg)"/>
<circle cx="777.88" cy="300.21" r="3.33" fill="url(#tealg)"/>
<circle cx="779.96" cy="309.58" r="5.42" fill="url(#tealg)"/>
<circle cx="784.12" cy="324.17" r="4.17" fill="url(#tealg)"/>
<circle cx="788.29" cy="337.71" r="4.58" fill="url(#tealg)"/>
<circle cx="783.08" cy="342.92" r="3.75" fill="url(#tealg)"/>
<circle cx="793.5" cy="349.17" r="3.33" fill="url(#tealg)"/>
<circle cx="795.58" cy="331.46" r="2.5" fill="url(#tealg)"/>
<circle cx="799.75" cy="284.58" r="4.58" fill="url(#tealg)"/>
<circle cx="803.92" cy="288.75" r="3.33" fill="url(#tealg)"/>
<circle cx="808.08" cy="297.08" r="1.67" fill="url(#tealg)"/>
<circle cx="823.71" cy="296.04" r="3.33" fill="url(#tealg)"/>
<circle cx="826.83" cy="304.38" r="4.58" fill="url(#tealg)"/>
<circle cx="816.42" cy="313.75" r="2.08" fill="url(#tealg)"/>
<circle cx="825.79" cy="321.04" r="3.75" fill="url(#tealg)"/>
<circle cx="819.54" cy="334.58" r="5.21" fill="url(#tealg)"/>
<circle cx="811.21" cy="331.46" r="2.08" fill="url(#tealg)"/>
<circle cx="809.12" cy="337.71" r="1.67" fill="url(#tealg)"/>
<circle cx="817.46" cy="346.04" r="3.33" fill="url(#tealg)"/>
<circle cx="804.96" cy="355.42" r="2.08" fill="url(#tealg)"/>
<circle cx="814.33" cy="359.58" r="4.58" fill="url(#tealg)"/>
<circle cx="809.12" cy="372.08" r="4.17" fill="url(#tealg)"/>
<circle cx="819.54" cy="370" r="2.92" fill="url(#tealg)"/>
<circle cx="826.83" cy="372.08" r="4.58" fill="url(#tealg)"/>
<circle cx="822.67" cy="378.33" r="2.08" fill="url(#tealg)"/>
<circle cx="768.5" cy="384.17" r="2.5" fill="url(#tealg)"/>
<circle cx="748.71" cy="364.79" r="2.5" fill="url(#tealg)"/>
<circle cx="718.5" cy="317.92" r="2.08" fill="url(#tealg)"/>
<circle cx="735.17" cy="284.58" r="2.5" fill="url(#npg)" stroke="#8fb4e8" stroke-width="0.5"/>
<circle cx="756" cy="290.83" r="2.5" fill="url(#npg)" stroke="#8fb4e8" stroke-width="0.5"/>
<circle cx="765.38" cy="298.12" r="2.5" fill="url(#npg)" stroke="#8fb4e8" stroke-width="0.5"/>
<circle cx="767.46" cy="307.5" r="2.5" fill="url(#npg)" stroke="#8fb4e8" stroke-width="0.5"/>
<circle cx="727.88" cy="302.29" r="2.5" fill="url(#npg)" stroke="#8fb4e8" stroke-width="0.5"/>
<circle cx="722.67" cy="312.71" r="2.5" fill="url(#npg)" stroke="#8fb4e8" stroke-width="0.5"/>
<circle cx="727.88" cy="323.12" r="2.5" fill="url(#npg)" stroke="#8fb4e8" stroke-width="0.5"/>
<circle cx="759.12" cy="323.12" r="2.5" fill="url(#npg)" stroke="#8fb4e8" stroke-width="0.5"/>
<circle cx="759.12" cy="341.88" r="2.5" fill="url(#npg)" stroke="#8fb4e8" stroke-width="0.5"/>
<circle cx="733.08" cy="352.29" r="2.5" fill="url(#npg)" stroke="#8fb4e8" stroke-width="0.5"/>
<circle cx="734.12" cy="361.67" r="2.5" fill="url(#npg)" stroke="#8fb4e8" stroke-width="0.5"/>
<circle cx="736.21" cy="372.08" r="2.5" fill="url(#npg)" stroke="#8fb4e8" stroke-width="0.5"/>
<circle cx="787.25" cy="287.71" r="2.5" fill="url(#npg)" stroke="#8fb4e8" stroke-width="0.5"/>
<circle cx="791.42" cy="297.08" r="2.5" fill="url(#npg)" stroke="#8fb4e8" stroke-width="0.5"/>
<circle cx="818.5" cy="291.88" r="2.5" fill="url(#npg)" stroke="#8fb4e8" stroke-width="0.5"/>
<circle cx="825.79" cy="313.75" r="2.5" fill="url(#npg)" stroke="#8fb4e8" stroke-width="0.5"/>
<circle cx="818.5" cy="323.12" r="2.5" fill="url(#npg)" stroke="#8fb4e8" stroke-width="0.5"/>
<circle cx="808.08" cy="346.04" r="2.5" fill="url(#npg)" stroke="#8fb4e8" stroke-width="0.5"/>
<circle cx="796.62" cy="356.46" r="2.5" fill="url(#npg)" stroke="#8fb4e8" stroke-width="0.5"/>
</g>
<path d="M157.9 213.55H212.2V210.3L220.8 217.1L212.2 223.9V220.65H157.9Z" fill="#f00f14"/>
<path d="M397.6 215.95H452.8V212.7L460.6 219.5L452.8 226.3V223.05H397.6Z" fill="#f00f14"/>
<path d="M629 214.25H684.3V211.15L692.2 217.8L684.3 224.45V221.35H629Z" fill="#f00f14"/>
<path d="M200.6 332.25H255.8V329.2L263.4 335.8L255.8 342.4V339.35H200.6Z" fill="#f6a978"/>
<path d="M204.6 415.25H259.6V412.2L266.9 418.8L259.6 425.4V422.35H204.6Z" fill="#f6a978"/>
<path d="M389.4 311.4H420.1V348.1H498.6V345.2L505.7 351.7L498.6 358.3V355.3H420.1V388.4H388.4V381.6H412.9V318.1H389.4Z" fill="#f6a978"/>
<path d="M603 349.6H637A22.6 22.6 0 0 0 659.6 327V290" fill="none" stroke="#f6a978" stroke-width="7.2"/>
<path d="M650.3 291.6L659.5 276.8L668.7 291.6Z" fill="#f6a978"/>
</svg>
</body></html>
